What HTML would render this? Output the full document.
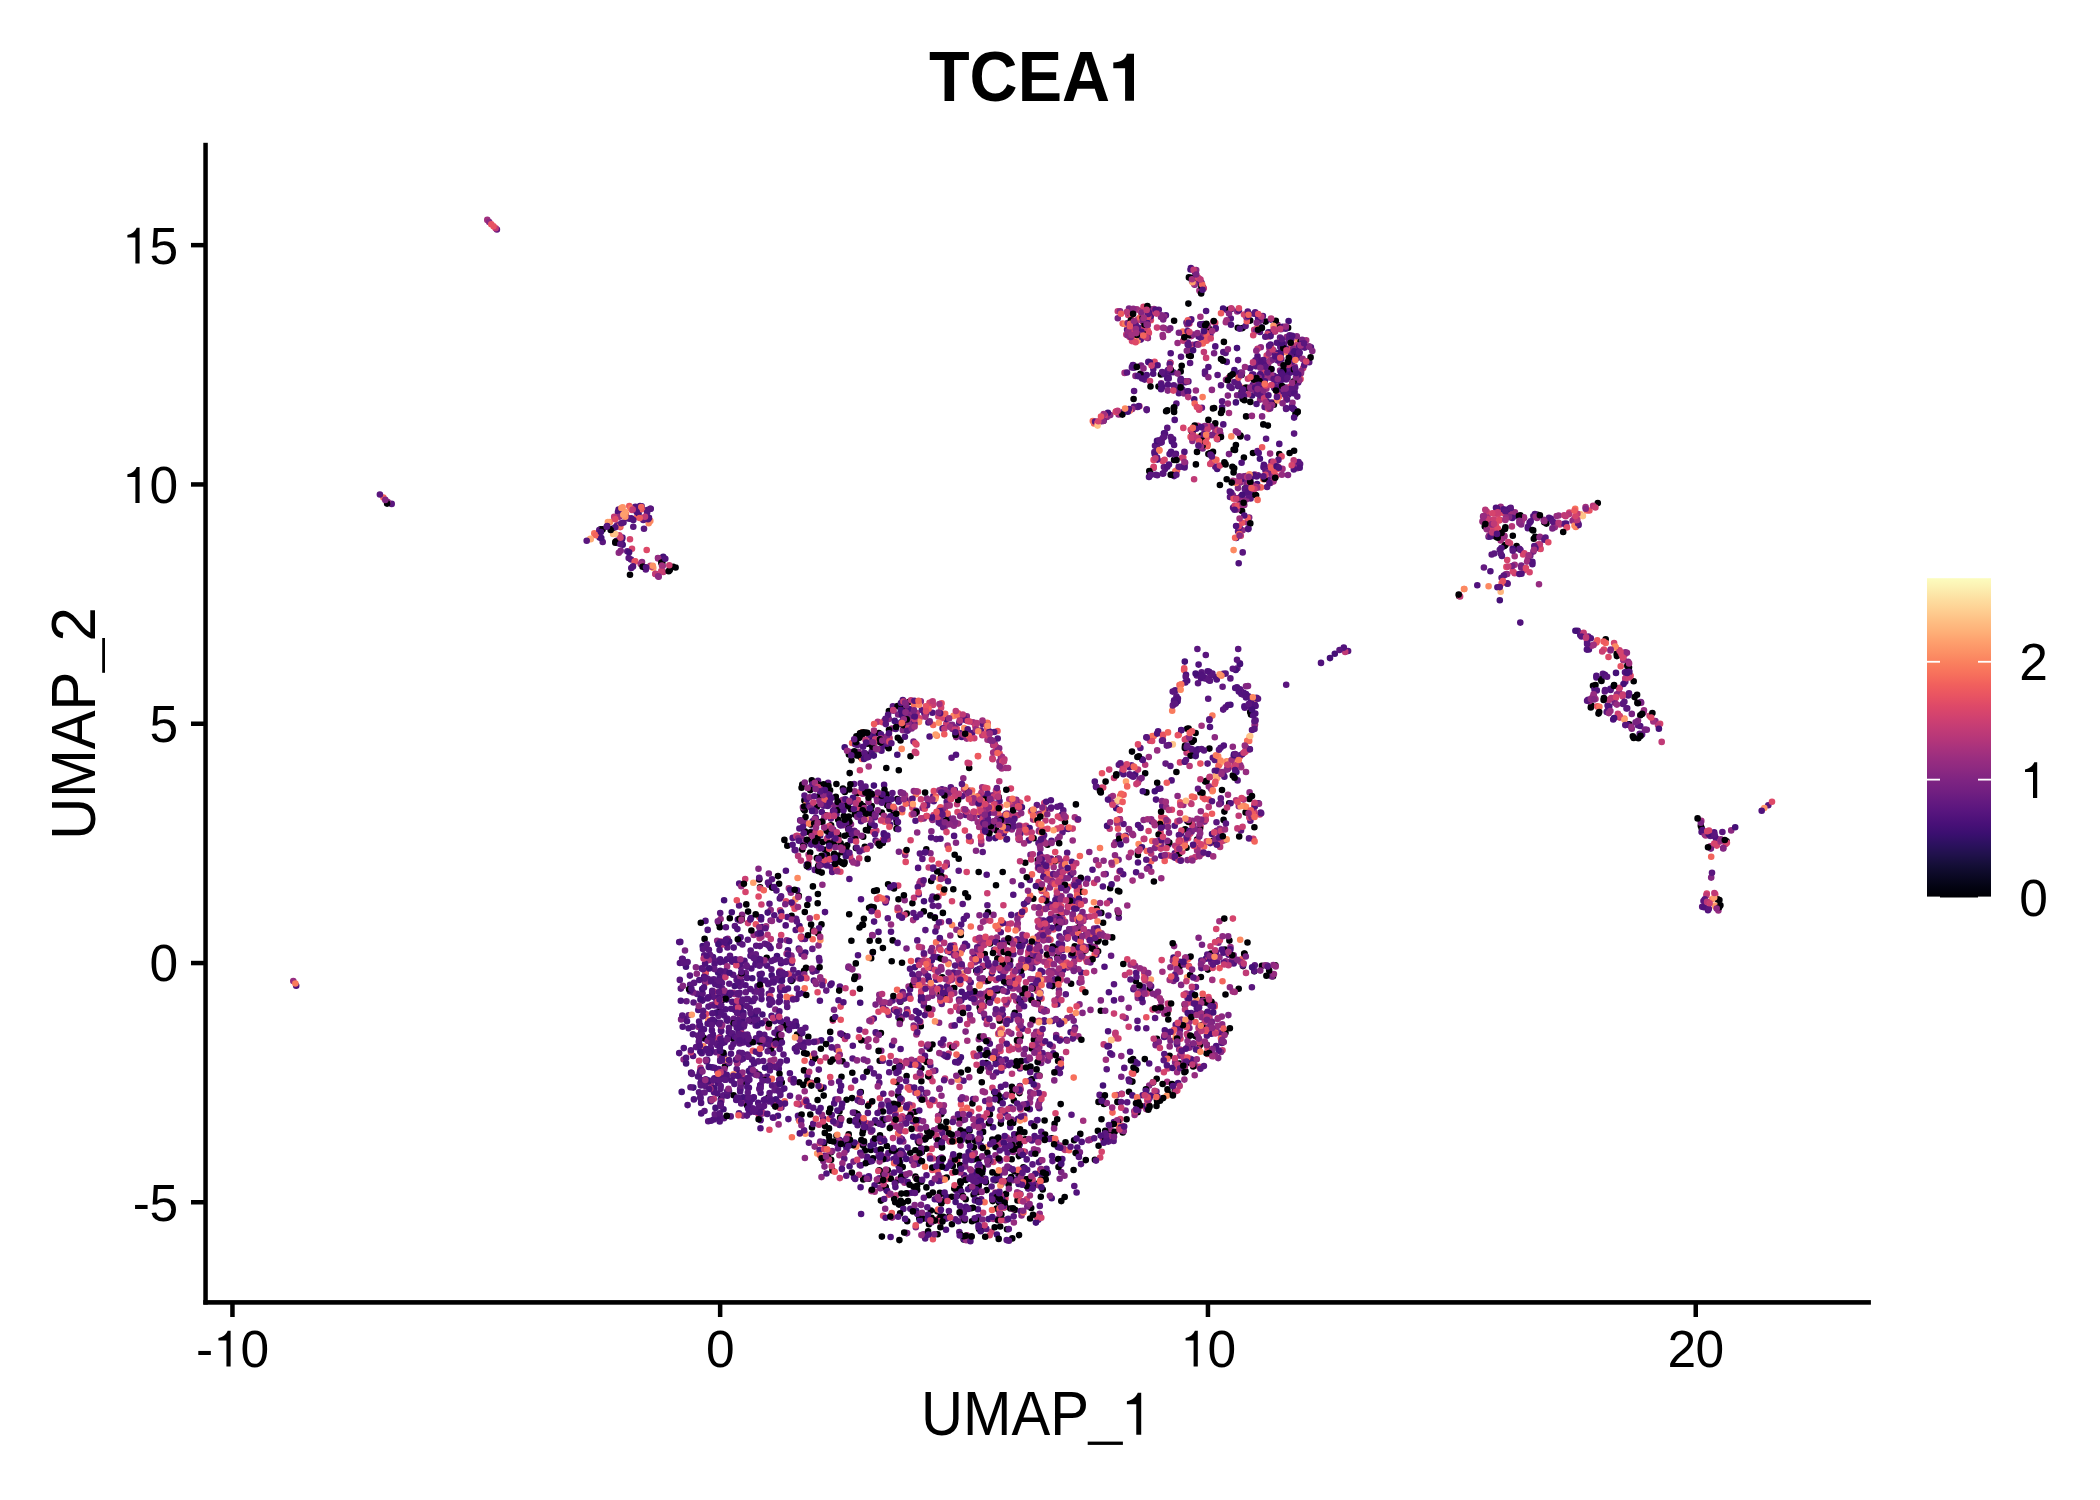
<!DOCTYPE html>
<html><head><meta charset="utf-8"><style>
html,body{margin:0;padding:0;background:#fff;width:2100px;height:1500px;overflow:hidden}
svg{display:block}
</style></head><body>
<svg width="2100" height="1500" viewBox="0 0 2100 1500" font-family='"Liberation Sans", sans-serif'>
<rect width="2100" height="1500" fill="#fff"/>
<g fill="none" stroke-width="6.60" stroke-linecap="round"><path stroke="#000004" d="M958.7 858.7h0M1018.8 1019.4h0M1174.8 1090.8h0M941.8 1147.0h0M849.3 834.0h0M1133.1 1059.1h0M886.3 737.5h0M999.1 1202.3h0M787.3 845.7h0M813.2 1059.4h0M910.5 756.3h0M1243.9 457.6h0M817.9 894.0h0M926.1 1137.5h0M1213.6 960.8h0M869.3 1161.4h0M870.1 825.2h0M897.3 799.1h0M938.6 1120.5h0M871.2 958.3h0M960.4 1166.4h0M983.0 966.9h0M1520.3 515.2h0M1208.4 419.9h0M1211.1 953.5h0M1023.4 1167.3h0M921.9 1152.1h0M973.6 1159.5h0M816.9 806.7h0M820.9 1048.8h0M760.1 887.3h0M963.7 1239.4h0M855.1 1112.9h0M747.0 1105.2h0M949.2 1216.8h0M1111.0 1132.3h0M1251.0 714.4h0M1199.8 1045.2h0M879.6 845.6h0M1094.5 938.2h0M824.8 1132.9h0M1003.3 943.1h0M992.4 1172.4h0M865.0 1150.5h0M862.9 732.4h0M880.9 741.2h0M1104.0 1103.9h0M1243.0 966.1h0M979.4 1170.2h0M1098.5 1101.9h0M867.6 858.9h0M1200.4 792.4h0M766.7 957.7h0M1002.7 872.0h0M1208.4 454.1h0M832.4 1170.4h0M1019.0 1235.1h0M915.0 1111.8h0M729.8 918.3h0M1229.2 803.2h0M612.4 528.9h0M1073.9 900.2h0M1126.6 1119.3h0M721.1 1098.9h0M719.7 1013.7h0M1184.7 1004.8h0M719.8 1001.3h0M822.4 822.1h0M978.7 872.0h0M831.1 1152.3h0M1500.4 531.7h0M971.6 1236.6h0M1261.9 965.7h0M1181.7 365.8h0M951.9 1224.2h0M887.3 805.3h0M893.7 813.0h0M1249.4 799.0h0M1504.4 546.1h0M1039.2 1182.9h0M863.0 925.0h0M1297.6 411.6h0M840.1 1117.7h0M1149.8 988.7h0M1009.9 942.1h0M1136.0 1070.1h0M1137.6 1112.2h0M926.4 1187.4h0M981.2 1068.6h0M830.5 826.1h0M986.2 1063.1h0M1250.2 320.6h0M836.5 1135.7h0M915.4 1176.6h0M1197.1 839.6h0M909.4 701.8h0M1240.4 436.4h0M1496.0 536.7h0M812.0 1127.5h0M930.3 915.4h0M1213.0 451.9h0M912.4 903.3h0M1005.4 1206.9h0M842.5 1061.2h0M938.8 1159.4h0M724.9 1066.6h0M960.8 935.0h0M1135.8 981.0h0M932.5 1044.5h0M941.3 1203.4h0M1112.2 937.4h0M804.1 970.9h0M1041.3 1179.2h0M784.4 839.9h0M863.9 918.7h0M1516.6 546.0h0M1245.6 812.4h0M1632.8 736.3h0M1726.6 841.4h0M1006.8 1001.4h0M848.7 1134.4h0M821.5 801.2h0M978.8 1124.9h0M1096.6 908.9h0M1298.3 350.2h0M802.5 1047.0h0M1132.4 1081.6h0M799.2 1082.2h0M840.6 843.2h0M768.4 1097.6h0M942.9 1201.0h0M844.8 792.0h0M860.8 1092.0h0M804.4 800.4h0M910.3 1152.7h0M865.1 812.5h0M1015.4 1065.3h0M1033.3 898.7h0M1012.4 1091.6h0M1193.8 740.2h0M880.0 742.0h0M865.5 812.3h0M1224.6 840.0h0M1273.0 976.2h0M1207.9 969.6h0M1516.6 548.2h0M1157.2 1101.7h0M1254.3 971.3h0M974.5 1181.5h0M1265.7 321.6h0M867.7 743.8h0M899.9 1168.6h0M913.7 1186.9h0M990.0 943.4h0M923.3 1218.6h0"/>
<path stroke="#451077" d="M718.2 1022.7h0M902.2 1174.7h0M811.4 831.9h0M686.0 966.7h0M782.5 976.3h0M980.2 1054.9h0M915.5 976.6h0M973.3 1155.3h0M965.8 1177.7h0M840.4 1121.6h0M769.2 946.1h0M938.4 993.8h0M1051.7 1198.3h0M693.3 1087.6h0M1236.4 772.0h0M836.4 814.3h0M731.8 912.2h0M999.8 1139.5h0M1212.0 834.1h0M961.7 737.0h0M764.1 1043.8h0M823.6 1087.6h0M1258.9 360.2h0M1252.2 395.5h0M1019.8 1174.3h0M720.8 1099.7h0M811.1 824.3h0M1137.4 320.3h0M946.1 1196.5h0M1173.5 957.6h0M1263.5 395.1h0M900.1 1161.8h0M1264.7 466.3h0M1260.8 374.0h0M738.2 1002.5h0M1057.4 1004.2h0M1249.6 749.2h0M937.7 957.3h0M778.0 1115.8h0M1616.0 672.9h0"/>
<path stroke="#51127c" d="M1047.7 1172.8h0M929.6 736.5h0M1701.6 832.0h0M1024.7 1168.0h0M1270.8 319.6h0M774.8 1021.1h0M718.7 1069.0h0M1180.1 961.9h0M693.1 1056.0h0M1596.4 677.5h0M1041.3 1010.2h0M929.8 1220.6h0M796.4 998.9h0M1039.7 1100.8h0M1310.9 347.4h0M906.0 1118.0h0M980.5 1011.0h0M1000.8 932.3h0M798.4 973.4h0M980.0 969.4h0M1078.1 892.7h0M1607.6 710.7h0M933.3 796.4h0M721.0 980.9h0M761.5 999.1h0M882.5 1118.8h0M1209.2 671.9h0M1223.4 774.6h0M781.1 963.3h0M702.5 1000.1h0M1002.6 944.5h0M1234.0 754.4h0M759.2 1116.1h0M836.6 1049.6h0M1031.9 1140.5h0M934.8 1199.2h0M891.0 931.7h0M1010.7 1107.5h0M946.0 1229.7h0M1077.3 1147.5h0M1292.0 406.4h0M882.4 1124.8h0M720.2 962.1h0M1237.0 687.3h0M1031.3 1123.3h0M861.1 821.2h0M1610.4 688.7h0M1086.0 934.6h0M938.9 1200.0h0M898.4 1017.2h0M795.6 1021.5h0M855.1 1080.6h0M812.8 809.6h0M720.2 1060.0h0M1273.5 351.6h0M1262.9 316.1h0M748.3 1037.6h0M751.4 968.5h0M920.7 1151.6h0M1180.4 385.5h0M1005.8 1059.6h0M1162.4 387.1h0M714.1 1004.6h0M1171.1 451.8h0M1016.6 969.6h0M1018.5 834.9h0M719.4 1117.4h0M1290.0 372.8h0M765.2 1041.0h0M1138.0 862.5h0M930.3 1065.3h0M985.4 1178.8h0M900.5 706.2h0M735.5 959.2h0M1030.3 1080.5h0M982.7 1063.0h0M936.3 979.8h0M1216.2 1046.1h0M1108.9 992.3h0M1062.3 1159.0h0M1219.1 940.4h0M1134.0 367.7h0M1044.9 809.3h0M720.9 1030.5h0M864.6 1177.9h0M820.1 835.5h0M849.6 1166.3h0M705.5 920.9h0M710.7 1049.1h0M854.0 1177.6h0M1260.8 379.8h0M963.5 1080.8h0M1267.1 965.5h0M740.4 1042.7h0M834.2 1103.4h0M989.1 838.4h0M1588.9 649.5h0M760.6 1037.2h0M971.1 997.9h0M926.5 1175.2h0M700.2 1070.9h0M1053.3 1053.2h0M1000.9 1086.9h0M795.7 930.0h0M1228.6 954.7h0M1010.5 1019.7h0M693.9 1099.4h0M1060.1 946.9h0M1209.4 1019.8h0M1186.5 322.6h0M1241.4 693.9h0M1200.4 291.6h0M745.5 985.2h0M1178.9 393.3h0M1270.9 481.3h0M810.7 787.3h0M1001.4 1019.8h0M924.8 1015.1h0M894.3 1110.3h0M931.1 837.5h0M752.1 1059.8h0M1288.6 394.5h0M1509.1 508.7h0M742.5 1098.6h0M980.7 1166.9h0M701.3 1080.2h0M883.8 833.3h0M724.6 1042.2h0M1051.5 840.8h0M1277.8 379.1h0M903.5 1180.0h0M1173.1 439.3h0M713.0 957.1h0M1044.3 1021.8h0M1149.0 477.0h0M896.0 819.4h0M884.1 784.9h0M1193.0 825.5h0M887.2 1158.6h0M759.7 974.4h0M1246.0 694.0h0M760.6 1092.8h0M881.5 750.7h0M701.7 1053.2h0M779.8 898.5h0M780.5 977.6h0M1091.4 946.4h0M752.1 1099.2h0M705.6 973.0h0M1165.9 315.2h0M883.9 745.8h0M719.7 1079.6h0"/>
<path stroke="#5a167e" d="M935.3 1070.6h0M1554.3 523.3h0M839.9 986.6h0M760.6 980.7h0M1211.0 675.3h0M758.2 1061.4h0M1702.2 906.7h0M777.8 1029.2h0M721.2 1043.0h0M730.7 1116.4h0M1243.6 694.8h0M1122.4 772.0h0M959.3 1232.0h0M772.1 1085.4h0M768.8 993.8h0M994.2 803.7h0M1216.1 952.5h0M923.8 1005.4h0M680.8 988.6h0M892.6 1000.6h0M1264.4 380.4h0M1268.4 377.0h0M927.8 1219.2h0M714.8 1041.5h0M833.6 857.4h0M1267.1 487.0h0M1134.1 391.0h0M1006.7 1240.1h0M1162.2 806.0h0M1040.3 951.3h0M720.2 1037.1h0M1052.4 1020.9h0M960.9 931.2h0M733.4 1044.1h0M911.0 803.8h0M1186.7 1023.5h0M1017.9 915.2h0M1219.8 1032.7h0M1018.6 1142.4h0M994.7 1143.0h0M1033.5 810.8h0M1088.5 937.3h0M1162.7 438.1h0M1268.4 332.2h0M1174.0 701.2h0M722.0 983.0h0M740.2 1053.7h0M1018.1 1048.0h0M1062.5 832.3h0M934.9 815.0h0M1254.0 313.7h0M1004.9 1112.7h0M801.5 953.9h0M1234.0 373.2h0M898.6 1166.0h0M1223.2 673.7h0M965.7 815.0h0M1507.2 583.4h0M1152.4 310.6h0M860.7 1165.4h0M957.9 1062.6h0M722.3 988.9h0M1170.4 766.0h0M1501.6 577.8h0M1036.9 942.9h0M818.0 780.9h0M835.0 808.8h0M629.3 518.7h0M949.6 1141.2h0M778.7 1002.1h0M1627.2 671.0h0M1263.2 374.8h0M859.5 1029.7h0M1161.7 442.2h0M1020.5 1153.1h0M832.2 871.9h0M840.2 823.2h0M1029.8 879.9h0M713.9 960.0h0M747.4 1034.5h0M705.1 981.9h0M1155.9 1044.2h0M1026.9 1180.9h0M1007.1 1219.5h0M1230.8 318.5h0M1196.8 675.5h0M932.9 868.7h0M1286.1 408.1h0M1163.9 467.1h0M999.5 1174.3h0M1167.3 427.9h0M1032.5 1164.4h0M707.2 1060.1h0M1142.6 1002.1h0M740.4 1088.9h0M878.6 1155.9h0M1188.4 1062.7h0M760.8 1084.9h0M746.6 1005.9h0M723.0 1041.0h0M1139.2 327.7h0M1179.7 1029.0h0M391.7 503.9h0M774.5 1032.8h0M890.1 1103.5h0M1241.1 691.6h0M994.2 949.8h0M992.6 998.3h0M1286.1 379.4h0M633.3 526.7h0M708.2 1121.2h0M1716.0 838.4h0M1220.6 747.8h0M977.6 1166.8h0M750.4 1073.8h0M1182.3 389.2h0M1136.1 1109.1h0M999.8 1171.4h0M780.5 940.6h0M773.7 1104.3h0M1157.3 475.3h0M1165.0 469.0h0M836.0 814.2h0M901.1 722.4h0M1230.0 497.0h0M1625.3 681.7h0M1121.3 1129.4h0M747.4 1054.6h0M828.1 782.9h0M1273.3 350.4h0M971.0 792.3h0M719.9 1010.7h0M697.2 993.9h0M1602.9 673.8h0M1181.0 356.7h0M701.6 968.3h0M750.7 950.6h0M696.1 1047.1h0M1191.3 319.4h0M720.5 1089.0h0M1175.3 974.4h0M1009.6 952.7h0M873.9 1073.4h0M628.7 558.0h0M793.2 976.2h0"/>
<path stroke="#641a80" d="M764.8 943.7h0M986.4 981.3h0M1198.0 788.8h0M1276.3 386.5h0M780.4 1042.5h0M1201.9 407.8h0M912.0 1161.0h0M617.1 525.4h0M716.0 1052.3h0M1269.5 975.2h0M1131.6 765.2h0M721.8 975.0h0M1025.7 964.2h0M773.1 1053.0h0M1253.4 374.5h0M1054.3 979.4h0M688.6 1015.2h0M781.4 1107.4h0"/>
<path stroke="#782281" d="M925.3 973.5h0M1220.4 434.1h0M993.0 795.3h0M1019.4 1193.5h0M1228.4 1015.1h0M1229.0 454.1h0M1042.2 840.5h0M922.3 884.1h0M770.6 920.6h0M1194.7 284.7h0M779.2 945.9h0M1119.7 1129.2h0M1030.5 854.9h0M886.3 1189.9h0M888.8 1015.0h0M1202.7 448.4h0"/>
<path stroke="#832681" d="M952.6 1157.4h0M1012.7 881.3h0M1189.6 1047.6h0M1623.5 659.8h0M1022.5 944.6h0M1500.7 508.8h0M1204.6 430.7h0M1249.2 517.6h0M698.6 1027.0h0M1140.5 310.9h0M1036.2 1031.8h0M1090.0 937.1h0M987.8 1067.1h0M1255.2 390.8h0M984.0 831.3h0M1594.0 696.6h0M1065.1 921.7h0M1125.7 1018.0h0M1270.1 408.1h0M711.7 1005.0h0M959.2 1079.3h0M1067.3 1018.1h0M1711.2 877.6h0M1248.0 686.0h0M950.1 792.3h0M993.4 994.4h0M980.7 1146.4h0M939.1 1022.8h0M1023.8 1054.3h0M1249.6 389.3h0M1165.7 1056.8h0M1184.0 393.4h0M991.1 799.7h0M1040.4 849.0h0M1238.0 488.1h0M1270.4 483.0h0M1011.3 1033.6h0M775.3 1009.5h0M872.5 1160.4h0M1163.9 328.1h0M999.4 1211.7h0M976.0 850.7h0M951.3 822.1h0M1214.9 427.4h0M981.3 844.0h0M1187.2 324.5h0M1181.1 984.9h0M1246.0 476.1h0M911.7 1017.3h0M1265.6 407.3h0M1061.9 916.1h0M658.0 558.0h0"/>
<path stroke="#8c2981" d="M1180.0 1055.8h0M953.8 1118.9h0M1011.9 829.4h0M822.4 884.8h0M941.6 1157.5h0M983.8 939.4h0M1218.4 942.8h0M1050.7 882.6h0M991.0 991.4h0M1031.4 1181.9h0M1020.7 950.0h0M1051.8 984.6h0M1013.3 1152.0h0M910.9 1113.2h0M859.7 1101.4h0M1256.7 389.5h0M1096.1 860.2h0M1036.0 962.2h0M988.1 991.8h0M1058.0 998.8h0M724.5 1069.1h0M963.3 778.3h0M1704.8 834.4h0M1080.8 936.6h0M818.5 945.4h0M387.7 502.0h0M995.4 1155.3h0M786.8 940.2h0M987.5 821.5h0M1110.3 415.1h0M1078.7 905.3h0M1037.5 1185.1h0M942.7 1045.0h0M846.1 1145.9h0M1641.2 702.7h0M886.5 1156.4h0M1162.5 823.9h0M941.0 967.1h0M1024.6 999.2h0M910.1 998.3h0M1067.5 967.6h0M903.3 1141.5h0M1051.0 858.6h0M1292.5 402.8h0M683.6 1059.5h0M1572.6 520.8h0M1112.2 802.9h0M997.2 819.0h0M802.0 939.0h0M814.7 1146.6h0M1164.3 316.6h0M1013.6 816.5h0M1057.9 982.6h0"/>
<path stroke="#962c80" d="M1500.7 506.8h0M720.6 919.1h0M1189.0 834.3h0M981.2 1199.3h0M996.8 1053.8h0M984.9 1092.3h0M994.7 825.6h0M1164.3 1013.8h0M1643.5 712.5h0M1485.4 516.5h0M1039.4 830.2h0M885.9 1009.7h0M988.2 1040.4h0M1255.0 724.6h0M1115.5 842.4h0M921.0 1098.9h0M1240.4 482.5h0M1591.6 645.7h0M906.3 1061.1h0M753.7 934.9h0M1078.4 1036.4h0M1039.0 946.4h0M970.1 1169.3h0M981.0 1227.5h0M1294.6 464.5h0M966.8 738.6h0M960.6 1145.6h0M940.4 1000.4h0M1033.6 1020.5h0M1059.7 948.1h0M1297.8 468.1h0M1047.9 1055.1h0M662.7 566.0h0M830.7 804.5h0M1241.8 373.1h0M1159.5 1007.1h0M1005.3 817.3h0M1046.8 948.1h0M799.5 1118.6h0M1086.0 917.0h0M923.3 986.4h0M1277.6 324.7h0"/>
<path stroke="#a1307e" d="M993.2 745.3h0M1705.7 835.5h0M1037.2 1040.3h0M1306.2 340.2h0M1008.5 1031.8h0M778.7 1105.8h0M871.3 1191.1h0M1232.8 991.6h0M939.7 808.9h0M1007.9 957.1h0M1219.4 921.3h0M1223.8 840.2h0M1585.6 507.0h0M970.2 993.3h0M1117.2 823.5h0M1081.5 945.1h0M1112.8 796.0h0M1490.4 534.8h0M958.0 823.6h0M1184.7 841.4h0M1212.3 979.9h0M839.4 1155.3h0M1185.7 1004.5h0M1527.8 559.1h0M982.4 997.6h0M1192.7 344.8h0M1033.1 819.6h0M1180.3 843.9h0M930.5 965.3h0M947.6 845.5h0M1539.9 536.7h0M999.8 1159.6h0M1102.4 418.8h0M1233.6 762.0h0M723.5 1060.6h0M1005.6 828.4h0M1710.4 846.4h0M988.7 991.1h0"/>
<path stroke="#b73779" d="M1006.0 1004.5h0M983.0 965.7h0M1021.0 915.1h0M800.9 860.6h0M1061.3 896.0h0M1186.6 752.8h0M767.6 934.8h0M740.6 1079.7h0M1175.2 845.7h0M1243.6 799.6h0M1145.2 764.8h0M999.3 781.2h0M1264.6 476.1h0M1144.3 838.9h0"/>
<path stroke="#c03a76" d="M1019.7 839.9h0M832.9 1020.6h0M1026.0 825.7h0M997.2 748.0h0M1200.9 852.6h0M981.1 948.1h0M1014.2 988.1h0M983.2 831.4h0M1146.5 309.0h0M946.6 824.4h0M1036.8 953.7h0M1559.8 524.5h0M896.2 1195.2h0M960.0 983.9h0M948.7 1053.5h0M1036.2 1086.9h0M1182.1 332.8h0M889.6 738.1h0M982.3 735.2h0M1008.4 999.9h0M1186.7 994.4h0M970.7 841.3h0M1014.5 1147.1h0M950.4 979.5h0M986.9 817.8h0M964.0 789.2h0M1286.0 398.9h0M770.8 939.1h0M903.8 701.4h0M1097.0 930.4h0M1725.6 844.0h0M1189.4 323.6h0M1050.0 949.9h0M1117.8 311.3h0M1186.5 1027.0h0M1126.3 334.5h0M856.7 1144.4h0"/>
<path stroke="#ca3e72" d="M1147.4 330.0h0M1028.3 951.8h0M1004.1 1207.6h0M1020.9 942.6h0M1222.5 1050.3h0M938.4 1218.8h0M933.0 704.9h0M1240.8 535.8h0M1047.3 965.5h0M987.7 723.2h0M1114.0 778.0h0M1303.2 368.1h0M932.5 1081.3h0M1228.8 377.9h0M991.5 1231.7h0M1043.9 936.4h0M1514.6 573.2h0M1168.6 1010.1h0M1253.3 838.9h0M1167.7 1068.4h0M699.1 1060.8h0M806.5 978.2h0M1540.6 548.9h0M859.6 808.8h0M1193.1 281.3h0M1200.6 826.6h0M1044.4 979.4h0M980.8 994.7h0M851.1 1087.8h0M1217.8 466.2h0M1101.4 421.0h0M938.4 716.5h0"/>
<path stroke="#d5446d" d="M934.4 1100.9h0M820.6 800.2h0M788.7 973.9h0M632.0 548.7h0M1614.1 643.0h0M1060.0 860.8h0M1060.7 949.8h0M1161.3 816.8h0M919.6 718.2h0M898.2 885.6h0M988.2 735.5h0M1041.7 891.0h0M1101.7 1151.7h0M1523.1 554.4h0M966.7 872.0h0M1212.7 968.0h0M1002.8 760.0h0M760.0 888.2h0M1716.8 845.6h0M956.7 728.6h0M1147.2 1100.6h0M1004.8 1021.0h0M1134.7 337.2h0M1038.6 882.0h0M952.0 901.3h0M925.7 713.4h0M929.1 1102.8h0M971.1 1111.8h0M1017.4 984.6h0M670.1 567.4h0M883.1 1215.8h0M1120.3 1119.1h0M781.2 935.0h0M989.9 732.6h0M1189.2 957.7h0M1068.9 871.0h0M1620.5 652.8h0M1266.7 355.6h0M1569.3 512.6h0M1180.5 1038.7h0M1069.8 906.1h0M1287.8 349.1h0M1715.2 894.4h0M878.5 1011.8h0M1199.1 1066.8h0M990.2 920.7h0M1026.7 1199.2h0"/>
<path stroke="#de4968" d="M1095.2 933.2h0M1216.4 433.6h0M792.2 918.2h0M987.0 1114.6h0M1050.5 939.7h0M1539.9 548.8h0M1168.2 855.4h0M1031.5 958.2h0M1061.2 906.3h0M1259.6 361.4h0M1177.3 1090.5h0M905.7 861.9h0M832.5 814.0h0M706.0 1014.1h0M979.1 940.9h0M1144.0 329.5h0M1041.5 998.4h0M957.2 1160.3h0M1024.6 967.4h0M997.9 929.0h0M1502.6 512.4h0"/>
<path stroke="#e75263" d="M1278.1 466.7h0M620.3 527.1h0M1219.3 764.4h0M1091.7 910.0h0M705.7 972.0h0M958.1 713.3h0M940.5 807.4h0M1082.4 989.3h0M1107.2 413.8h0M1178.3 859.8h0M1200.4 763.6h0M961.0 1104.4h0M999.6 753.6h0M1068.4 886.7h0M1177.1 470.3h0M932.9 1239.2h0M1146.3 1017.3h0"/>
<path stroke="#ed5a5f" d="M1063.1 919.2h0M629.3 506.0h0M1214.8 784.0h0M1195.5 1022.1h0M1202.8 797.2h0M987.3 728.9h0M1061.9 899.8h0M997.4 1000.6h0M906.1 727.2h0M1274.0 402.5h0M1150.9 320.2h0M1147.8 330.7h0M1002.1 816.4h0M1242.1 387.9h0"/>
<path stroke="#f2645c" d="M966.9 1107.9h0M931.8 818.8h0M1178.8 734.8h0M784.6 1101.4h0M1076.6 948.4h0M1032.0 874.4h0M958.4 982.2h0M812.7 939.3h0M852.1 743.0h0M1198.8 343.8h0M1094.1 423.5h0M1068.4 965.4h0M637.3 516.7h0M897.1 989.7h0M1112.5 1112.6h0"/>
<path stroke="#f7705c" d="M1239.8 535.8h0M925.1 1166.8h0M905.3 1122.8h0M1092.8 421.1h0M1152.2 841.0h0M861.2 732.9h0"/>
<path stroke="#f97b5d" d="M1575.8 526.9h0M1464.3 589.0h0M1235.9 482.9h0M1156.7 312.6h0M625.9 514.0h0M915.9 794.3h0"/>
<path stroke="#fc8961" d="M938.9 993.0h0M952.1 925.1h0M1226.7 761.3h0M988.1 798.9h0M1285.5 352.1h0M708.3 1020.0h0M806.4 804.1h0M948.1 1128.7h0M648.7 523.3h0M1297.5 340.5h0"/>
<path stroke="#fd9467" d="M989.1 824.0h0M935.0 1021.4h0M795.3 899.4h0M1295.6 352.0h0M1039.4 959.1h0M829.9 831.5h0M1236.7 760.3h0M1247.2 483.3h0M1119.5 810.0h0M1187.1 977.2h0M957.6 1079.8h0M812.3 1055.9h0M962.7 973.6h0"/>
<path stroke="#fe9f6d" d="M1268.8 481.5h0M1180.1 689.4h0M1220.8 762.4h0M653.3 568.0h0M1715.2 905.6h0M1229.2 761.2h0"/>
<path stroke="#feac76" d="M590.7 539.3h0"/>
<path stroke="#feb77e" d="M613.1 534.0h0"/>
<path stroke="#fec488" d="M1172.8 744.4h0"/>
<path stroke="#000004" d="M1054.6 1123.9h0M888.7 748.2h0M838.2 819.7h0M1242.5 328.1h0M945.4 1128.2h0M1039.4 1075.5h0M779.1 883.8h0M771.1 1048.5h0M1225.5 994.5h0M796.1 1048.0h0M1021.0 1181.5h0M863.3 806.1h0M1011.9 1086.7h0M940.4 1217.0h0M1203.0 288.7h0M1241.5 392.4h0M899.0 1204.6h0M1206.0 1013.9h0M1032.4 1185.5h0M1167.5 1013.5h0M1057.5 948.2h0M1180.7 371.4h0M825.9 815.2h0M882.6 1171.7h0M871.4 813.6h0M1279.3 454.1h0M1168.6 1093.9h0M821.5 924.4h0M1211.2 453.5h0M1037.8 860.3h0M881.9 1236.6h0M1034.4 1126.3h0M1197.6 1037.1h0M979.0 1229.0h0M1215.9 957.6h0M858.6 1100.2h0M995.5 1059.9h0M1032.0 1079.4h0M960.4 1234.7h0M806.0 967.9h0M830.1 790.3h0M824.1 1143.8h0M844.5 804.8h0M1057.0 902.4h0M1207.7 329.8h0M969.2 768.0h0M843.1 1035.2h0M1013.9 1100.4h0M804.1 1053.0h0M855.9 848.1h0M1616.7 653.7h0M1158.5 386.6h0M1144.8 1059.1h0M1052.8 946.5h0M819.1 796.3h0M898.8 1158.7h0M1250.2 712.0h0M848.9 754.4h0M1170.0 372.3h0M1200.7 324.8h0M1215.3 423.3h0M825.0 1125.9h0M929.6 1048.7h0M931.2 880.9h0M860.6 757.0h0M894.0 888.5h0M842.1 852.2h0M718.5 1012.2h0M895.0 1068.4h0M859.9 988.7h0M1101.3 912.9h0M896.8 822.8h0M919.3 1218.2h0M828.5 786.1h0M940.4 1227.2h0M816.8 858.1h0M847.2 845.3h0M1216.7 961.5h0M1145.2 773.2h0M846.2 848.7h0M1045.7 1179.4h0M887.7 1170.2h0M1591.5 705.5h0M968.4 1140.9h0M1190.1 975.0h0M906.6 1076.0h0M830.2 1031.9h0M883.6 1119.9h0M1288.1 327.8h0M1113.0 1134.4h0M1605.7 639.3h0M1007.0 1229.2h0M1025.3 862.7h0M994.2 1091.8h0M886.7 794.4h0M848.2 828.9h0M810.0 832.6h0M1261.5 390.3h0M1008.0 1180.8h0M1266.2 371.3h0M823.6 784.2h0M951.8 1196.8h0M929.0 1224.3h0M1179.7 966.3h0M880.9 1200.6h0M1279.8 380.0h0M1593.0 685.7h0M864.0 1143.1h0M854.8 814.4h0M704.6 938.9h0M1533.8 538.8h0M1013.2 1122.9h0M977.1 1141.3h0M875.9 749.2h0M1074.1 1140.3h0M1185.1 829.4h0M961.0 1072.5h0M1156.9 1038.7h0M1535.2 536.7h0M1300.6 341.6h0M1633.7 681.2h0M978.5 1159.0h0M836.4 784.0h0M876.8 1122.7h0M1000.2 1226.5h0M1546.4 523.6h0M825.1 849.7h0M808.6 841.2h0M1200.0 829.1h0M921.4 1081.3h0M1015.0 1209.8h0M1058.2 1070.1h0M839.5 1111.2h0M833.3 815.4h0M1057.8 858.9h0M991.2 740.2h0M1174.1 459.9h0M1033.9 1039.7h0M1244.5 953.5h0M1209.4 748.6h0M960.0 1165.0h0M814.8 819.0h0M821.7 872.6h0M926.3 849.4h0M870.9 1150.0h0M837.3 855.6h0M1196.1 279.4h0M981.7 1229.4h0M1225.5 1032.7h0M1198.6 1050.1h0M937.3 1211.2h0M921.3 1181.8h0M1019.2 940.5h0"/>
<path stroke="#451077" d="M1032.0 986.2h0M728.2 941.6h0M1070.6 1032.3h0M914.9 967.2h0M1171.9 441.6h0M885.0 838.6h0M984.6 827.1h0M1266.6 401.3h0M946.1 1167.9h0M1184.3 1064.9h0M771.7 975.4h0M1061.6 815.0h0M870.5 1145.8h0M701.2 997.7h0M1217.2 469.0h0M638.6 513.6h0M778.3 1044.0h0M897.3 754.8h0M968.6 1152.1h0M787.9 950.2h0M951.1 725.3h0M821.2 1040.4h0M686.1 1063.4h0M1081.3 972.5h0M778.8 1033.7h0M955.6 1202.0h0M993.1 1127.2h0M714.4 1021.2h0M748.5 1042.9h0M1135.2 774.4h0M706.2 1082.8h0M899.8 1016.0h0M917.6 1163.7h0M1139.8 376.2h0M729.0 1063.1h0M871.2 823.1h0M1257.1 484.1h0M663.2 556.9h0M1059.5 1024.2h0"/>
<path stroke="#51127c" d="M1181.1 833.5h0M1168.4 369.7h0M749.7 1103.1h0M599.6 537.4h0M717.4 1093.5h0M699.7 1073.3h0M1043.0 838.7h0M761.2 1109.6h0M1137.5 1028.3h0M616.7 540.7h0M903.4 1208.9h0M777.9 1036.1h0M980.3 815.2h0M922.7 961.4h0M960.6 1132.1h0M706.6 1061.5h0M795.0 906.5h0M1243.6 692.8h0M1007.0 839.0h0M976.6 970.9h0M705.2 1039.0h0M943.5 1039.6h0M1090.3 940.5h0M1070.7 875.1h0M1028.8 840.4h0M968.3 1007.9h0M1198.6 336.6h0M1167.4 371.0h0M961.3 1000.1h0M1057.0 926.4h0M860.2 736.5h0M1133.4 989.2h0M755.4 964.6h0M1137.5 337.8h0M860.6 1187.2h0M919.3 1110.5h0M1039.8 977.7h0M1141.3 374.8h0M1297.5 349.2h0M757.8 958.6h0M880.6 1141.7h0M1192.0 281.1h0M760.7 1120.2h0M902.8 700.1h0M1058.8 959.7h0M852.8 1045.7h0M838.5 1000.2h0M1519.4 574.0h0M811.6 1134.3h0M1511.0 511.5h0M900.4 1087.1h0M1039.8 1035.0h0M1185.4 682.4h0M1290.9 371.4h0M884.3 1159.0h0M1007.8 1146.4h0M1032.6 1183.0h0M768.2 984.3h0M1497.5 533.9h0M757.4 986.3h0M989.8 1043.7h0M774.3 915.3h0M715.3 984.2h0M727.4 941.0h0M798.0 1115.7h0M967.2 1157.7h0M839.3 1139.9h0M720.2 959.2h0M735.1 1010.1h0M792.7 837.9h0M703.9 1081.3h0M769.2 983.3h0M618.6 509.6h0M1158.4 788.8h0M1640.2 726.0h0M1243.5 388.8h0M1175.9 453.8h0M707.1 981.0h0M1114.0 1000.4h0M778.8 1068.7h0M877.4 842.9h0M1114.0 1122.1h0M1291.3 339.1h0M1189.5 830.8h0M808.6 867.3h0M698.0 1076.5h0M881.5 800.0h0M718.7 985.5h0M793.5 1024.3h0M647.3 510.0h0M1607.6 705.5h0M780.7 1090.8h0M1205.9 958.7h0M959.2 1060.7h0M754.1 1063.5h0M1587.1 642.0h0M736.0 1006.8h0M742.9 1058.8h0M941.2 1161.7h0M1708.0 910.3h0M740.8 984.0h0M975.8 996.3h0M1198.6 664.6h0M748.8 1044.1h0M799.4 828.5h0M1123.2 874.2h0M1321.0 662.9h0M734.4 1083.9h0M1294.1 409.4h0M1233.7 963.4h0M1029.8 1109.2h0M692.9 1034.2h0M898.7 801.7h0M1153.2 373.7h0M296.2 985.7h0M1030.6 996.0h0M784.3 1088.6h0M739.5 1055.9h0M1280.4 382.1h0M1263.9 464.7h0M732.3 961.5h0M1039.4 997.6h0M711.4 1089.1h0M940.1 1210.9h0M989.5 731.6h0M880.2 1188.2h0M770.6 948.2h0M740.5 1057.4h0M891.6 799.1h0M685.1 962.4h0M701.2 1113.4h0M785.0 1103.6h0M767.1 965.7h0M989.3 1108.9h0M1077.3 939.0h0M699.1 1021.5h0M985.5 812.7h0M1238.1 386.3h0M1200.0 427.0h0M800.2 820.2h0M1066.8 888.8h0M750.5 955.8h0M742.8 1035.3h0M1092.5 869.7h0M946.8 864.9h0M1060.5 817.5h0M719.7 1121.4h0M698.9 1041.3h0M650.7 508.7h0M1040.0 854.4h0M698.8 1076.2h0M816.6 970.8h0M769.6 1004.7h0M746.9 1082.2h0M1187.2 680.8h0M727.5 1061.3h0"/>
<path stroke="#5a167e" d="M1028.1 1188.6h0M714.2 1005.5h0M739.4 1052.7h0M753.9 1072.0h0M1019.7 1144.4h0M746.5 1078.6h0M1158.8 309.7h0M736.7 1069.0h0M1216.8 842.2h0M741.0 1101.7h0M769.9 1070.4h0M1275.0 380.8h0M1214.8 760.0h0M875.0 817.2h0M1215.3 466.7h0M1118.8 917.8h0M952.8 1122.0h0M1286.2 684.8h0M902.0 1139.2h0M781.1 990.1h0M1025.4 960.0h0M953.2 1139.9h0M1250.4 820.8h0M702.0 1080.2h0M1075.2 937.8h0M708.5 1006.6h0M901.1 1099.5h0M1282.2 349.7h0M919.7 1096.6h0M1011.3 1062.8h0M987.4 905.3h0M710.7 1047.7h0M1298.2 382.5h0M945.1 996.1h0M1154.4 452.0h0M705.7 947.0h0M1207.6 763.6h0M1005.8 983.0h0M1223.3 352.1h0M739.0 1113.2h0M1174.8 853.2h0M769.1 884.7h0M713.8 979.3h0M844.9 1140.8h0M1269.8 479.5h0M1168.3 376.2h0M720.9 1026.1h0M990.4 830.3h0M961.2 733.1h0M749.8 1008.4h0M1160.0 847.4h0M1187.8 342.6h0M635.3 506.7h0M813.2 1123.9h0M764.0 1105.9h0M742.4 999.5h0M875.9 740.4h0M1061.1 912.8h0M1119.8 819.4h0M631.0 559.5h0M1155.0 445.7h0M812.8 971.6h0M1270.9 360.5h0M754.1 1111.7h0M772.0 879.3h0M1284.0 388.2h0M729.0 1091.1h0M961.7 1140.1h0M1238.2 649.0h0M1133.4 325.3h0M1065.8 994.3h0M747.8 999.0h0M1241.7 505.5h0M1002.9 1014.8h0M1290.7 365.1h0M1249.0 838.4h0M1118.8 764.8h0M900.1 723.9h0M1041.3 1131.8h0M814.8 869.9h0M958.7 870.7h0M699.0 1042.6h0M1252.9 385.0h0M1122.9 412.4h0M1305.0 362.0h0M1208.2 698.8h0M1348.1 651.0h0M986.6 724.8h0M712.4 1021.5h0M1049.6 959.8h0M1221.0 385.3h0M682.7 959.1h0M623.5 522.6h0M749.4 1112.4h0M1250.8 707.2h0M1160.4 442.7h0M778.2 1018.2h0M757.3 1019.2h0M844.3 1158.8h0M986.3 1228.9h0M933.1 877.6h0M831.4 867.0h0M981.2 1146.1h0M1225.6 352.9h0M1285.5 387.6h0M1063.3 810.2h0M1231.5 309.0h0M1212.8 757.8h0M753.6 1097.3h0M932.6 896.5h0M1136.5 976.9h0M1105.7 874.1h0M1142.1 759.2h0M1129.6 774.4h0M707.2 978.6h0M939.6 1088.5h0M769.7 1039.9h0M706.8 1038.8h0M1195.6 755.2h0M1294.1 433.6h0M783.5 1054.5h0M690.1 984.8h0M1309.2 362.3h0M1229.5 386.2h0M779.5 974.8h0M1768.3 805.3h0M1252.0 730.0h0M1238.1 360.1h0M1189.7 1018.1h0M1146.3 1028.3h0M975.8 993.7h0M1059.5 936.4h0M1200.4 1068.7h0M1144.7 379.6h0M1017.6 1173.3h0M1210.4 334.6h0M848.5 967.6h0M747.7 1056.7h0M1214.8 770.8h0M1043.2 870.3h0M1190.1 363.0h0M622.4 537.5h0M645.8 569.4h0M942.3 1132.9h0M892.9 706.4h0M1185.4 382.2h0M727.4 947.4h0M955.4 1219.3h0M863.8 753.5h0M1095.1 421.6h0M720.8 1077.0h0M1038.5 842.9h0M1710.4 836.0h0M739.8 1043.4h0M1062.7 950.0h0M804.3 845.4h0M1045.0 864.5h0M1225.6 673.6h0"/>
<path stroke="#641a80" d="M1237.5 382.4h0M815.2 811.4h0M763.9 1041.4h0M884.4 720.7h0M617.5 543.0h0M1170.3 362.5h0M741.0 976.0h0M941.7 1003.9h0M726.9 1078.0h0M739.7 1014.7h0M1260.6 812.5h0M755.8 954.2h0M752.4 955.3h0M686.5 1001.3h0M1237.4 668.3h0M733.6 1018.7h0M873.7 794.9h0M1271.5 461.9h0M936.5 1138.1h0M778.1 1039.6h0M1239.8 663.2h0"/>
<path stroke="#782281" d="M764.9 1078.9h0M1056.2 1142.2h0M907.0 1009.2h0M1059.7 1178.7h0M1073.7 1020.7h0M1631.8 713.9h0M1047.9 1060.6h0M1094.1 928.6h0M941.1 819.6h0M1302.1 339.8h0M1101.2 421.2h0M1141.1 365.5h0M1189.4 1028.0h0M1060.3 881.2h0M1173.5 980.9h0M1006.8 1002.5h0M1183.9 964.4h0M947.3 1056.9h0M1220.6 834.4h0M693.1 992.4h0"/>
<path stroke="#832681" d="M910.0 802.4h0M979.5 915.2h0M1239.8 501.8h0M1010.4 960.3h0M899.2 1010.6h0M876.9 799.0h0M1039.4 813.7h0M824.5 1166.6h0M682.9 985.9h0M1177.5 1038.9h0M872.7 935.5h0M852.0 860.5h0M804.3 974.2h0M1154.9 847.9h0M1218.2 1058.1h0M1625.3 652.3h0M742.1 914.9h0M1022.2 959.7h0M933.9 1130.3h0M727.7 938.7h0M765.5 1020.9h0M1187.5 860.1h0M989.7 740.1h0M886.0 901.2h0M1080.8 939.8h0M932.0 948.1h0M1073.3 872.5h0M1068.3 829.0h0M1030.9 965.0h0M1036.9 1120.3h0M997.4 813.1h0M922.6 808.1h0M888.8 718.9h0M992.7 1025.9h0M788.1 954.1h0M1223.0 950.5h0M1063.5 862.4h0M935.7 1135.9h0M1003.0 962.8h0M879.8 1187.9h0M993.5 914.9h0M816.1 983.9h0M1043.6 940.2h0M1042.7 839.5h0M1507.4 515.9h0M1012.8 1180.3h0M1227.9 395.6h0M1204.6 821.6h0M915.8 1227.3h0M1147.7 981.1h0M695.9 967.3h0M966.8 970.5h0"/>
<path stroke="#8c2981" d="M1242.6 530.2h0M833.4 841.0h0M1187.6 1041.1h0M951.0 1161.3h0M926.9 798.6h0M1240.2 395.3h0M965.8 794.0h0M1009.1 816.4h0M1265.1 965.2h0M1504.3 536.8h0M850.6 752.1h0M941.5 969.4h0M1268.0 364.3h0M1222.2 1024.4h0M1030.7 1069.9h0M1229.9 987.2h0M801.4 836.0h0M1057.8 839.4h0M959.2 1010.7h0M840.3 1033.6h0M939.1 814.4h0M770.7 910.0h0M1026.6 827.6h0M1247.4 522.5h0M1088.6 932.4h0M868.5 1046.8h0M1232.9 495.2h0M933.6 987.2h0M1179.9 1064.0h0M1061.5 866.2h0M837.4 1047.1h0M939.7 994.1h0M905.2 855.0h0M978.8 1039.2h0M997.1 1139.0h0M1539.5 537.3h0M618.8 552.8h0M1272.4 352.1h0M1137.8 998.0h0M739.4 1059.0h0M1172.8 960.8h0M1054.1 1128.4h0M962.9 1218.5h0M999.4 761.5h0M1029.0 960.4h0M1194.5 1064.9h0M740.0 920.7h0M1021.5 1215.5h0M1040.0 846.3h0M858.0 976.6h0M966.8 716.3h0M871.1 741.8h0M1502.8 538.0h0M1106.9 416.9h0M1011.9 1119.5h0"/>
<path stroke="#962c80" d="M977.8 822.2h0M1232.1 957.3h0M1161.7 847.7h0M1024.9 1151.9h0M1514.9 512.2h0M826.6 804.2h0M1228.7 964.4h0M1034.0 1149.3h0M1523.9 517.4h0M892.0 728.5h0M1238.8 806.3h0M966.0 1098.6h0M1058.9 858.6h0M1554.8 527.3h0M1038.8 831.2h0M1004.7 1169.5h0M1166.2 807.0h0M1266.4 388.7h0M1036.1 1138.5h0M1183.3 804.9h0M842.4 1163.3h0M1254.7 725.2h0M801.3 936.5h0M892.1 1217.6h0M658.2 558.4h0M951.6 1025.7h0M1077.7 880.0h0M883.5 820.1h0M1030.0 1102.6h0M989.0 1072.1h0M1644.0 710.2h0M1110.4 1129.0h0M1160.9 1006.4h0M901.9 1099.7h0M1192.4 820.7h0M1539.0 584.3h0M900.8 1102.1h0M1148.8 757.0h0M1237.2 311.4h0M908.6 986.5h0M901.6 793.2h0M1190.4 1058.9h0M1007.4 980.3h0M879.0 1151.7h0M1184.4 1079.6h0M1040.9 1034.4h0M1177.6 343.0h0M1181.8 1066.4h0M799.0 927.0h0M1127.3 905.5h0M999.2 951.0h0"/>
<path stroke="#a1307e" d="M1482.5 521.4h0M924.5 1098.9h0M999.1 958.4h0M974.8 1153.1h0M968.7 795.5h0M1083.2 1120.7h0M929.7 986.6h0M983.7 822.4h0M1500.7 540.4h0M940.0 939.1h0M1034.0 1034.7h0M1521.2 522.1h0M1020.9 1021.3h0M1186.1 993.5h0M1180.9 381.6h0M986.7 1024.0h0M1701.3 820.9h0M1201.6 725.8h0M808.6 854.8h0M1006.7 1137.6h0M1200.4 316.7h0M946.7 862.7h0M974.3 817.9h0M1169.7 979.9h0M993.0 1076.4h0M1061.2 961.4h0M1210.4 426.6h0M1016.2 979.3h0M1019.4 1008.9h0M1215.2 432.1h0M1072.5 929.0h0M1720.0 841.6h0M1226.6 320.4h0M1037.6 978.2h0M1167.2 1081.7h0M891.6 1093.6h0M1005.4 966.3h0M1071.9 900.0h0M939.3 1198.8h0M1091.6 936.0h0M958.2 958.7h0"/>
<path stroke="#b73779" d="M1087.7 936.1h0M1080.0 920.8h0M1016.2 1000.6h0M1038.5 960.7h0M1176.6 854.5h0M798.1 855.9h0M1511.9 526.4h0M996.1 979.9h0M759.6 938.2h0M1210.0 776.8h0M780.1 970.9h0M1139.4 406.3h0M954.1 973.7h0M855.5 838.3h0M920.6 881.1h0M984.3 816.2h0M1216.3 841.7h0M741.8 1101.4h0M768.4 1027.2h0M1181.6 1053.3h0M1183.8 1057.6h0M1608.9 699.9h0M999.4 1144.0h0"/>
<path stroke="#c03a76" d="M961.9 719.5h0M1661.7 741.9h0M1052.2 821.2h0M1091.8 934.8h0M1128.5 327.6h0M845.0 1039.0h0M1199.1 1042.5h0M1079.0 886.5h0M936.3 1135.4h0M1109.7 828.7h0M943.6 1178.4h0M1175.6 1091.3h0M1255.6 486.9h0M854.1 830.7h0M957.0 794.2h0M928.7 867.5h0M941.3 813.5h0M911.4 799.3h0M779.9 1107.9h0M949.8 1045.0h0M1046.0 938.9h0M930.4 1077.5h0M945.0 1078.5h0M1488.6 520.8h0M1150.2 319.6h0M722.0 944.7h0M713.8 1098.7h0M933.2 952.0h0M1065.1 1149.9h0M1538.2 544.6h0M938.4 896.6h0M970.2 1018.7h0"/>
<path stroke="#ca3e72" d="M690.9 1052.3h0M1046.7 955.3h0M1114.0 1013.6h0M748.0 923.1h0M1054.8 908.5h0M1028.4 955.3h0M1282.1 371.7h0M993.9 796.6h0M1150.0 740.8h0M1137.2 320.6h0M1101.2 787.8h0M1122.1 1125.7h0M721.0 941.5h0M916.7 713.0h0M1617.9 713.9h0M1128.2 315.1h0M1268.3 336.4h0M1128.7 1026.8h0M1039.0 980.3h0M1144.3 328.4h0M933.7 815.0h0M956.2 1006.9h0M1080.5 901.1h0M1211.9 462.1h0M1619.7 687.8h0M992.4 1087.8h0"/>
<path stroke="#d5446d" d="M1057.4 828.6h0M1143.5 306.7h0M770.2 996.1h0M1007.7 1019.3h0M1005.5 1198.6h0M1061.2 827.2h0M1510.0 543.2h0M952.6 978.7h0M1171.9 809.7h0M993.4 1161.9h0M1012.3 804.7h0M804.2 823.7h0M964.8 787.6h0M1096.1 949.3h0M1022.9 1151.2h0M979.8 806.0h0M982.5 981.2h0M1000.3 806.6h0M1188.1 838.3h0M986.5 940.1h0M1186.7 738.6h0M990.9 991.7h0M1103.2 787.6h0M745.5 892.0h0M888.9 1194.8h0M1219.9 465.6h0M1291.1 343.6h0M883.0 1180.3h0M1041.6 929.5h0M1181.4 830.5h0M914.1 980.8h0M1118.4 1038.5h0"/>
<path stroke="#de4968" d="M995.6 949.8h0M1055.2 852.1h0M933.8 791.1h0M944.7 809.7h0M907.7 1012.4h0M1215.2 322.9h0M932.3 1170.0h0M1566.7 527.3h0M1053.4 929.4h0M1199.3 408.1h0M916.1 1124.0h0M758.6 896.5h0M804.7 977.8h0M1608.5 657.0h0M1005.7 967.3h0M1281.6 456.4h0M1154.6 361.9h0M1496.0 525.5h0M921.0 995.4h0M646.7 550.0h0"/>
<path stroke="#e75263" d="M1300.6 379.1h0M1133.1 1073.7h0M1596.5 642.6h0M1001.3 835.6h0M960.3 983.3h0M919.5 1137.9h0M752.8 1050.7h0M992.4 1055.7h0M1597.3 706.4h0M823.8 981.2h0"/>
<path stroke="#ed5a5f" d="M1597.3 640.2h0M1180.2 802.4h0M1175.7 959.0h0M1223.5 1028.6h0M1144.3 973.8h0M1021.4 913.3h0M978.0 756.0h0M937.4 1170.9h0M997.5 731.0h0"/>
<path stroke="#f2645c" d="M943.4 892.7h0M1172.6 856.4h0M383.4 497.5h0M1207.9 1012.1h0M998.2 1033.9h0M884.8 1176.2h0M1176.1 1066.2h0M1241.6 959.3h0M1200.3 1002.8h0M879.4 897.3h0M1151.2 861.2h0M1190.1 348.7h0M1184.1 669.9h0"/>
<path stroke="#f7705c" d="M1056.8 890.6h0M1204.1 846.5h0M594.3 533.4h0M1575.2 508.9h0M1093.0 935.9h0M1240.0 756.5h0M987.1 722.9h0M970.8 926.5h0M1172.8 1031.9h0M936.1 942.4h0"/>
<path stroke="#f97b5d" d="M1195.5 1002.5h0M1212.4 715.6h0M1180.9 851.7h0M1270.9 345.7h0"/>
<path stroke="#fc8961" d="M816.2 821.3h0M1233.6 550.1h0M1218.2 756.2h0M939.4 878.7h0M703.3 1046.4h0M1196.2 436.9h0M1488.6 586.2h0M1138.6 844.0h0M856.2 1146.8h0M610.0 522.0h0M1013.6 799.8h0M706.4 982.6h0M1624.4 718.6h0M1064.3 1021.2h0"/>
<path stroke="#fd9467" d="M1166.8 1095.7h0M1616.0 647.7h0M1764.3 808.0h0M964.2 728.0h0M820.4 940.0h0M733.5 1074.3h0"/>
<path stroke="#fe9f6d" d="M986.5 1147.2h0M817.2 1153.5h0M753.3 882.8h0"/>
<path stroke="#feac76" d="M1215.8 776.1h0M1580.5 514.4h0"/>
<path stroke="#fec488" d="M1249.4 736.8h0M1582.9 516.1h0"/>
<path stroke="#000004" d="M1191.3 277.9h0M1002.1 1219.5h0M722.3 1000.1h0M1017.5 1200.4h0M832.8 1019.0h0M994.7 1227.3h0M811.8 780.4h0M909.3 1117.1h0M1009.4 960.9h0M1248.1 492.2h0M1191.7 431.2h0M1459.1 595.9h0M1012.3 1139.6h0M1146.3 1089.9h0M973.8 1147.2h0M818.1 933.3h0M868.3 830.5h0M1075.9 804.4h0M803.6 809.3h0M1082.2 891.8h0M888.1 884.3h0M600.7 529.3h0M983.1 1131.9h0M987.9 1160.1h0M989.9 1114.4h0M711.1 1041.7h0M885.7 1187.0h0M952.2 1047.5h0M988.0 912.2h0M1275.8 320.7h0M843.9 864.1h0M1720.4 905.3h0M830.2 1108.5h0M802.3 849.4h0M900.7 1200.8h0M1184.2 1065.6h0M1028.8 1205.7h0M998.8 797.4h0M1098.6 1145.7h0M1020.6 1151.8h0M1223.6 819.9h0M1129.0 1091.7h0M1081.2 936.6h0M1637.4 702.7h0M908.0 1201.1h0M804.7 810.6h0M1031.3 1080.4h0M1634.6 697.1h0M1030.5 958.2h0M816.5 842.3h0M1195.5 1013.9h0M1296.7 353.5h0M1118.1 1121.8h0M1097.9 1130.9h0M926.7 1061.9h0M827.3 855.0h0M871.7 806.1h0M968.0 897.3h0M1226.7 479.3h0M941.4 1114.1h0M900.2 1150.7h0M1229.4 940.6h0M848.8 833.6h0M741.5 1083.5h0M946.7 1177.5h0M953.3 889.3h0M1025.8 1179.4h0M1039.5 867.7h0M1219.9 485.0h0M1057.5 917.3h0M884.5 789.8h0M1040.6 1170.6h0M870.9 811.4h0M969.6 1130.5h0M1012.4 1144.8h0M1110.2 888.3h0M787.6 1028.7h0M783.9 1025.0h0M1080.2 926.4h0M851.9 1172.5h0M1004.1 981.5h0M941.0 1193.7h0M615.5 541.8h0M1008.6 1184.5h0M806.8 866.1h0M980.0 1070.7h0M1047.5 844.7h0M1167.3 410.4h0M879.2 1170.4h0M1187.7 1062.3h0M884.4 1174.9h0M1209.9 453.2h0M1019.3 1142.9h0M1058.4 1069.8h0M979.6 946.7h0M988.3 980.7h0M801.6 787.8h0M942.9 912.9h0M732.6 1038.1h0M982.7 1147.9h0M863.2 1179.4h0M1032.4 1019.9h0M806.7 1053.7h0M1246.1 387.6h0M1014.4 1148.9h0M932.3 1167.6h0M1174.1 408.1h0M1186.5 847.8h0M1202.9 999.4h0M996.5 830.5h0M851.5 760.3h0M1129.5 327.6h0M1232.8 775.6h0M1149.1 1105.7h0M893.9 1103.8h0M748.1 911.6h0M871.2 906.9h0M979.5 1120.4h0M1042.7 1189.5h0M833.8 843.8h0M1014.2 1171.1h0M810.2 852.6h0M900.4 1001.8h0M921.4 1068.3h0M1176.4 772.0h0M941.1 994.0h0M1700.8 825.7h0M1222.0 790.0h0M857.5 1114.0h0M819.6 967.3h0M719.8 927.2h0M888.3 747.1h0M1022.5 993.3h0M861.4 736.3h0M1000.8 1123.6h0M927.3 1131.3h0M1274.8 388.6h0M1295.5 414.1h0M980.0 1036.6h0M1233.6 449.6h0M997.0 1174.1h0M881.8 812.6h0M804.8 831.4h0M804.8 912.0h0M1156.7 1078.7h0M974.5 991.2h0M852.1 1098.1h0M1616.9 656.1h0M1138.9 756.3h0M1057.1 957.1h0M853.1 1145.2h0M866.7 754.6h0M896.5 828.7h0M1105.2 942.5h0M893.4 996.1h0M1051.6 1138.4h0M1195.9 464.4h0M997.2 942.4h0M885.3 818.7h0M1717.6 899.2h0M862.4 924.5h0M1179.3 1063.5h0M863.2 1145.4h0M883.2 1159.1h0M759.6 1041.7h0M869.7 940.7h0M1603.6 700.0h0M816.5 783.8h0"/>
<path stroke="#451077" d="M1234.4 370.1h0M1230.4 704.8h0M1235.9 402.4h0M715.5 1107.9h0M988.6 1219.1h0M1107.9 412.7h0M1116.2 808.2h0M960.9 1057.3h0M1194.3 399.3h0M919.8 1220.4h0M1271.4 332.4h0M1243.6 478.7h0M964.2 1175.4h0M777.0 956.0h0M1006.5 839.5h0M1004.9 1096.7h0M961.7 991.9h0M1001.7 989.2h0M873.9 785.6h0M760.7 978.8h0M803.1 844.8h0M710.8 1101.3h0M1172.5 1067.9h0M1580.3 635.0h0M844.7 747.2h0M762.1 927.0h0M799.5 926.0h0M894.7 720.9h0M1496.8 508.3h0M823.2 1118.5h0M755.3 1014.3h0M1184.4 465.6h0"/>
<path stroke="#51127c" d="M739.6 942.8h0M1125.7 835.8h0M1158.1 731.3h0M839.6 1124.9h0M962.6 1137.8h0M874.6 1185.2h0M769.2 999.1h0M967.7 729.4h0M1150.9 1095.6h0M982.9 1169.8h0M1477.3 585.2h0M683.7 1018.5h0M990.8 812.5h0M686.1 1057.9h0M761.7 973.7h0M732.3 961.5h0M1299.4 353.1h0M1051.7 927.8h0M861.0 899.2h0M1191.9 993.2h0M970.7 982.5h0M1014.8 979.8h0M1044.7 1009.7h0M1627.2 708.3h0M1628.9 670.0h0M806.8 799.6h0M1128.7 1079.6h0M1169.6 454.1h0M705.7 1079.4h0M759.4 1054.1h0M794.7 850.1h0M702.6 1016.1h0M1496.0 507.7h0M920.6 1152.7h0M984.8 1017.8h0M879.6 797.8h0M965.1 943.8h0M1014.2 1134.3h0M785.7 925.4h0M872.7 909.9h0M1240.0 689.2h0M1532.4 561.9h0M949.0 921.2h0M717.1 1039.2h0M955.2 1062.1h0M889.6 1111.4h0M776.4 890.5h0M789.2 941.0h0M846.9 825.4h0M755.9 1051.8h0M706.5 1059.9h0M1240.0 372.9h0M1146.7 375.1h0M1041.5 1173.7h0M1520.3 622.6h0M913.3 1209.1h0M1209.1 1033.8h0M728.8 1031.8h0M1003.3 975.9h0M875.2 1120.4h0M797.1 890.4h0M1061.1 1023.4h0M1197.4 1012.5h0M1160.3 788.5h0M724.3 961.7h0M1037.5 1120.1h0M714.6 964.1h0M727.8 1037.7h0M1001.3 1070.7h0M713.8 1090.3h0M876.6 1150.3h0M1011.3 914.9h0M718.1 1083.3h0M780.4 990.2h0M835.4 1099.6h0M727.1 1018.9h0M711.5 1025.0h0M1174.7 419.9h0M902.9 716.4h0M1208.4 854.0h0M1578.6 525.1h0M1136.1 872.3h0M713.9 1119.4h0M789.9 1073.3h0M895.7 729.0h0M1206.9 1035.8h0M1192.2 1059.8h0M724.0 1055.0h0M1177.6 701.2h0M1157.6 365.2h0M1193.1 1044.3h0M1146.4 737.2h0M1142.8 760.0h0M1148.6 362.3h0M1287.5 377.1h0M963.9 1239.3h0M941.2 870.4h0M631.3 518.4h0M1152.0 821.5h0M1201.5 282.7h0M988.5 808.8h0M1263.0 477.2h0M718.3 997.2h0M725.5 1009.4h0M963.8 919.1h0M1029.7 1081.0h0M988.3 813.6h0M1136.2 972.8h0M910.0 989.4h0M1224.4 776.8h0M999.2 1218.0h0M1060.5 805.7h0M1208.4 367.0h0M704.0 1029.3h0M826.9 865.4h0M763.9 1100.1h0M1096.3 954.7h0M791.3 956.8h0M984.9 814.5h0M991.7 1108.6h0M841.9 1168.9h0M1009.5 1168.1h0M986.1 801.4h0M1205.2 678.4h0M1038.9 1162.3h0M1177.1 1044.4h0M872.7 952.4h0M1216.0 677.2h0M1190.4 748.7h0M984.5 796.5h0M779.9 996.3h0M1488.6 536.7h0M835.2 1017.0h0M1175.2 690.4h0M961.2 924.6h0M843.0 800.3h0M1196.8 1008.2h0M814.9 841.2h0"/>
<path stroke="#5a167e" d="M874.7 733.9h0M697.9 1035.6h0M1221.9 1043.0h0M1021.9 946.0h0M867.9 1112.9h0M991.2 990.9h0M1291.1 353.3h0M1152.8 1082.5h0M980.8 730.5h0M1254.4 971.1h0M1042.5 972.0h0M996.0 823.5h0M1137.6 407.0h0M939.0 1161.9h0M1081.0 1164.1h0M773.0 979.8h0M756.0 1038.3h0M1044.3 1020.4h0M723.9 993.8h0M707.6 1040.1h0M887.8 918.3h0M1134.0 336.1h0M1290.7 371.5h0M1273.7 375.7h0M982.5 724.1h0M699.0 1092.2h0M1059.3 883.4h0M1201.4 968.1h0M1722.4 832.0h0M926.8 1046.4h0M1241.0 830.5h0M992.3 1199.1h0M860.7 783.4h0M1090.2 1139.6h0M1549.0 517.8h0M627.0 517.9h0M1217.6 375.0h0M738.6 1098.0h0M1280.5 390.7h0M808.6 899.0h0M898.8 799.9h0M918.5 1092.5h0M1140.4 748.0h0M708.7 981.3h0M740.1 1089.2h0M1212.4 673.6h0M887.0 743.8h0M755.7 1025.4h0M797.0 988.6h0M1271.7 369.3h0M1000.2 1160.6h0M768.8 1044.7h0M1137.5 1020.9h0M780.4 1095.1h0M905.2 799.4h0M711.1 1042.9h0M1238.7 385.0h0M1005.5 1084.8h0M775.8 1018.5h0M1257.9 475.3h0M1233.9 756.6h0M379.9 494.5h0M936.3 839.1h0M741.5 1028.3h0M913.4 913.0h0M962.0 796.2h0M644.0 528.7h0M742.4 944.5h0M1252.2 492.3h0M1233.4 481.2h0M1017.2 939.4h0M1145.4 337.0h0M789.1 1023.7h0M743.9 1026.6h0M946.7 801.9h0M718.5 1015.9h0M1280.3 346.9h0M1201.6 672.4h0M1254.8 965.2h0M902.7 992.1h0M723.2 1095.4h0M999.4 1191.5h0M763.7 1080.0h0M830.9 818.6h0M1298.6 462.1h0M1058.2 907.4h0M1234.4 382.1h0M951.6 757.7h0M917.3 940.4h0M913.1 1160.8h0M1019.9 1194.4h0M1254.5 728.9h0M982.7 852.0h0M692.6 1026.7h0M1008.8 1229.1h0M768.0 882.5h0M1245.6 326.0h0M1114.0 984.3h0M1080.9 878.7h0M779.1 1064.2h0M1520.5 550.0h0M1178.9 835.0h0M1131.9 367.4h0M756.1 1011.1h0M1069.3 929.2h0M933.8 801.3h0M1231.3 492.9h0M953.6 972.5h0M760.0 932.1h0M870.2 1068.5h0M1138.2 1110.1h0M687.6 962.1h0M1136.3 331.9h0M764.3 1034.9h0M1217.2 961.5h0M888.3 802.7h0M963.1 1120.1h0M833.5 860.6h0M1109.8 900.8h0M984.2 1038.9h0M740.7 1009.8h0M1273.5 352.0h0M1058.0 1068.6h0M760.4 1114.1h0M1075.0 1027.5h0M808.9 1142.7h0M1176.4 696.4h0M907.0 720.0h0M812.4 784.2h0M981.0 1124.3h0M1255.6 720.4h0M772.3 1002.3h0M918.9 1159.2h0M1020.0 1068.4h0M818.9 841.6h0M807.5 1075.8h0M805.0 939.0h0M1072.8 1038.6h0M1000.6 970.5h0M691.1 1072.9h0M940.3 1180.8h0M1564.2 523.8h0M1626.5 708.5h0M1059.5 977.2h0M1020.6 1211.1h0M963.9 1212.4h0M1127.1 329.6h0M1008.0 1116.5h0M1251.9 987.2h0M1005.6 814.2h0"/>
<path stroke="#641a80" d="M745.8 973.0h0M896.2 1160.0h0M786.7 1002.2h0M1112.1 1054.7h0M1222.6 686.8h0M931.1 968.0h0M1036.9 805.1h0M740.9 967.0h0M1604.8 691.5h0M755.4 1072.0h0M1070.0 896.5h0M1280.1 337.6h0M833.2 829.7h0"/>
<path stroke="#782281" d="M1170.5 1040.8h0M995.4 1013.9h0M1163.2 319.4h0M1066.0 890.4h0M965.2 1166.4h0M918.7 984.9h0M906.5 948.5h0M887.5 1101.1h0M988.0 1164.4h0M1214.1 353.3h0M908.0 1193.4h0M835.8 805.4h0M1072.5 901.5h0M1022.5 934.7h0M1007.4 1166.6h0M1226.9 310.0h0M961.9 966.3h0M1121.3 998.9h0M1134.3 987.5h0M729.4 1061.8h0M979.6 978.6h0"/>
<path stroke="#832681" d="M1000.5 1110.1h0M1521.2 524.5h0M791.3 955.6h0M1017.4 918.9h0M1079.5 1004.4h0M1156.5 995.5h0M1049.9 1195.7h0M1000.8 1012.4h0M742.9 1115.6h0M983.4 808.5h0M823.3 1161.1h0M939.4 1089.0h0M1619.2 692.6h0M804.8 822.4h0M1179.5 1035.8h0M1193.5 1043.2h0M1260.9 382.3h0M1041.6 921.9h0M1533.4 551.6h0M970.0 794.7h0M881.0 1180.0h0M926.0 1127.1h0M969.9 1015.0h0M939.2 1129.3h0M990.5 1161.3h0M952.2 724.9h0M1137.9 995.8h0M897.9 1011.9h0M930.5 853.3h0M1067.3 934.9h0M1628.1 661.7h0M857.3 816.2h0M1187.8 1046.8h0M1301.2 371.0h0M912.2 1159.0h0M1071.7 1016.8h0M1246.0 686.2h0M1032.9 954.3h0M1175.1 1062.2h0M885.2 1208.7h0M1030.2 1092.2h0M1156.5 1091.5h0M848.6 966.5h0M999.0 1047.2h0M979.8 937.9h0M1221.0 1052.0h0M1246.7 488.1h0M942.9 810.6h0M980.7 812.7h0M891.4 1126.3h0"/>
<path stroke="#8c2981" d="M1071.9 933.3h0M1078.5 969.2h0M1203.9 329.8h0M1001.1 968.7h0M1245.7 747.1h0M953.9 825.7h0M1214.8 737.2h0M909.5 1173.3h0M1260.1 399.6h0M961.8 950.0h0M1232.8 746.8h0M921.7 1051.4h0M965.5 735.3h0M956.4 929.7h0M975.1 962.3h0M899.5 910.2h0M740.6 1003.4h0M819.3 800.7h0M913.8 791.1h0M816.7 1041.5h0M1505.8 574.3h0M1038.7 1103.7h0M1226.0 379.8h0M771.9 920.9h0M717.2 940.7h0M1592.7 697.1h0M1521.0 522.3h0M1052.0 917.5h0M819.4 848.4h0M994.8 744.0h0M1117.6 801.5h0M1017.8 923.6h0M881.2 1106.3h0M1039.7 1213.9h0M790.9 892.8h0M1263.8 394.8h0M1211.9 389.9h0M1210.4 426.5h0M901.7 1018.6h0M1072.7 918.9h0M1047.0 925.6h0M1177.6 796.0h0M1196.8 841.0h0M1129.1 829.6h0M1720.8 839.4h0M1187.8 1035.4h0M828.4 794.5h0M937.9 1128.5h0M821.5 1177.1h0M1003.7 1066.3h0M939.3 947.6h0M926.9 1009.7h0"/>
<path stroke="#962c80" d="M1268.8 353.6h0M1181.0 860.3h0M1061.3 946.4h0M1017.1 925.3h0M1294.7 366.6h0M1280.3 363.2h0M1079.3 927.3h0M1272.0 474.8h0M915.5 1092.8h0M293.3 981.1h0M1610.4 650.5h0M898.8 999.7h0M1040.0 920.2h0M1254.9 474.6h0M718.5 1076.1h0M868.5 802.0h0M1259.6 366.3h0M1537.1 518.0h0M1255.8 383.9h0M965.3 1178.5h0M1006.0 768.0h0M770.5 1060.7h0M1189.3 1021.9h0M1504.4 535.8h0M891.0 924.5h0M966.3 1240.3h0M1117.2 1120.4h0M932.4 1009.5h0M919.5 883.4h0M722.2 1024.9h0M1250.0 477.8h0M1271.3 360.1h0M1063.5 921.9h0M879.6 1161.6h0M799.5 1104.4h0M1080.8 916.1h0M1134.6 1115.0h0M732.6 992.9h0M724.5 990.8h0M1196.8 1059.2h0M1217.8 1025.8h0M1094.8 946.7h0M749.0 1111.1h0M1235.9 431.3h0M1216.4 1030.4h0M978.6 958.6h0M913.3 713.7h0M1039.9 934.7h0M734.6 993.9h0M1072.5 915.7h0"/>
<path stroke="#a1307e" d="M1514.7 556.3h0M1172.0 856.0h0M1132.6 880.6h0M1142.7 321.4h0M905.1 795.3h0M1271.2 375.1h0M972.3 1020.4h0M923.9 970.6h0M1282.5 468.9h0M926.8 816.1h0M1018.8 1049.3h0M1199.4 290.6h0M968.0 971.0h0M1060.1 1145.6h0M1017.7 928.4h0M1623.4 660.2h0M1105.9 1059.8h0M1252.4 485.0h0M1191.4 336.1h0M993.4 1219.0h0M911.5 1059.9h0M868.7 766.5h0M1266.8 377.4h0M994.8 752.0h0M894.4 808.9h0M1117.0 1095.0h0M1487.6 517.1h0M621.2 514.3h0M839.0 1141.3h0M968.9 790.5h0M1063.4 1148.6h0M807.1 1105.8h0M984.9 993.6h0M1095.2 935.5h0M1146.3 1109.1h0M1013.3 807.2h0M1180.1 971.7h0M1198.6 1027.9h0M913.1 920.1h0M763.5 1113.3h0M1124.6 372.9h0M981.8 821.0h0M987.5 739.7h0M921.9 947.5h0"/>
<path stroke="#b73779" d="M1089.7 940.4h0M1102.8 1138.3h0M655.6 573.9h0M1568.9 514.3h0M921.0 1075.3h0M1017.9 815.1h0M877.8 721.8h0M1168.8 810.0h0M916.2 713.4h0M819.0 1124.8h0M873.9 744.0h0M700.5 1067.8h0M1248.1 394.3h0M1046.7 897.7h0M1051.2 913.7h0M859.1 1174.8h0M1030.0 946.0h0"/>
<path stroke="#c03a76" d="M1037.8 987.2h0M1213.7 1056.1h0M760.5 986.7h0M1009.8 816.3h0M957.2 733.2h0M815.6 832.6h0M1195.3 857.0h0M1539.9 544.2h0M825.7 1057.5h0M996.0 790.5h0M1180.0 813.0h0M842.4 848.4h0M894.4 1122.0h0M650.4 565.7h0M1125.0 975.0h0M981.2 840.4h0M876.1 1033.5h0M1191.4 804.0h0M718.9 1037.7h0M1154.6 1090.7h0M1138.7 319.0h0M944.0 960.1h0M1345.2 651.9h0M901.7 808.8h0M1141.9 1106.0h0M992.4 758.4h0M914.0 897.8h0M1002.8 1034.6h0M663.3 572.0h0M1227.3 764.9h0M925.0 986.7h0M1296.6 345.2h0M987.7 820.0h0M1237.4 828.4h0M957.0 804.2h0M1190.8 803.2h0M777.2 1101.3h0M1586.5 638.6h0M1186.8 1034.0h0M1198.3 1049.3h0M942.6 793.0h0M911.0 700.3h0M808.4 863.4h0"/>
<path stroke="#ca3e72" d="M987.3 893.3h0M1152.6 1009.6h0M982.7 818.7h0M983.1 1212.8h0M1254.2 811.7h0M1115.3 1034.0h0M1619.5 650.4h0M912.0 721.3h0M1002.7 1110.5h0M1043.6 1094.2h0M1244.8 752.2h0M858.5 805.0h0M887.8 1179.0h0M1619.7 717.6h0M1282.5 374.6h0M758.5 1113.9h0M1206.1 357.9h0M946.1 724.3h0M1206.9 426.3h0M1583.6 632.8h0M1075.2 900.0h0M1146.7 993.5h0M661.3 571.0h0M1129.5 972.5h0M745.2 879.0h0M918.0 791.8h0M1499.8 519.9h0M1199.1 1029.7h0M1095.1 935.5h0M1168.0 821.5h0M830.3 798.4h0M951.4 977.1h0M1019.0 802.5h0M1160.8 848.6h0M967.7 762.9h0M1487.2 519.1h0M859.2 858.4h0M969.2 763.2h0M1486.7 511.5h0M619.3 535.3h0M1617.6 716.7h0M995.4 1192.6h0M1013.3 974.0h0"/>
<path stroke="#d5446d" d="M910.6 840.3h0M878.3 1171.0h0M931.9 859.5h0M1236.6 481.5h0M1195.1 272.0h0M1148.6 831.0h0M912.4 807.8h0M1459.1 595.0h0M957.5 812.1h0M1207.6 1054.0h0M646.7 515.3h0M1267.6 334.0h0M1188.5 751.0h0M1726.9 842.8h0M1069.4 902.5h0M1493.2 531.1h0M1202.5 1027.2h0M1524.3 553.3h0M1086.2 972.7h0M956.3 1043.9h0M1008.9 978.4h0M759.3 917.0h0M742.5 1077.9h0M1160.6 832.4h0M1215.1 942.1h0M1003.6 1181.2h0M632.0 510.0h0M1060.2 1039.4h0M931.7 1148.9h0M1040.0 815.2h0M990.8 978.2h0M973.6 1053.5h0M1229.1 952.9h0M1190.2 833.6h0M912.6 1105.5h0M1497.9 514.3h0M823.0 1121.5h0M1263.4 371.5h0M1619.8 716.0h0M829.5 815.9h0M1054.7 1004.8h0M1020.2 802.7h0M935.3 1178.9h0M1276.1 476.1h0"/>
<path stroke="#de4968" d="M911.7 814.6h0M1630.6 675.9h0M1141.5 338.1h0M1060.8 898.3h0M1245.1 751.6h0M1034.2 950.0h0M1208.6 956.9h0M1277.6 469.1h0M842.3 808.1h0M924.8 808.8h0M1047.6 828.8h0M786.0 901.4h0M1073.7 906.7h0M1050.4 878.7h0M877.5 912.7h0M1014.2 941.1h0M793.0 904.7h0M938.7 863.8h0M869.2 1104.0h0M1270.8 466.1h0"/>
<path stroke="#e75263" d="M829.3 1118.9h0M980.2 807.3h0M1204.7 799.1h0M1018.7 1028.3h0M980.3 1200.9h0M1205.8 815.7h0M941.6 703.3h0M840.7 1019.8h0"/>
<path stroke="#ed5a5f" d="M1202.7 993.9h0M1131.9 1073.0h0M897.6 910.3h0M1206.2 1031.0h0M1254.2 805.3h0M824.7 799.6h0M1094.7 954.3h0M1164.7 860.9h0M1069.9 1009.9h0M1024.7 909.9h0M928.2 965.3h0M1175.1 963.7h0M642.0 509.3h0M1246.8 321.3h0M1279.0 396.7h0M1122.7 323.6h0"/>
<path stroke="#f2645c" d="M1157.8 843.6h0M1162.8 736.0h0M763.8 890.3h0M1050.3 880.1h0M938.1 1209.5h0M1194.7 403.6h0M956.5 1054.6h0M1218.4 766.0h0M1062.6 966.9h0M1140.1 317.5h0M933.2 724.9h0M1222.5 981.3h0M1043.2 909.1h0M1260.9 487.4h0M1023.4 1212.4h0M1187.7 959.6h0M1039.4 867.5h0"/>
<path stroke="#f7705c" d="M1030.1 895.5h0M1135.5 337.9h0M1215.1 459.7h0M862.0 758.9h0M1586.9 510.5h0"/>
<path stroke="#f97b5d" d="M1125.3 324.1h0M1172.2 710.8h0M1202.6 397.1h0M923.9 1060.0h0M1100.0 848.0h0M1036.3 820.0h0"/>
<path stroke="#fc8961" d="M953.5 715.9h0M1212.4 791.2h0M1175.7 1037.9h0M943.0 792.4h0M1045.1 813.7h0M650.3 520.9h0M1246.0 806.8h0"/>
<path stroke="#fd9467" d="M1196.4 999.6h0M1255.0 699.4h0M1002.8 830.8h0M919.0 721.9h0M960.6 932.6h0M625.3 516.7h0"/>
<path stroke="#fe9f6d" d="M1150.9 979.6h0"/>
<path stroke="#000004" d="M807.3 1080.8h0M1200.9 977.0h0M928.6 1008.3h0M1242.1 510.9h0M982.4 1168.1h0M1012.3 1238.4h0M811.1 924.6h0M1189.0 355.6h0M805.3 832.3h0M822.8 842.0h0M1160.0 1100.8h0M858.9 737.9h0M1019.4 1175.7h0M1242.7 399.0h0M902.2 708.4h0M1601.5 681.0h0M1025.4 1139.2h0M1020.5 1036.7h0M1161.1 811.7h0M942.2 977.4h0M960.0 1118.8h0M987.4 1152.7h0M973.6 1194.7h0M1637.1 694.7h0M1242.0 499.5h0M1065.0 822.1h0M965.1 1131.7h0M1229.9 1028.3h0M995.8 1094.8h0M661.3 562.7h0M1047.2 954.6h0M840.0 861.7h0M1105.2 1130.9h0M979.7 1007.2h0M1640.3 715.3h0M1241.6 375.0h0M1201.6 435.5h0M958.1 799.9h0M871.2 908.4h0M1145.1 334.6h0M1267.9 425.6h0M808.3 1036.8h0M1026.6 1186.1h0M827.2 830.2h0M946.4 1121.9h0M1275.3 965.2h0M980.9 1179.1h0M1197.0 451.9h0M1019.4 1093.1h0M906.7 913.6h0M863.2 836.8h0M1512.8 535.8h0M1254.4 827.3h0M733.6 1095.3h0M917.2 1190.1h0M876.8 890.4h0M805.5 817.0h0M1018.7 1148.7h0M1027.0 1107.9h0M1229.5 309.5h0M1010.4 1208.5h0M808.0 935.2h0M978.6 1185.9h0M843.8 816.0h0M1140.4 373.8h0M1190.6 956.6h0M940.7 958.6h0M980.4 1138.7h0M1150.1 472.4h0M985.9 1182.3h0M984.8 954.1h0M1201.2 293.4h0M1044.6 1120.5h0M857.2 793.3h0M1092.6 948.7h0M879.7 1060.7h0M888.9 711.1h0M901.8 1155.2h0M1118.0 890.7h0M1100.8 1010.7h0M387.1 503.6h0M898.5 899.2h0M778.0 876.1h0M1020.5 1181.2h0M986.6 1190.1h0M859.5 1121.9h0M897.8 737.8h0M1280.1 327.3h0M878.9 733.1h0M813.0 930.6h0M869.0 735.1h0M842.9 788.5h0M1169.6 1055.9h0M1213.0 408.4h0M873.0 1158.3h0M846.6 1099.7h0M1701.6 828.0h0M1030.1 1218.5h0M1030.5 1066.6h0M882.9 948.0h0M960.6 1130.3h0M980.4 1178.8h0M1505.0 529.0h0M848.8 816.6h0M1544.3 522.3h0M998.7 1158.5h0M1020.1 1129.4h0M1172.0 1084.0h0M831.1 1159.8h0M817.4 838.1h0M938.1 1140.4h0M1119.3 891.5h0M852.3 1072.8h0M1080.7 877.8h0M1065.5 1142.2h0M926.2 1148.8h0M810.8 824.5h0M937.6 1234.2h0M928.9 1195.2h0M1205.2 781.6h0M797.1 1034.5h0M999.7 1020.8h0M997.6 990.5h0M1031.2 1208.0h0M872.9 952.1h0M977.7 1192.2h0M952.8 1166.0h0M1240.1 499.1h0M1214.1 408.1h0M1001.0 946.6h0M832.8 1059.6h0M965.8 1179.9h0M884.7 818.0h0M975.1 1140.7h0M864.8 846.7h0M1000.0 1100.8h0M1122.8 1132.4h0M718.9 923.5h0M850.9 809.3h0M1246.4 488.3h0M930.9 1210.5h0M889.0 729.8h0M1187.2 728.8h0M942.0 1166.8h0M1208.7 328.4h0M979.9 1180.9h0M912.6 985.0h0M980.0 1173.7h0M1206.5 1053.3h0M1142.7 317.5h0M970.3 1187.3h0M1627.3 665.7h0M1083.2 949.6h0M1627.2 724.2h0M1158.6 834.5h0M879.1 1180.8h0M1225.6 464.4h0M920.8 1026.2h0M931.3 1133.3h0M997.9 1220.3h0"/>
<path stroke="#451077" d="M1334.8 653.8h0M1168.5 844.6h0M681.7 1091.9h0M1029.6 828.1h0M724.1 900.2h0M1211.4 1033.8h0M622.0 539.3h0M1288.6 321.1h0M1188.2 391.2h0M1279.4 352.8h0M718.5 1077.1h0M888.6 1105.5h0M996.9 1234.6h0M1223.1 308.5h0M916.2 1210.9h0M742.5 1019.6h0M805.3 952.5h0M737.8 919.5h0M1257.9 393.8h0M992.3 1217.0h0M702.7 946.0h0M854.5 1142.6h0M1171.3 371.6h0M1167.3 378.5h0M748.8 1071.1h0M1146.4 1105.8h0M1201.4 960.5h0M1285.6 348.6h0M743.3 1097.2h0M1063.0 969.9h0M846.6 823.2h0M1234.0 507.0h0M873.9 1144.2h0M1142.0 847.3h0M845.7 1145.7h0M999.3 1200.4h0M1708.7 834.1h0M1208.5 1003.4h0M1019.9 1086.0h0M961.0 1000.2h0M1236.2 538.0h0M920.9 1000.4h0M1253.6 475.0h0"/>
<path stroke="#51127c" d="M771.6 1015.9h0M889.4 1062.9h0M1297.6 357.5h0M950.6 1163.2h0M712.1 1067.4h0M738.7 1098.8h0M1074.5 900.6h0M736.2 1099.9h0M1294.1 417.6h0M1226.7 361.9h0M826.5 1173.5h0M1610.6 689.9h0M975.6 1199.6h0M999.5 801.1h0M1528.0 526.9h0M1022.8 1028.7h0M701.2 1031.8h0M691.3 1072.8h0M880.9 734.4h0M935.0 1179.0h0M1704.0 907.2h0M727.3 1095.7h0M1167.3 466.7h0M885.6 1217.7h0M1138.1 825.1h0M1190.8 320.0h0M754.8 1110.0h0M965.7 720.1h0M1026.7 1159.4h0M1039.7 862.5h0M1175.0 857.8h0M761.1 919.4h0M1082.4 955.5h0M871.6 751.9h0M932.4 712.7h0M1025.0 940.9h0M786.8 1060.4h0M767.1 1076.6h0M1027.1 901.8h0M979.7 1133.3h0M1238.7 563.3h0M928.1 976.4h0M942.6 728.4h0M1260.0 332.0h0M1239.5 526.7h0M1021.2 1119.0h0M911.9 1192.7h0M946.2 719.1h0M1129.6 767.2h0M1150.8 316.3h0M714.4 1078.3h0M1282.8 326.9h0M751.2 1021.4h0M936.3 1166.2h0M1020.5 833.3h0M1171.8 440.0h0M1168.7 378.6h0M1032.7 1188.6h0M973.2 1099.0h0M1714.8 836.2h0M1222.1 407.3h0M1261.6 327.3h0M740.6 937.2h0M1177.9 698.5h0M1223.8 745.6h0M1628.2 695.4h0M1076.6 1192.5h0M1141.4 331.7h0M811.9 1063.1h0M824.8 1155.8h0M1048.4 903.7h0M1097.3 928.4h0M874.1 921.6h0M886.8 898.6h0M1216.8 679.4h0M1271.2 402.6h0M741.0 1015.8h0M1018.1 1118.8h0M739.4 963.1h0M1247.2 493.1h0M912.5 711.0h0M711.4 1051.1h0M1250.2 368.3h0M1171.6 780.4h0M1059.3 970.7h0M749.4 1111.8h0M1149.2 867.1h0M720.8 1104.3h0M830.4 985.1h0M709.8 1041.0h0M869.7 792.1h0M1132.4 1095.4h0M1174.1 476.1h0M802.9 993.0h0M739.7 964.4h0M1150.1 309.4h0M719.7 977.8h0M759.7 1112.6h0M744.5 960.9h0M1259.9 380.7h0M988.3 1064.2h0M1034.6 1136.1h0M1263.6 383.8h0M1203.5 324.0h0M1190.9 268.1h0M1202.7 335.9h0M698.3 1010.0h0M1216.8 770.7h0M1195.5 273.6h0M739.2 883.6h0M726.4 943.0h0M1071.8 861.8h0M893.5 1159.1h0M837.7 800.7h0M682.7 1026.8h0M1016.5 1179.6h0M1052.4 904.7h0M1190.5 269.5h0M900.5 1138.2h0M1046.5 1168.7h0M925.6 714.5h0M972.2 733.0h0M974.9 1172.6h0M1270.6 336.1h0M1078.9 920.3h0M1566.1 523.6h0M1220.9 803.0h0M1255.3 713.5h0M861.8 1102.0h0M1138.8 406.1h0M1022.2 911.9h0M969.9 1157.3h0M689.9 991.2h0M1229.8 491.5h0M1013.3 894.7h0M954.8 790.1h0M1040.7 970.8h0M1594.5 689.6h0M825.0 912.1h0M702.2 1000.6h0M916.0 1011.0h0M747.0 977.9h0M884.2 739.0h0M792.6 844.7h0M942.0 789.4h0M772.9 1041.1h0M720.2 942.0h0M1059.2 873.7h0M1137.5 1063.5h0M1071.1 955.1h0"/>
<path stroke="#5a167e" d="M1195.9 987.1h0M1049.6 971.2h0M774.8 959.6h0M991.6 1186.5h0M704.2 955.2h0M984.3 823.9h0M717.2 1044.9h0M990.7 1056.2h0M919.9 853.6h0M889.2 1072.2h0M829.4 794.8h0M1131.6 775.8h0M879.2 1178.2h0M1209.4 720.1h0M971.3 1159.9h0M1020.6 1061.6h0M1258.4 328.3h0M1205.8 655.0h0M922.4 858.9h0M1007.6 1152.7h0M1545.5 537.6h0M1087.5 878.9h0M767.2 944.5h0M1278.4 459.9h0M725.8 1079.8h0M1172.7 691.6h0M1059.9 1073.1h0M1117.9 841.5h0M912.7 1121.2h0M1244.8 707.8h0M1260.2 395.6h0M1642.1 734.4h0M771.5 960.9h0M1044.1 835.3h0M752.6 1108.4h0M1243.9 396.0h0M739.8 986.0h0M1588.1 699.9h0M711.8 1023.3h0M893.1 1150.9h0M1042.5 1053.1h0M787.2 1006.9h0M1544.4 539.7h0M1187.6 998.2h0M962.7 904.0h0M769.6 1093.0h0M875.5 814.7h0M1006.9 991.7h0M1225.6 707.2h0M854.1 784.1h0M750.3 919.6h0M925.4 930.1h0M945.3 1055.9h0M879.3 1082.9h0M914.0 722.4h0M1052.5 1161.1h0M734.9 926.1h0M854.5 831.1h0M741.3 1079.5h0M1134.0 406.7h0M1637.9 725.3h0M1148.4 361.7h0M853.8 808.9h0M754.1 1041.8h0M1099.6 1094.9h0M718.3 1005.7h0M899.9 1001.4h0M1201.2 337.9h0M1304.2 365.3h0M1031.4 1153.6h0M986.5 1050.1h0M1137.6 1099.9h0M1295.3 387.3h0M1519.4 548.8h0M921.0 1089.1h0M925.7 1093.0h0M819.0 928.3h0M902.5 1153.0h0M733.3 1075.9h0M643.3 518.0h0M1176.1 979.0h0M779.7 1048.9h0M838.0 1148.5h0M1106.7 1069.3h0M719.0 981.0h0M1108.3 1141.6h0M743.2 1042.4h0M705.9 1050.1h0M1001.8 818.7h0M1291.0 392.6h0M849.0 1140.9h0M1036.6 1139.2h0M1606.7 712.0h0M940.1 1158.6h0M947.7 816.0h0M769.0 1101.4h0M1003.6 1206.0h0M1128.6 329.2h0M1197.4 649.0h0M1127.0 372.5h0M1037.7 960.3h0M833.1 810.7h0M764.0 963.2h0M1157.0 457.6h0M816.5 845.3h0M808.6 1105.9h0M1292.0 358.0h0M1045.5 868.1h0M1284.0 344.4h0M804.5 795.6h0M733.1 974.8h0M978.3 1217.0h0M1146.7 410.1h0M1133.1 365.1h0M1016.1 1134.7h0M1043.4 920.6h0M1176.9 1043.4h0M936.0 816.0h0M740.9 1059.7h0M1001.3 1065.7h0M1246.9 488.2h0M679.8 979.9h0M852.6 1058.5h0M819.6 1150.1h0M965.5 1161.2h0M1304.7 347.6h0M710.0 1021.3h0M736.6 979.7h0M1199.5 279.3h0M739.6 992.8h0M856.7 847.6h0M1258.8 364.7h0M927.3 1207.2h0M1205.0 371.6h0M779.0 1017.6h0M710.4 979.7h0M1199.2 281.8h0M879.5 749.2h0M1067.2 852.8h0M893.9 1010.1h0M993.6 1055.1h0M732.3 1033.4h0M800.9 1042.6h0M753.2 1000.9h0M1101.2 934.1h0"/>
<path stroke="#641a80" d="M914.4 723.8h0M1111.1 955.7h0M921.2 1148.2h0M727.4 1018.9h0M761.4 1047.6h0M745.8 992.3h0M714.8 1114.3h0M857.5 745.0h0M1588.3 636.5h0M846.5 1064.7h0M909.7 725.9h0M932.4 1099.8h0M748.5 1056.5h0M776.8 1085.1h0M1038.3 1219.8h0"/>
<path stroke="#782281" d="M1203.1 427.0h0M975.0 1174.4h0M947.2 794.4h0M1020.0 807.9h0M1063.5 878.3h0M992.5 967.5h0M771.7 1100.3h0M1216.0 435.8h0M1121.3 1076.7h0M958.4 972.7h0M1129.0 308.6h0M1117.8 318.3h0M1061.2 1172.1h0M1024.1 1115.9h0M1307.7 361.2h0M1139.5 779.4h0M811.7 843.3h0M1640.8 702.1h0M898.1 714.5h0M1272.0 976.4h0M1700.8 822.8h0M875.6 1004.6h0M1216.7 830.9h0M1644.8 729.6h0M1212.6 1006.0h0M932.2 995.7h0M785.3 904.2h0M952.5 728.9h0M1041.2 1062.9h0M685.0 950.5h0M1521.3 565.5h0"/>
<path stroke="#832681" d="M1158.0 991.9h0M1039.3 1047.2h0M909.7 1087.1h0M923.6 1234.3h0M831.2 1082.7h0M888.1 741.8h0M1184.3 1062.4h0M852.3 969.1h0M1004.0 940.6h0M1233.7 955.3h0M1261.5 388.7h0M1074.1 967.2h0M762.3 1077.3h0M1208.3 1027.3h0M982.2 1156.4h0M1001.0 757.4h0M843.5 825.1h0M1059.7 922.1h0M1246.6 483.7h0M1723.2 848.0h0M1154.8 858.5h0M913.0 709.0h0M1211.3 962.5h0M871.0 1131.7h0M857.1 863.5h0M902.8 730.3h0M1288.0 475.0h0M867.4 1061.1h0M889.8 1175.7h0M1134.3 1111.3h0M1057.2 958.7h0M1168.0 827.0h0M858.5 751.7h0M1655.4 721.1h0M1060.9 1059.3h0M1039.8 927.2h0M883.2 1138.8h0M1281.1 329.2h0M1044.3 873.4h0M1040.4 992.6h0M1134.9 324.0h0M1044.2 890.4h0M931.6 1222.3h0M1049.2 919.8h0M982.8 978.3h0M1202.8 1000.9h0M1135.5 375.9h0M994.1 804.8h0M1158.8 1041.9h0M1023.0 1210.7h0M956.0 842.7h0M1309.1 346.4h0M1188.4 738.4h0M1064.5 1175.8h0M809.6 797.2h0M758.5 868.7h0M945.1 790.1h0M945.7 823.1h0M1260.3 970.6h0M1018.7 839.4h0"/>
<path stroke="#8c2981" d="M1196.2 270.0h0M879.3 994.7h0M780.6 1028.1h0M1141.3 875.8h0M642.0 562.0h0M985.6 820.5h0M1118.6 414.4h0M971.7 818.1h0M1039.1 1057.2h0M942.6 1179.7h0M1044.9 842.6h0M942.5 1108.7h0M1246.4 317.2h0M978.8 1126.1h0M901.9 724.4h0M1170.4 967.2h0M811.9 968.6h0M1051.9 880.8h0M1139.3 992.0h0M799.3 978.5h0M1250.1 387.5h0M1731.2 830.4h0M956.2 737.1h0M828.5 859.9h0M773.7 1117.7h0M917.2 832.5h0M986.9 825.3h0M711.4 1083.3h0M1005.9 1021.0h0M936.8 1145.0h0M1286.7 337.1h0M1028.3 899.8h0M991.6 740.8h0M916.7 1061.0h0M1260.8 347.2h0M932.6 820.0h0M1103.6 860.7h0M1059.6 836.8h0M981.3 1002.4h0M1149.2 1085.5h0M936.8 927.1h0M1215.5 329.0h0M1005.3 1220.2h0M1056.3 972.3h0M1037.9 863.6h0M880.5 1110.9h0M1222.0 772.0h0M1028.0 890.7h0M1020.2 952.2h0"/>
<path stroke="#962c80" d="M995.2 804.0h0M1145.8 336.6h0M971.0 966.1h0M968.8 979.7h0M1208.8 786.4h0M809.8 918.2h0M1128.9 857.1h0M1161.8 827.0h0M948.6 962.6h0M1110.7 797.2h0M876.9 1179.6h0M822.0 1114.8h0M949.2 798.1h0M1199.5 830.5h0M1020.8 1177.0h0M987.0 809.3h0M941.3 988.3h0M1101.5 933.2h0M843.0 799.7h0M1168.4 1008.6h0M973.8 1125.8h0M1194.7 1075.2h0M1114.1 844.9h0M996.9 937.5h0M1109.1 1136.1h0M901.8 1066.7h0M928.5 1076.3h0M986.4 832.1h0M904.5 1182.7h0M916.4 1034.5h0M928.2 801.2h0M741.3 886.2h0M1267.3 404.5h0M764.6 960.2h0M1133.1 835.1h0M928.0 1044.6h0M1176.6 969.1h0M1070.2 965.5h0M1202.5 961.2h0M969.3 1077.3h0M1270.2 377.6h0M939.4 790.3h0M760.4 1085.3h0M1489.2 535.5h0"/>
<path stroke="#a1307e" d="M1194.2 284.0h0M1197.1 850.4h0M759.2 879.5h0M1078.1 921.0h0M1013.2 944.3h0M1269.3 361.3h0M1273.9 468.0h0M1042.4 1059.1h0M1187.7 334.0h0M954.1 1046.3h0M841.3 1118.8h0M1061.9 974.7h0M1002.0 756.8h0M1042.5 857.3h0M727.1 966.4h0M805.8 1099.8h0M1514.7 564.7h0M1233.0 480.7h0M1075.1 880.1h0M960.2 1008.6h0M959.2 960.8h0M1197.6 847.7h0M1287.5 387.9h0M1507.2 514.3h0M1214.5 1004.5h0M1120.0 413.9h0M1593.6 644.9h0M1137.7 851.4h0M1012.7 988.4h0M1067.9 906.6h0M1229.0 413.0h0M896.2 1161.5h0M1019.4 1182.9h0M960.3 1172.4h0M766.1 926.3h0M1001.8 768.4h0M967.3 1040.7h0M953.3 1135.8h0M720.4 1055.9h0M820.2 936.9h0M1257.2 487.8h0M874.0 730.6h0M837.2 1141.6h0M761.5 936.8h0"/>
<path stroke="#b73779" d="M1077.7 819.7h0M1054.5 1000.6h0M972.0 802.7h0M912.3 1118.8h0M1009.3 799.4h0M818.8 860.9h0M972.4 958.6h0M1153.6 467.9h0M1185.0 1009.5h0M826.9 838.8h0M1220.1 846.9h0M986.7 805.3h0M1105.0 415.8h0"/>
<path stroke="#c03a76" d="M914.5 719.3h0M944.4 728.8h0M1058.5 905.6h0M1198.0 425.7h0M1183.2 340.7h0M1460.1 596.5h0M944.8 877.8h0M1047.8 873.5h0M960.0 966.6h0M1042.6 1043.0h0M1090.4 916.6h0M1045.5 820.5h0M1200.5 1029.3h0M655.3 574.0h0M1019.9 1086.8h0M1215.1 950.3h0M1293.7 460.4h0M1000.8 951.5h0M1246.0 972.9h0M1494.2 519.9h0M865.3 1031.7h0M985.4 920.5h0M1205.8 819.8h0M895.8 1114.4h0M958.8 978.6h0M811.5 1082.9h0M1013.6 816.9h0M1280.9 340.8h0M773.0 1065.5h0M1003.3 824.2h0M1020.0 861.3h0M1191.7 858.6h0M1103.7 1044.4h0M1167.8 1003.5h0M714.1 991.7h0"/>
<path stroke="#ca3e72" d="M1085.8 959.0h0M921.3 1043.7h0M1130.7 330.4h0M850.1 856.4h0M1174.9 1058.3h0M915.8 984.9h0M954.8 795.9h0M998.9 1018.3h0M863.0 1141.0h0M1157.0 327.6h0M1524.0 570.3h0M1013.0 974.3h0M976.6 1064.8h0M1206.8 841.4h0M1089.3 1139.9h0M1247.9 378.7h0M1094.1 882.9h0M902.2 1116.2h0M1615.6 698.0h0M939.8 1221.0h0M1097.3 423.1h0M899.7 1061.7h0M1277.5 394.0h0M920.3 1021.9h0M1178.4 859.3h0M1190.1 1002.5h0M1037.4 990.9h0M1494.6 513.2h0M877.6 794.1h0M1259.8 814.5h0M904.6 914.8h0M988.4 736.0h0M1249.3 817.6h0"/>
<path stroke="#d5446d" d="M1153.7 466.9h0M879.9 1098.2h0M916.4 744.5h0M989.7 1235.2h0M1039.1 1020.8h0M1000.5 1051.0h0M1276.4 355.5h0M1129.6 337.0h0M1217.6 430.6h0M1075.3 953.1h0M1219.9 940.2h0M1268.5 369.6h0M847.7 1136.5h0M1216.2 929.0h0M1201.8 853.8h0M1059.1 910.4h0M1039.9 1031.8h0M1290.6 386.5h0M1249.4 482.3h0M1038.3 1053.2h0M1026.8 832.5h0M952.4 1172.7h0M947.5 1201.0h0M1104.1 415.0h0M1234.0 767.2h0M929.8 1155.8h0M1218.1 1018.0h0M993.9 804.4h0M1038.7 939.0h0M1164.9 818.4h0M997.7 792.1h0M1008.9 1046.6h0"/>
<path stroke="#de4968" d="M1183.3 457.6h0M797.4 835.7h0M800.8 937.3h0M794.6 908.7h0M1497.9 528.9h0M882.6 722.3h0M1503.4 512.9h0M1062.1 912.1h0M1066.7 962.5h0M840.4 871.8h0M1488.8 527.7h0M1497.9 531.1h0M974.2 1056.0h0M1027.5 798.6h0M987.3 788.2h0M1603.9 649.5h0M877.1 898.9h0M1772.0 801.7h0M866.9 1123.2h0M1506.4 566.9h0M1197.2 841.1h0"/>
<path stroke="#e75263" d="M1242.3 522.7h0M1049.6 961.6h0M1102.0 773.2h0M1216.0 843.4h0M1214.7 1006.5h0M1190.6 436.9h0M1097.1 911.0h0M887.5 1011.6h0M1040.3 1169.7h0M1233.6 498.7h0M1077.2 919.0h0M1589.4 510.5h0M815.9 1118.8h0M928.1 967.4h0"/>
<path stroke="#ed5a5f" d="M1238.8 758.8h0M1194.4 797.2h0M997.9 812.4h0M634.7 561.6h0M1053.5 1139.1h0M1212.0 813.8h0M1207.4 446.3h0M891.8 1213.1h0"/>
<path stroke="#f2645c" d="M1207.7 444.6h0M1000.2 836.8h0M1025.6 1081.4h0M1263.3 479.3h0M1202.8 343.4h0M771.9 1078.9h0M962.2 1110.6h0M791.5 997.7h0M1086.8 961.8h0M810.0 1083.7h0M1254.6 841.4h0M968.8 735.8h0M1216.4 459.9h0M1257.4 327.8h0M1041.4 832.4h0M1221.0 1038.4h0M1046.3 894.5h0"/>
<path stroke="#f7705c" d="M1183.0 331.6h0M927.2 965.0h0M913.3 713.2h0M1215.2 1032.7h0M957.2 715.2h0M1118.8 1126.1h0M1599.4 706.8h0M1175.3 471.3h0M939.4 887.2h0M620.0 526.0h0M1120.0 796.0h0M924.7 988.2h0M786.6 996.9h0"/>
<path stroke="#f97b5d" d="M960.6 953.2h0M1160.8 822.2h0M999.9 924.5h0M1128.4 410.4h0M942.1 991.8h0M838.9 1051.2h0"/>
<path stroke="#fc8961" d="M948.4 964.1h0M1574.5 525.5h0M712.2 1040.5h0M1712.0 899.2h0M1244.1 806.0h0M944.8 1179.6h0M1240.2 939.8h0"/>
<path stroke="#fd9467" d="M976.1 726.6h0M1075.9 1013.0h0M805.4 1133.8h0"/>
<path stroke="#fe9f6d" d="M1126.0 781.6h0M691.8 1014.7h0M625.3 512.0h0M607.9 522.0h0M1192.5 282.2h0"/>
<path stroke="#feac76" d="M1217.2 778.0h0"/>
<path stroke="#fec488" d="M1117.6 800.8h0"/>
<path stroke="#fecf92" d="M1119.5 799.4h0"/>
<path stroke="#000004" d="M1045.9 1174.0h0M988.2 1160.4h0M882.9 1111.5h0M669.8 569.9h0M1263.3 424.4h0M1014.8 1012.7h0M1497.7 537.8h0M1046.1 900.7h0M1237.8 327.7h0M1221.0 359.0h0M880.0 1135.4h0M803.2 1084.9h0M932.8 1192.5h0M758.8 1074.5h0M897.6 706.1h0M1724.8 840.0h0M1233.6 472.4h0M1037.6 1062.1h0M1202.7 287.0h0M1037.7 1002.7h0M847.4 1145.2h0M992.3 1139.5h0M834.6 841.2h0M1100.8 792.4h0M1211.5 1001.7h0M752.7 1042.3h0M999.4 1060.0h0M1102.6 1099.9h0M843.5 807.5h0M1240.4 435.5h0M829.0 1136.4h0M899.4 1162.9h0M1195.6 733.0h0M817.6 1100.0h0M759.9 984.9h0M830.5 1061.8h0M791.6 915.9h0M939.9 1192.7h0M1006.0 1193.9h0M1169.3 842.6h0M823.7 1095.6h0M689.1 989.3h0M1244.2 953.8h0M1224.3 918.6h0M887.5 804.5h0M1054.4 1072.4h0M1117.4 1101.9h0M1171.9 474.8h0M896.1 727.0h0M1601.1 679.4h0M1192.0 742.0h0M1597.8 503.1h0M1071.1 983.7h0M901.4 1193.6h0M915.3 1150.2h0M860.5 803.9h0M1273.9 404.7h0M1283.3 348.1h0M1192.0 755.2h0M1010.7 1122.0h0M921.1 1161.0h0M1002.6 964.3h0M1149.3 471.1h0M1104.8 1137.7h0M1098.6 940.3h0M1012.7 1149.7h0M842.2 863.0h0M1185.5 1071.3h0M1040.8 1196.8h0M1629.3 724.3h0M1501.6 533.0h0M1059.2 843.3h0M1003.7 951.9h0M1094.9 1159.8h0M838.4 836.6h0M898.2 1095.5h0M1153.9 881.5h0M920.1 1214.7h0M1190.8 356.0h0M1013.1 810.4h0M988.6 1001.3h0M1045.1 1134.6h0M801.6 1114.5h0M1097.7 941.4h0M1590.8 707.4h0M815.3 1058.1h0M861.6 732.8h0M1018.7 1134.2h0M1137.9 854.9h0M1633.7 737.9h0M1016.6 1061.4h0M1188.4 303.6h0M920.3 1180.8h0M1190.6 755.8h0M1505.4 545.1h0M1116.4 774.4h0M803.2 845.9h0M899.3 1065.7h0M1223.9 341.9h0M1271.1 369.1h0M826.5 830.7h0M1058.1 1061.0h0M985.6 1054.9h0M943.2 996.0h0M751.4 930.5h0M903.1 711.1h0M849.7 773.1h0M963.8 1236.2h0M850.0 1139.8h0M1144.5 324.6h0M1163.2 1098.1h0M743.9 883.8h0M889.5 809.0h0M1160.9 374.5h0M1031.8 1048.4h0M1052.5 986.1h0M925.1 792.6h0M733.4 1023.3h0M1537.7 514.7h0M1054.6 861.5h0M1018.8 1156.1h0M1266.4 975.8h0M673.3 566.7h0M630.0 574.7h0M889.8 1128.1h0M831.1 825.2h0M835.8 796.7h0M703.2 1037.6h0M890.8 1178.8h0M880.9 1033.0h0M1188.6 728.6h0M855.0 838.7h0M1232.4 466.7h0M868.6 1178.7h0M749.8 1020.0h0M1192.6 431.6h0M925.1 1060.0h0M1484.8 526.4h0M844.8 822.6h0M967.9 1069.7h0M1149.2 1107.5h0M662.3 562.5h0M903.7 725.2h0M976.4 970.8h0M1011.7 1159.3h0M878.5 940.7h0M996.7 1208.5h0M1202.3 1025.0h0M929.4 1135.9h0M1595.5 685.0h0M1140.1 1105.5h0M992.8 1201.1h0M675.6 567.5h0M1032.6 988.4h0M820.8 1089.0h0M1212.8 841.1h0M969.0 791.5h0M810.2 790.1h0M1085.4 950.6h0M807.3 905.0h0M865.1 732.5h0M1205.4 1002.4h0M867.2 1161.9h0"/>
<path stroke="#451077" d="M740.7 1006.2h0M717.0 1080.3h0M775.9 1099.3h0M901.9 715.1h0M1021.9 807.2h0M708.4 1081.2h0M757.5 1025.4h0M1287.1 372.6h0M845.9 852.5h0M1330.0 658.1h0M995.3 838.1h0M1111.6 884.2h0M1195.6 756.1h0M762.4 1014.5h0M734.7 986.1h0M921.2 996.7h0M872.5 737.0h0M714.0 1088.0h0M1035.9 1222.6h0M1299.3 352.4h0M622.7 544.7h0M901.3 708.5h0M1154.8 791.2h0M1252.1 967.2h0M719.1 1005.0h0M716.4 1012.6h0M1147.0 1107.0h0M830.4 1039.2h0M1181.3 730.2h0M970.1 992.6h0M761.2 917.4h0M1019.2 946.1h0M751.6 1015.1h0M1066.3 1039.7h0M1157.4 1096.6h0M1149.8 362.2h0M739.8 1073.4h0M882.9 1006.6h0M1035.3 1173.7h0M806.9 864.5h0"/>
<path stroke="#51127c" d="M935.4 931.5h0M711.0 1120.7h0M755.8 959.7h0M1123.4 774.2h0M636.7 512.0h0M1007.6 1020.7h0M1059.2 925.3h0M1168.0 384.8h0M794.9 1048.6h0M956.0 754.8h0M1021.3 885.3h0M1153.3 369.1h0M987.4 799.3h0M885.5 902.4h0M1120.9 1127.4h0M1629.3 671.9h0M907.8 1182.0h0M902.0 917.7h0M1299.2 346.7h0M925.0 852.5h0M1184.4 451.9h0M1032.5 968.3h0M1094.8 781.6h0M1008.9 1065.1h0M1096.0 786.4h0M729.9 992.9h0M747.8 1080.7h0M788.0 988.5h0M798.8 948.6h0M948.0 881.3h0M679.9 963.0h0M1263.5 467.3h0M615.3 527.3h0M1208.9 680.2h0M863.2 1077.2h0M780.1 1020.8h0M721.8 1058.2h0M974.2 953.7h0M1256.0 366.3h0M1238.9 310.5h0M1228.3 962.4h0M747.3 1087.1h0M640.0 506.0h0M1497.4 587.3h0M631.3 568.0h0M1604.9 674.8h0M720.0 1045.9h0M971.1 1157.9h0M1613.2 719.5h0M748.1 1108.4h0M813.8 980.5h0M977.9 1209.2h0M1223.3 424.4h0M759.6 1075.6h0M992.2 1195.6h0M731.6 1080.5h0M1180.5 380.5h0M947.0 986.2h0M907.5 1147.6h0M1242.2 754.2h0M1210.0 958.7h0M873.1 1141.1h0M1254.8 806.4h0M753.8 1097.6h0M928.4 722.5h0M748.9 1087.7h0M1283.9 392.1h0M1298.8 380.6h0M875.7 1032.4h0M679.2 1053.1h0M1140.7 339.6h0M766.4 1038.7h0M1210.0 727.0h0M765.5 980.5h0M1209.3 337.9h0M1218.7 1050.6h0M974.9 1200.5h0M984.1 827.6h0M791.6 902.6h0M1534.9 514.0h0M987.5 793.9h0M931.5 899.8h0M1041.2 1137.6h0M906.3 1123.3h0M1108.9 1045.9h0M1533.4 516.1h0M1250.8 702.4h0M765.4 1099.4h0M1702.5 830.1h0M1075.1 958.7h0M883.3 1093.7h0M1252.2 374.6h0M747.4 1100.3h0M823.5 855.7h0M978.6 1186.6h0M1060.9 1066.9h0M895.4 1187.1h0M1253.2 715.6h0M707.7 998.4h0M704.1 976.9h0M898.4 1091.1h0M1078.5 882.0h0M1001.6 823.3h0M841.6 1107.4h0M906.4 1233.1h0M780.6 1039.5h0M1280.7 354.7h0M939.8 938.0h0M890.1 824.5h0M1293.8 469.4h0M648.0 519.3h0M905.7 1175.2h0M1173.2 372.3h0M1207.6 671.2h0M819.9 1000.8h0M950.3 952.3h0M918.1 960.6h0M911.8 715.5h0M924.5 1139.6h0M760.1 959.4h0M1002.7 943.3h0M804.8 1042.5h0M1211.9 1028.1h0M737.4 929.1h0M722.6 999.3h0M800.9 978.4h0M1156.0 799.6h0M1027.2 1169.7h0M1174.7 825.8h0M890.5 816.4h0M737.2 1097.5h0M1002.2 1198.7h0M875.6 840.5h0M880.0 1157.2h0M1196.0 1003.9h0M812.6 821.2h0M721.3 1031.0h0M738.5 1032.3h0M1596.8 690.4h0M1036.7 1076.0h0M1174.1 445.0h0M649.0 517.9h0"/>
<path stroke="#5a167e" d="M938.7 822.5h0M858.6 1116.2h0M1264.6 406.9h0M1207.0 339.3h0M739.1 905.5h0M1514.7 516.1h0M704.5 1111.0h0M863.7 1121.2h0M941.1 1144.0h0M986.1 915.3h0M1239.8 690.2h0M1288.1 368.5h0M943.4 826.1h0M1210.0 680.8h0M1146.3 859.8h0M650.3 508.8h0M908.4 715.5h0M747.3 1078.2h0M1256.6 697.9h0M981.0 1199.6h0M1207.3 954.5h0M755.3 1074.5h0M786.8 961.3h0M1274.2 387.8h0M818.8 1069.6h0M1051.3 859.3h0M741.2 981.2h0M978.8 960.4h0M905.6 1123.5h0M803.8 833.0h0M969.4 1178.7h0M1248.4 528.6h0M736.9 1026.5h0M986.2 958.8h0M737.5 1063.0h0M694.1 982.9h0M1039.3 1108.3h0M702.6 993.6h0M720.7 1086.1h0M1030.2 1072.2h0M1130.3 313.7h0M1161.8 826.8h0M761.4 990.7h0M1036.4 956.5h0M921.9 710.1h0M1491.7 554.5h0M771.3 1000.1h0M1058.6 1021.1h0M867.4 1159.6h0M1032.4 1180.6h0M855.2 744.2h0M904.3 998.6h0M780.3 960.0h0M798.8 1119.2h0M958.3 1221.2h0M747.1 966.8h0M995.7 1193.0h0M1261.2 813.3h0M703.1 1016.1h0M1021.8 975.3h0M1286.1 409.0h0M878.8 1076.8h0M602.7 542.0h0M1013.7 1015.2h0M1164.3 1054.0h0M1494.2 553.5h0M1277.8 360.5h0M801.8 1031.7h0M727.2 1091.2h0M1187.6 331.0h0M1273.6 379.1h0M1003.9 833.3h0M980.2 1179.8h0M978.6 1227.2h0M955.8 953.2h0M759.3 961.1h0M599.3 530.0h0M923.6 880.4h0M1577.7 630.9h0M793.3 969.7h0M781.1 896.2h0M780.5 1061.8h0M847.3 1036.3h0M1247.3 437.6h0M1191.3 1013.0h0M872.3 1130.2h0M771.7 990.0h0M703.0 969.2h0M934.9 917.2h0M813.2 1107.8h0M1281.3 359.1h0M836.9 1143.4h0M851.9 833.8h0M1237.6 780.4h0M1578.2 523.6h0M1049.4 1138.9h0M791.8 963.0h0M1205.0 374.0h0M720.3 1022.9h0M719.7 1113.4h0M780.1 987.9h0M711.9 1038.9h0M959.7 1235.5h0M1266.1 438.7h0M1130.5 979.5h0M916.1 810.8h0M1295.8 379.7h0M1233.1 507.8h0M960.8 1099.2h0M959.0 999.5h0M1175.7 1024.9h0M1018.9 1015.9h0M1186.5 837.8h0M1263.3 360.1h0M804.1 1130.4h0M1231.7 388.0h0M748.5 1097.2h0M727.4 1020.7h0M1022.0 1169.4h0M1292.1 361.5h0M1289.2 391.5h0M769.5 903.7h0M1212.9 964.6h0M1287.0 399.6h0M729.0 1027.8h0M705.3 1086.1h0M885.8 724.1h0M647.2 512.2h0M803.6 1047.0h0M927.1 805.3h0M978.9 1141.8h0M1300.1 464.0h0M956.3 1190.4h0M1020.7 1153.3h0M961.5 1215.0h0M701.2 1069.9h0M1006.4 1023.9h0M969.2 1114.7h0M1180.0 1029.7h0M1187.0 820.7h0M1250.6 498.5h0"/>
<path stroke="#641a80" d="M1060.4 882.4h0M1048.5 906.9h0M759.3 1088.9h0M774.6 1090.2h0M1220.8 798.4h0M989.9 1002.7h0M1121.9 413.8h0M710.0 954.8h0M1066.1 932.9h0M980.0 1137.0h0M496.9 229.5h0M792.8 979.4h0M875.1 814.0h0M1288.6 340.4h0M1162.7 473.6h0M1172.8 705.4h0M868.2 1127.4h0M871.4 822.0h0M961.5 1211.4h0M852.9 1112.6h0"/>
<path stroke="#782281" d="M1054.8 917.5h0M1212.7 1048.8h0M1082.5 912.1h0M1155.7 1045.3h0M1025.2 1049.1h0M863.4 1143.0h0M1237.1 395.3h0M707.8 1040.9h0M944.4 793.2h0M1079.9 1152.3h0M889.1 805.7h0M1055.9 1019.1h0M1191.7 831.4h0M1217.6 439.3h0M863.6 811.9h0M681.1 1019.4h0M969.5 988.1h0M805.4 840.2h0M1118.6 859.7h0M898.9 851.8h0M965.0 1119.5h0M1247.5 479.6h0M869.0 1178.1h0M1093.1 931.8h0M1079.6 982.6h0M768.8 873.5h0M1260.6 320.6h0M717.8 921.2h0M915.6 1027.1h0"/>
<path stroke="#832681" d="M1039.3 920.8h0M1159.3 840.2h0M973.4 813.4h0M997.3 1092.4h0M1161.2 383.2h0M1262.9 390.3h0M1056.2 1035.0h0M956.3 1075.8h0M1194.7 829.0h0M954.2 955.5h0M1072.9 914.0h0M877.7 810.3h0M1056.8 896.0h0M1262.1 416.4h0M1019.7 826.9h0M1004.8 1172.4h0M1121.9 1130.4h0M1037.6 936.5h0M1026.7 961.4h0M1181.6 1019.6h0M832.2 1151.1h0M1058.9 951.9h0M702.5 1071.5h0M1029.9 967.4h0M1161.3 843.8h0M385.3 499.9h0M889.4 1002.9h0M1042.9 898.7h0M1638.0 720.8h0M938.5 1175.0h0M913.7 1025.6h0M886.8 736.6h0M1018.0 807.3h0M909.2 1104.5h0M802.9 807.3h0M1067.3 938.6h0M1543.6 519.9h0M1244.0 476.3h0M1185.1 462.7h0M1251.5 817.0h0M848.5 829.2h0M1064.9 878.2h0M863.0 849.8h0M1041.5 1057.6h0M1045.2 876.9h0M1242.0 372.6h0M1078.6 929.7h0M1293.2 348.7h0M908.1 717.9h0"/>
<path stroke="#8c2981" d="M1123.8 1131.1h0M975.2 1120.3h0M1045.5 908.9h0M1273.7 479.9h0M911.9 712.1h0M1084.7 900.7h0M1239.8 498.2h0M1158.2 1010.5h0M1052.0 970.8h0M1050.8 808.8h0M963.8 809.4h0M987.7 939.7h0M1021.2 813.3h0M1167.8 1036.4h0M740.3 1015.2h0M1073.8 884.3h0M924.0 1001.8h0M939.3 1178.5h0M857.0 1060.4h0M1041.1 1169.0h0M1219.8 828.8h0M1192.4 440.9h0M1200.1 438.5h0M1219.5 957.3h0M1017.1 804.0h0M1179.2 1049.6h0M1483.1 516.4h0M950.3 935.5h0M1161.9 801.0h0M994.1 812.8h0M1204.7 426.1h0M1507.2 574.0h0M1037.6 1150.4h0M1121.3 1056.1h0M1301.0 373.3h0M1009.0 826.6h0M1487.7 528.0h0M979.7 1167.6h0M1143.5 368.4h0M1251.5 811.2h0M951.4 1081.8h0M1097.3 879.4h0M991.7 829.0h0M1016.3 799.8h0M1273.3 965.0h0M920.8 701.4h0M1280.1 370.5h0M1204.4 333.8h0M904.7 900.2h0M1115.0 855.3h0M851.0 824.3h0M908.6 723.7h0M804.9 1158.0h0M900.2 1099.1h0M1616.9 694.3h0M840.1 808.7h0"/>
<path stroke="#962c80" d="M1060.3 1165.1h0M1199.2 853.8h0M1544.4 521.2h0M1144.3 971.2h0M705.8 981.6h0M1593.6 694.3h0M778.6 1124.4h0M1299.5 380.1h0M920.7 962.1h0M1117.5 910.4h0M1281.9 474.8h0M1094.2 971.1h0M974.9 998.2h0M903.2 994.6h0M896.0 1061.0h0M838.3 1099.3h0M900.0 1138.2h0M1162.7 335.0h0M1037.4 1085.9h0M721.4 1026.0h0M841.9 849.9h0M913.8 1165.0h0M1164.6 1010.1h0M816.2 821.2h0M994.7 966.3h0M1273.9 974.0h0M864.6 793.1h0M916.8 812.5h0M972.5 951.9h0M1066.8 912.1h0M1207.6 325.7h0M1154.0 309.0h0M1031.8 961.5h0M1046.8 1011.0h0M1221.5 773.9h0M1275.7 966.4h0M790.8 1079.5h0M1177.1 1072.3h0M1195.9 390.5h0M1483.0 521.7h0M983.0 921.7h0M1718.4 910.4h0M1492.3 524.5h0M1072.7 840.5h0M1001.0 1139.7h0M916.4 1178.5h0M1072.4 968.1h0M1043.3 940.3h0M798.0 907.0h0M944.9 959.5h0M1219.9 430.7h0M877.2 749.0h0M1100.1 903.0h0M983.6 1036.2h0"/>
<path stroke="#a1307e" d="M981.1 995.5h0M883.9 815.8h0M1240.3 961.7h0M662.0 565.5h0M1039.6 1076.0h0M1048.6 972.2h0M1136.8 309.4h0M1241.2 767.2h0M1074.8 817.3h0M829.5 1151.9h0M1081.3 945.5h0M916.5 791.4h0M1057.8 950.7h0M1195.8 426.0h0M737.1 1063.3h0M897.7 907.9h0M874.7 1191.7h0M1225.8 322.3h0M999.2 1048.8h0M1117.1 878.4h0M1527.0 561.6h0M979.2 827.0h0M973.1 722.2h0M998.7 957.2h0M1206.1 967.7h0M1055.7 921.3h0M1050.0 1056.4h0M1231.6 760.0h0M708.7 960.3h0M1045.8 843.5h0M1185.0 1066.3h0M1019.5 1091.6h0M877.5 841.9h0M788.8 888.3h0M1165.8 801.9h0M887.7 839.2h0M1196.4 978.7h0M1201.1 1013.3h0M1020.7 1089.3h0M966.9 1235.2h0M811.7 836.1h0M963.2 734.6h0M938.1 1116.0h0M1053.7 867.2h0M864.5 808.1h0"/>
<path stroke="#b73779" d="M1213.4 321.7h0M1271.1 318.6h0M1625.6 678.0h0M1119.5 871.6h0M1189.6 766.0h0M952.8 988.0h0M1236.1 800.4h0M1020.8 965.3h0M1038.0 868.2h0M1004.4 759.2h0M1008.2 924.3h0M981.4 792.7h0"/>
<path stroke="#c03a76" d="M1247.4 477.0h0M949.7 999.9h0M1199.3 1040.0h0M1031.7 832.5h0M916.1 1076.8h0M1209.5 1016.7h0M1625.3 678.5h0M916.1 1157.2h0M1267.9 407.0h0M981.0 1010.2h0M1138.0 769.6h0M1203.8 288.2h0M1060.9 818.1h0M1177.6 1064.5h0M881.3 1139.9h0M984.1 1180.8h0M883.7 1184.2h0M895.5 1009.2h0M1020.6 1067.0h0M989.1 734.8h0M1019.1 807.3h0M796.3 836.1h0M1192.9 435.0h0M1180.6 1049.7h0M871.1 1021.4h0M966.9 811.8h0M1583.3 633.7h0M1143.7 839.0h0M814.3 931.4h0"/>
<path stroke="#ca3e72" d="M1024.6 1141.0h0M725.4 977.1h0M1159.9 1048.0h0M1182.1 457.8h0M1576.0 520.1h0M1273.3 461.8h0M1057.1 875.7h0M875.2 739.4h0M987.3 1020.5h0M1148.1 1104.0h0M1004.4 1000.1h0M1046.6 868.5h0M831.7 1166.3h0M1000.1 1213.9h0M1060.2 900.5h0M959.5 1086.9h0M1624.4 655.1h0M955.6 955.0h0M974.3 738.3h0M1068.0 937.4h0M1151.6 365.6h0M1221.0 830.9h0M883.1 1179.2h0M962.4 976.7h0M1044.3 803.0h0M1177.4 821.4h0M996.2 746.9h0M1032.5 1179.1h0M1649.6 715.8h0M931.7 702.3h0M1066.3 858.6h0M1073.6 1033.2h0M1493.6 519.5h0M1286.5 350.4h0M1170.4 363.0h0M975.3 726.0h0M1622.9 694.6h0M888.6 1118.2h0M1061.4 1000.1h0"/>
<path stroke="#d5446d" d="M1490.4 527.3h0M1183.3 427.9h0M1706.8 893.6h0M1057.9 816.5h0M1271.4 385.0h0M1205.9 332.6h0M1244.0 314.5h0M1076.8 890.8h0M950.7 975.3h0M1010.9 788.6h0M984.4 734.4h0M941.9 718.3h0M941.1 707.7h0M885.8 1175.7h0M1184.8 739.6h0M1112.6 804.7h0M792.4 960.6h0M920.3 1058.8h0M1162.7 461.0h0M1512.8 571.2h0M977.5 800.9h0M937.6 817.0h0M1214.3 832.4h0M741.7 1033.8h0M1507.2 560.0h0M975.6 939.4h0M937.9 1119.9h0M1018.5 838.2h0M929.5 702.9h0M1073.1 867.1h0M890.7 1056.0h0M859.5 1097.5h0M1180.0 762.4h0M1041.4 1098.9h0M1055.5 1113.2h0M1660.1 723.8h0"/>
<path stroke="#de4968" d="M801.0 929.5h0M829.2 848.8h0M1131.6 315.6h0M1148.9 332.9h0M1548.3 542.3h0M1186.8 1026.9h0M899.7 996.0h0M974.3 801.6h0M830.2 1077.0h0M1567.0 527.3h0M970.5 738.6h0M1138.0 744.4h0M804.4 1101.9h0M1265.9 385.5h0M1197.3 1035.4h0M913.8 1028.1h0M1217.6 437.4h0"/>
<path stroke="#e75263" d="M1184.2 668.2h0M1180.8 840.5h0M965.1 978.1h0M1021.1 961.5h0M1020.7 1200.7h0M940.5 1000.8h0M755.8 924.3h0M1018.0 806.2h0M635.3 561.3h0M969.1 840.7h0M908.8 1107.9h0M1141.2 312.5h0M1187.3 1057.6h0"/>
<path stroke="#ed5a5f" d="M1069.1 1150.2h0M1077.0 895.4h0M1122.6 801.9h0M1206.7 335.3h0M1247.6 518.1h0M1123.6 794.8h0M1187.9 320.4h0M1080.4 941.6h0M804.6 1060.8h0M1238.5 377.6h0M946.2 999.4h0M862.2 793.2h0M1147.1 317.0h0M935.7 796.6h0M1115.9 411.9h0M1250.8 810.4h0"/>
<path stroke="#f2645c" d="M1192.0 796.5h0M894.1 1163.3h0M1031.0 811.6h0M928.6 708.7h0M1018.3 1169.9h0M1235.1 537.8h0M1133.7 766.6h0M1098.5 931.5h0M820.4 833.3h0M1047.4 874.0h0M1153.8 736.0h0M898.1 1133.4h0M972.1 790.6h0M1167.4 1058.7h0M1084.6 892.1h0M1127.2 786.4h0M596.0 535.3h0M1501.6 583.4h0M1065.8 817.2h0M1063.1 965.8h0"/>
<path stroke="#f7705c" d="M799.4 1121.0h0M1114.8 1095.3h0M977.1 811.9h0M914.2 704.9h0M1073.7 1077.6h0M1152.4 736.0h0M975.8 959.3h0"/>
<path stroke="#f97b5d" d="M979.8 984.7h0M1044.4 924.4h0M1065.2 864.4h0M1042.7 889.1h0M1216.0 755.2h0"/>
<path stroke="#fc8961" d="M1615.2 646.5h0M797.6 878.0h0M1231.3 436.4h0M1221.4 675.8h0"/>
<path stroke="#fd9467" d="M1273.4 325.9h0M1185.4 1019.8h0M622.7 507.3h0M1240.6 806.2h0M1715.6 906.8h0M1137.6 340.7h0M1277.7 400.4h0M900.0 1108.9h0M935.4 798.7h0M1033.0 938.8h0"/>
<path stroke="#fe9f6d" d="M1103.3 421.0h0"/>
<path stroke="#feb77e" d="M1500.7 591.8h0"/>
<path stroke="#fec488" d="M615.3 534.0h0M1097.6 425.6h0"/>
<path stroke="#000004" d="M849.5 821.7h0M723.4 1052.8h0M1231.7 482.6h0M791.5 981.0h0M883.6 1174.2h0M1160.0 824.0h0M1174.1 411.9h0M906.7 719.4h0M1244.4 400.3h0M890.3 1216.5h0M892.7 940.4h0M1044.7 1139.9h0M978.3 1201.3h0M1225.0 949.5h0M1088.5 947.6h0M1719.2 907.2h0M916.4 811.8h0M810.3 1114.5h0M1073.6 1170.0h0M1283.3 370.4h0M847.9 806.1h0M1162.6 1084.0h0M1239.2 836.5h0M941.2 876.0h0M984.7 799.6h0M997.7 822.0h0M1232.6 374.3h0M1114.7 1131.7h0M898.8 770.2h0M976.4 1220.3h0M1245.1 488.5h0M1255.4 494.9h0M872.2 1101.4h0M971.3 1208.3h0M865.9 830.0h0M900.1 1213.4h0M923.8 911.4h0M1035.3 1153.8h0M915.0 813.4h0M1103.1 922.7h0M1113.8 1124.0h0M880.6 742.6h0M1193.2 1066.4h0M1029.1 1178.9h0M1182.9 1025.3h0M987.5 1053.1h0M919.5 1153.3h0M872.3 746.7h0M1253.0 453.0h0M954.3 1188.5h0M995.3 1180.3h0M769.1 1023.7h0M873.7 907.4h0M1189.0 335.2h0M954.7 854.7h0M828.0 1157.3h0M1122.4 414.6h0M779.5 1073.7h0M1184.8 748.0h0M935.1 1220.6h0M978.5 1184.7h0M864.0 1141.2h0M818.2 866.0h0M1031.8 941.5h0M838.3 860.9h0M1170.8 369.7h0M764.7 1080.0h0M1058.6 926.0h0M1033.6 838.3h0M869.1 907.8h0M874.9 1138.6h0M894.2 1199.0h0M989.3 833.3h0M900.0 1020.9h0M820.2 785.3h0M741.8 919.4h0M1563.2 532.0h0M1629.0 667.3h0M1058.5 1167.0h0M987.9 996.5h0M759.2 879.2h0M902.0 706.8h0M943.3 1216.8h0M758.6 1119.2h0M798.8 895.9h0M995.9 1139.5h0M936.6 897.5h0M1264.5 478.9h0M1179.4 853.6h0M861.3 1140.0h0M838.4 834.8h0M806.9 839.7h0M856.4 736.2h0M700.8 922.8h0M965.7 1235.8h0M881.8 795.7h0M1040.3 816.6h0M985.2 1236.7h0M1289.6 453.0h0M1719.4 900.1h0M812.9 886.4h0M781.8 1082.6h0M1638.4 738.2h0M841.0 845.8h0M806.3 995.0h0M862.0 735.2h0M1028.0 1179.0h0M862.6 810.4h0M1238.7 988.7h0M1293.4 381.5h0M900.5 740.4h0M1156.9 1099.8h0M1137.4 757.0h0M739.5 918.8h0M849.8 1120.8h0M1256.1 495.3h0M998.7 1238.9h0M1174.1 320.7h0M931.5 1217.7h0M886.3 768.0h0M860.0 733.4h0M942.0 1147.4h0M602.6 529.4h0M917.6 1213.8h0M1247.5 942.5h0M615.3 542.7h0M1074.7 946.2h0M871.9 794.0h0M955.0 1159.4h0M1234.6 777.7h0M910.5 1115.0h0M988.9 1123.2h0M1105.6 781.6h0M995.4 1099.1h0M1194.7 425.6h0M1042.7 1180.1h0M1019.6 1001.0h0M1098.1 951.3h0M965.7 1199.3h0M826.1 1044.1h0M1036.6 1069.4h0M804.2 806.5h0M895.2 1202.3h0M838.3 810.0h0M1058.2 1159.0h0M998.7 1095.6h0M902.7 1167.0h0M821.8 785.2h0M1201.4 286.5h0M1652.4 713.0h0M1195.7 1036.3h0"/>
<path stroke="#451077" d="M1235.8 670.0h0M1175.8 703.2h0M1213.2 1012.4h0M991.9 973.3h0M1078.9 898.7h0M1057.8 1147.1h0M1510.4 510.0h0M1237.0 348.1h0M1499.8 600.2h0M918.5 1065.6h0M752.3 978.2h0M1234.0 755.2h0M855.2 1121.8h0M918.8 1012.9h0M1295.8 351.7h0M1294.3 351.4h0M1033.7 1084.4h0M600.9 532.0h0M887.2 1191.0h0M931.9 959.9h0M702.2 989.1h0M700.3 1051.6h0M947.4 1056.2h0M969.1 1129.3h0M1258.5 803.3h0M1103.0 1085.5h0M1623.5 684.0h0M1164.0 433.4h0M860.2 1002.8h0M1187.7 1013.1h0M1281.1 372.2h0M901.6 1151.1h0M924.0 901.2h0M972.9 1172.4h0M720.2 1051.0h0M729.4 995.1h0M709.9 1053.0h0M985.2 831.1h0M1184.8 661.6h0M718.1 972.5h0M761.7 1023.3h0M1061.3 1163.7h0M1185.5 381.4h0M917.8 1141.1h0M1103.6 420.7h0M1141.7 997.9h0M944.2 1137.9h0M1193.1 350.3h0M1107.1 825.9h0M1060.2 1147.8h0"/>
<path stroke="#51127c" d="M1532.4 564.2h0M1596.4 675.8h0M1551.1 518.9h0M1258.1 318.9h0M984.9 1181.2h0M822.3 864.4h0M1276.9 342.8h0M1149.5 1098.0h0M1174.2 700.3h0M780.7 1079.3h0M970.5 1155.1h0M867.0 1156.7h0M818.6 1111.4h0M1527.8 528.3h0M705.1 963.8h0M740.1 1041.0h0M1761.7 810.7h0M1256.5 404.0h0M890.6 1237.0h0M1157.3 459.6h0M1086.0 947.6h0M1188.9 966.2h0M1293.0 408.4h0M914.1 981.6h0M940.9 1209.8h0M770.0 1066.1h0M1298.3 374.6h0M1166.9 1065.3h0M1200.2 324.3h0M1076.5 908.6h0M994.8 1091.9h0M1019.5 1089.9h0M726.7 1074.7h0M827.6 805.9h0M1257.5 356.2h0M719.0 1072.0h0M1180.8 466.8h0M1248.2 315.9h0M796.7 1051.4h0M967.1 945.7h0M886.8 799.4h0M1164.1 1036.9h0M726.6 999.6h0M1301.6 343.9h0M726.9 959.3h0M1050.2 919.5h0M1058.5 928.2h0M1028.2 960.1h0M855.2 1179.0h0M925.2 1238.5h0M1106.5 1139.3h0M841.1 1085.9h0M1146.9 322.5h0M1142.6 1095.3h0M734.6 1036.5h0M976.0 1189.3h0M1002.7 1103.4h0M1020.3 1194.0h0M1714.2 832.3h0M831.6 983.5h0M1026.5 1104.0h0M1002.9 923.1h0M1255.6 706.0h0M760.2 1085.5h0M723.3 1073.6h0M1625.0 672.3h0M1196.2 428.7h0M979.5 968.7h0M680.8 1000.8h0M724.1 1015.5h0M714.0 1092.2h0M1260.2 374.2h0M1045.2 1041.3h0M738.4 978.0h0M726.8 1019.4h0M900.6 1049.0h0M963.8 1134.5h0M877.6 1113.0h0M1215.7 328.1h0M1078.9 947.7h0M760.1 961.3h0M618.0 512.0h0M961.2 1168.8h0M925.0 1055.9h0M858.0 955.3h0M1041.1 1160.3h0M641.6 506.4h0M896.7 1012.1h0M908.6 708.8h0M1043.3 876.7h0M1586.9 649.6h0M940.5 838.8h0M1255.0 704.8h0M1264.0 364.8h0M704.0 987.4h0M1609.2 706.6h0M821.8 812.1h0M897.6 942.9h0M736.0 1059.7h0M779.9 980.4h0M1201.0 678.2h0M799.8 1133.4h0M1161.2 384.2h0M716.2 998.9h0M850.8 840.2h0M747.2 1039.5h0M965.0 997.0h0M944.6 1192.6h0M665.3 558.7h0M1046.2 801.8h0M758.2 1102.9h0M899.4 1066.5h0M1627.2 724.5h0M741.1 1013.1h0M679.2 942.1h0M779.8 1104.0h0M680.3 941.9h0M1107.5 1046.4h0M1260.3 361.8h0M931.9 817.6h0M1228.0 705.0h0M1490.5 536.4h0M999.7 1059.3h0M879.8 1138.6h0M842.2 1103.7h0M1221.8 1042.2h0M687.0 1021.3h0M978.6 1201.9h0M828.7 835.4h0M1132.8 365.2h0M718.1 1002.8h0M821.1 789.6h0M1081.7 1141.9h0M1050.9 800.2h0M940.1 987.6h0M1286.0 377.1h0M1243.2 389.8h0M1296.5 358.0h0M1121.7 1093.7h0M1010.0 986.2h0M974.7 1192.3h0M947.5 951.0h0M1251.1 477.3h0M636.7 507.6h0M808.8 805.6h0M900.6 1119.5h0M845.4 799.3h0M893.8 885.3h0M1261.3 376.0h0M894.1 1172.6h0M1078.2 901.6h0M1186.0 674.8h0M873.8 1018.6h0M708.6 1053.1h0M1110.3 1053.2h0M1264.8 381.4h0M1157.2 733.6h0M1014.5 818.7h0M1248.4 696.4h0M1188.5 322.9h0M1184.8 761.8h0M1257.6 315.3h0M1149.5 313.4h0M751.3 1001.2h0"/>
<path stroke="#5a167e" d="M940.6 823.7h0M754.8 998.3h0M1013.5 954.2h0M1255.8 365.9h0M747.8 939.7h0M1238.1 531.3h0M1175.3 455.3h0M1308.6 361.4h0M1146.7 409.3h0M1291.1 388.3h0M1265.4 366.7h0M988.5 821.4h0M896.6 1155.8h0M1639.7 733.8h0M1185.7 676.7h0M1185.8 957.5h0M795.8 1024.3h0M1035.9 1047.7h0M1278.3 389.2h0M1124.3 1067.9h0M1061.8 921.9h0M1010.3 1127.3h0M778.6 979.3h0M1163.7 1060.2h0M958.0 1114.4h0M895.2 1115.8h0M750.5 1013.0h0M1240.9 395.4h0M924.4 713.3h0M790.0 1095.7h0M643.3 520.0h0M1712.0 872.8h0M719.3 1024.0h0M752.7 1110.3h0M759.5 965.7h0M1012.9 821.6h0M704.7 978.6h0M1192.0 749.2h0M1177.7 390.1h0M1181.6 1050.9h0M1113.6 1140.9h0M763.3 1061.0h0M985.2 1101.0h0M767.9 1080.5h0M738.3 994.7h0M796.1 918.8h0M1168.3 370.0h0M725.9 927.3h0M1108.9 1125.1h0M1038.7 1092.9h0M1176.4 403.6h0M815.7 817.7h0M1074.3 1186.0h0M738.0 1019.8h0M692.0 1074.0h0M736.6 1037.6h0M903.9 1155.0h0M735.1 1023.6h0M620.4 544.0h0M879.6 1123.7h0M710.3 1037.1h0M1587.1 643.9h0M682.3 1015.5h0M1186.3 1061.6h0M1039.8 1205.9h0M779.1 1080.0h0M1043.2 927.3h0M801.2 1120.7h0M724.0 1118.3h0M898.2 829.3h0M846.1 823.4h0M757.9 933.7h0M717.4 1071.3h0M840.1 824.9h0M703.1 1010.7h0M1622.9 703.9h0M1157.0 447.3h0M754.2 1020.2h0M1294.6 391.5h0M756.1 1111.6h0M1232.8 668.8h0M1180.6 860.7h0M888.4 1153.1h0M808.7 1042.4h0M975.0 801.1h0M1151.1 986.2h0M1503.9 575.5h0M1012.7 1169.4h0M1209.4 719.2h0M1276.9 396.9h0M769.0 1065.9h0M1096.2 787.1h0M1499.8 549.8h0M1178.7 466.7h0M1013.8 826.4h0M1246.1 488.0h0M724.9 1079.7h0M712.6 1042.3h0M960.0 1206.0h0M742.0 1053.0h0M1708.8 908.8h0M978.8 1180.1h0M1063.3 957.1h0M977.4 1177.4h0M1169.7 364.1h0M839.4 823.8h0M993.4 1179.8h0M956.9 1196.2h0M738.2 1041.4h0M871.6 911.3h0M725.1 971.3h0M952.8 1140.0h0M759.2 877.7h0M1289.6 335.3h0M779.4 919.6h0M1188.4 381.4h0M1265.5 470.4h0M1127.2 1102.2h0M1142.0 337.3h0M994.2 732.0h0M719.0 1080.4h0M1703.5 901.0h0M775.8 979.0h0M771.4 969.2h0M1244.9 489.3h0M946.4 1218.6h0M730.0 955.9h0M1210.3 843.1h0M785.8 961.9h0M793.1 999.4h0M831.8 1115.1h0M769.6 1097.5h0M1240.0 755.2h0M1285.6 328.8h0M976.9 800.7h0M1038.7 1138.0h0M621.3 523.3h0M1027.8 993.8h0M761.3 994.5h0M1255.4 360.3h0M989.4 1157.7h0M1123.5 824.0h0"/>
<path stroke="#641a80" d="M997.1 988.6h0M834.3 811.3h0M1078.1 819.3h0M886.5 1119.1h0M1235.2 754.0h0M748.4 1020.4h0M1001.3 1119.4h0M812.4 948.9h0M1180.1 1068.3h0M1090.4 962.5h0M714.4 969.1h0M995.9 1009.2h0M938.4 906.1h0M870.5 845.7h0"/>
<path stroke="#782281" d="M1273.1 359.5h0M1169.0 832.7h0M1646.8 729.8h0M913.5 741.6h0M1202.0 944.7h0M940.3 997.1h0M1227.9 769.0h0M1142.8 319.8h0M1268.0 472.4h0M1240.8 375.2h0M1614.7 702.8h0M978.9 1116.8h0M1069.2 929.3h0M919.9 1072.9h0M1022.8 939.4h0M959.4 1140.1h0M1710.9 848.6h0M906.1 705.4h0M1245.8 956.5h0M982.6 1219.5h0M878.9 1034.9h0M1143.5 990.0h0"/>
<path stroke="#832681" d="M1118.9 835.5h0M944.6 827.0h0M1167.8 390.6h0M1084.8 946.8h0M1020.5 1025.5h0M740.3 976.5h0M1079.6 929.7h0M1296.0 377.5h0M1631.8 728.8h0M1223.8 1042.1h0M1105.2 1010.7h0M980.0 970.4h0M1128.7 1007.7h0M821.9 980.8h0M798.2 838.3h0M863.9 753.4h0M1023.2 1104.6h0M908.0 729.9h0M759.3 927.3h0M1282.6 403.3h0M1201.0 964.3h0M1161.7 315.3h0M1585.7 508.7h0M846.4 1138.7h0M1153.0 993.7h0M900.6 1126.1h0M1209.7 956.1h0M877.2 801.2h0M1089.3 852.0h0M1088.3 1140.3h0M1215.3 839.4h0M1197.2 1033.9h0M1229.0 313.4h0M1296.8 336.2h0M1127.7 323.1h0M1054.3 1080.4h0M1021.5 959.4h0M1221.6 1041.3h0M1300.2 345.2h0M900.4 1154.0h0M1047.3 814.2h0M810.1 807.1h0M721.3 1101.2h0M835.4 847.2h0M1039.5 924.3h0"/>
<path stroke="#8c2981" d="M1012.7 1209.1h0M1030.3 1097.4h0M1038.3 1040.6h0M1492.1 524.4h0M940.5 969.1h0M658.2 576.3h0M977.2 972.7h0M856.9 832.7h0M1716.7 908.6h0M1018.8 1021.9h0M1237.0 509.4h0M742.5 1072.5h0M1063.7 814.8h0M951.6 979.7h0M1106.8 1103.0h0M980.2 1003.0h0M1038.9 913.2h0M819.9 789.0h0M1249.6 792.4h0M879.2 999.7h0M1019.0 1006.8h0M1052.2 953.2h0M900.5 1130.8h0M1147.0 868.7h0M728.5 1088.7h0M1227.9 349.3h0M1179.7 820.6h0M941.5 1095.8h0M974.8 1002.5h0M1032.9 979.2h0M1149.6 984.6h0M1061.7 919.3h0M1174.1 946.1h0M977.0 1056.1h0M1246.1 499.5h0M984.7 810.7h0M1242.0 504.5h0M1103.2 420.9h0M901.4 1118.7h0M884.6 1174.2h0M1004.3 823.0h0M839.8 1054.7h0M875.9 748.5h0M1019.3 989.5h0M1010.5 939.4h0M1189.4 737.6h0M869.5 819.5h0M1133.3 308.8h0M1007.1 813.6h0M852.1 969.3h0M1020.3 1151.0h0M1120.1 311.4h0M739.9 1034.5h0"/>
<path stroke="#962c80" d="M847.1 750.7h0M1512.8 513.3h0M1199.5 823.9h0M820.2 977.4h0M1132.2 409.1h0M960.2 979.5h0M1292.2 382.8h0M990.3 825.8h0M814.9 819.0h0M1015.8 1089.2h0M976.4 730.1h0M1112.2 1107.6h0M1038.3 926.9h0M1240.3 765.1h0M853.3 862.4h0M1003.5 970.7h0M1211.0 788.8h0M1013.9 1222.5h0M903.8 719.2h0M1535.7 516.9h0M1029.2 1057.6h0M1245.0 367.0h0M975.8 729.4h0M1631.1 726.8h0M1592.2 699.0h0M1240.8 496.5h0M1049.5 981.1h0M998.0 797.0h0M1230.5 947.1h0M1574.4 518.9h0M866.2 1040.9h0M1132.2 833.7h0M959.5 1001.4h0M804.7 1091.2h0M1199.5 856.3h0M1270.1 453.6h0M1006.6 1094.8h0M1157.2 750.4h0M824.3 817.4h0M1486.7 529.2h0M1589.2 701.2h0M888.8 1118.6h0M896.5 1126.8h0M1032.0 810.3h0M1037.6 1048.9h0M1081.5 981.9h0M1147.8 324.9h0M840.8 847.6h0M1052.7 1046.5h0"/>
<path stroke="#a1307e" d="M1151.3 871.7h0M740.5 1034.3h0M941.0 922.2h0M1045.6 939.3h0M993.2 752.5h0M640.7 564.0h0M1522.2 519.9h0M1050.5 973.4h0M932.2 991.9h0M1510.6 515.3h0M1201.2 1003.0h0M814.9 782.8h0M973.3 1119.2h0M1061.0 882.9h0M897.8 1179.6h0M876.2 1040.1h0M975.0 802.3h0M1595.5 699.0h0M925.4 716.8h0M1017.2 1192.4h0M1169.9 368.2h0M1081.1 978.4h0M1185.2 957.9h0M1047.0 857.3h0M1021.8 966.9h0M1524.0 518.0h0M1087.4 934.0h0M979.2 795.7h0M1051.5 973.7h0M1143.7 969.9h0M989.7 733.4h0M1225.0 829.4h0M1078.5 903.2h0M1044.2 961.7h0M1015.0 800.8h0M1000.8 1195.5h0M1080.0 953.6h0M982.5 939.3h0M939.4 704.1h0M1273.4 481.4h0M1034.3 907.4h0M1186.9 381.2h0M1300.7 345.5h0"/>
<path stroke="#b73779" d="M1138.0 782.8h0M1275.2 331.6h0M1130.9 852.7h0M1076.3 863.3h0M1593.1 505.9h0M1056.3 910.4h0M1256.4 330.3h0M1019.4 1034.2h0M1041.3 1008.9h0M991.6 938.6h0M703.6 958.6h0M1007.4 950.3h0M1039.0 1057.3h0M1611.3 698.0h0M976.8 723.1h0M1151.1 853.6h0M1179.5 840.3h0"/>
<path stroke="#c03a76" d="M1115.5 1032.7h0M1200.4 779.2h0M1658.0 725.1h0M1135.0 1111.7h0M1121.8 1094.1h0M845.5 988.2h0M1492.3 532.5h0M924.1 954.7h0M1153.7 1038.8h0M938.4 812.1h0M1090.7 958.7h0M773.0 1018.1h0M1204.9 1021.6h0M1186.4 981.2h0M710.2 1088.8h0M834.1 815.9h0M955.8 711.0h0M871.4 1019.6h0M1008.3 1109.0h0M933.0 1158.5h0M780.1 910.3h0M1020.6 1109.4h0M914.6 980.9h0M828.9 1159.8h0M922.9 980.6h0M1706.4 895.2h0M1155.4 841.2h0M1288.4 364.7h0M838.6 840.0h0M978.6 951.7h0M999.2 968.1h0M645.0 516.7h0M1254.2 329.9h0M1203.9 352.1h0M1193.6 269.9h0M876.4 830.7h0M932.7 701.2h0M954.1 945.3h0M983.8 1006.2h0M885.4 900.8h0"/>
<path stroke="#ca3e72" d="M921.2 991.2h0M1150.0 381.0h0M916.2 753.0h0M984.6 1225.2h0M1060.8 979.7h0M1192.2 824.9h0M919.1 965.0h0M1192.0 437.8h0M1068.7 906.9h0M1254.4 489.0h0M1073.0 866.8h0M923.7 805.2h0M1246.6 750.6h0M1002.0 1040.7h0M1234.9 505.6h0M914.9 751.9h0M1242.6 826.7h0M989.4 1104.0h0M949.7 1141.5h0M1136.4 784.1h0M817.9 787.1h0M1595.4 507.5h0M908.2 728.1h0M1622.5 696.2h0M1031.2 859.5h0M1017.8 1044.6h0M1079.3 959.0h0M1221.4 841.5h0M1003.4 905.3h0M1119.5 1129.5h0M917.7 1128.4h0M1264.1 398.2h0M738.1 1007.6h0M935.5 976.4h0M1207.6 429.6h0"/>
<path stroke="#d5446d" d="M1041.3 1217.7h0M1166.5 848.3h0M829.2 826.1h0M1126.8 764.2h0M620.5 537.8h0M1714.3 843.5h0M1707.2 831.2h0M934.7 969.8h0M1009.1 1050.3h0M1126.0 764.8h0M937.4 989.1h0M1001.1 1220.2h0M992.8 808.5h0M1621.6 654.2h0M1060.2 876.4h0M1127.3 959.4h0M980.8 955.2h0M1620.7 652.3h0M866.9 848.9h0M1163.9 1072.3h0M969.5 721.5h0M1529.6 572.2h0M1190.7 429.8h0M630.0 539.3h0M1132.0 341.1h0M1232.9 918.6h0M1009.4 968.3h0M1210.2 464.0h0M1177.2 848.8h0M736.3 965.3h0M1201.0 844.4h0M1012.9 949.7h0M1177.9 1022.9h0M987.3 725.7h0M1164.6 459.7h0M1241.6 798.1h0M820.2 1061.3h0"/>
<path stroke="#de4968" d="M1238.8 526.3h0M1207.6 1048.2h0M1208.5 997.0h0M943.2 714.0h0M1152.1 741.0h0M824.2 860.1h0M1098.7 935.7h0M1206.4 1029.7h0M964.9 830.6h0M817.6 992.2h0M1238.9 308.3h0M954.6 1185.3h0M927.8 961.0h0M1193.9 846.0h0M882.9 839.9h0M1016.5 1195.3h0M1499.1 520.4h0"/>
<path stroke="#e75263" d="M1189.0 966.4h0M736.8 900.3h0M1207.3 437.0h0M980.7 836.8h0M1237.6 505.8h0M836.6 868.9h0M909.6 1089.7h0M1274.3 471.3h0M905.6 851.5h0M1208.8 799.6h0M1049.9 862.4h0"/>
<path stroke="#ed5a5f" d="M1041.7 900.0h0M1271.2 467.8h0M954.2 1141.2h0M947.6 813.6h0M1221.0 313.3h0M1073.7 907.2h0M921.0 819.1h0M874.1 724.0h0M978.0 756.3h0M1013.1 996.3h0M948.6 848.9h0M834.7 1171.8h0M1174.1 1029.7h0M989.0 823.5h0"/>
<path stroke="#f2645c" d="M820.0 1155.3h0M816.7 917.1h0M1239.3 534.1h0M1156.4 1097.0h0M1146.8 851.0h0M1078.2 932.7h0M945.2 713.9h0M1005.7 830.2h0M1605.7 643.0h0M1179.5 685.0h0M1125.8 837.5h0M1048.4 938.4h0M1055.2 1138.8h0M990.8 807.6h0M1257.6 499.9h0M1033.1 815.4h0"/>
<path stroke="#f7705c" d="M981.8 800.9h0M984.6 1202.3h0M630.7 508.2h0M902.1 812.2h0M1024.5 1119.1h0M993.0 1058.0h0M995.6 926.1h0M977.3 796.5h0"/>
<path stroke="#f97b5d" d="M809.1 823.6h0M295.4 983.5h0M1015.6 930.5h0"/>
<path stroke="#fc8961" d="M998.8 1170.4h0M1001.9 1028.7h0M865.6 818.6h0M1097.5 921.2h0M936.9 735.7h0"/>
<path stroke="#fd9467" d="M1226.7 839.4h0M1040.8 979.6h0M965.3 786.9h0M868.7 957.7h0M1159.3 450.7h0M1049.6 1021.2h0M1158.7 842.2h0"/>
<path stroke="#fe9f6d" d="M972.4 795.5h0M1714.2 897.5h0M935.6 734.5h0M1624.4 719.5h0M1201.5 445.6h0M1039.0 1022.2h0"/>
<path stroke="#feac76" d="M1111.1 1040.0h0"/>
<path stroke="#feb77e" d="M1186.0 800.8h0"/>
<path stroke="#000004" d="M1224.4 811.6h0M996.0 885.3h0M1001.4 1214.5h0M1118.5 913.3h0M996.8 1197.0h0M642.6 566.8h0M1080.3 1133.9h0M1221.0 437.0h0M1294.1 450.7h0M1253.8 379.6h0M1010.1 1123.0h0M829.1 1112.3h0M775.8 1041.0h0M1011.2 1177.0h0M1202.0 440.6h0M839.2 990.6h0M1246.1 416.4h0M772.1 887.6h0M1222.1 410.4h0M907.2 1221.2h0M946.4 820.2h0M1185.0 745.7h0M1202.7 445.4h0M998.2 1137.5h0M949.0 1133.4h0M848.9 828.5h0M1505.4 527.3h0M868.5 797.7h0M1539.9 515.2h0M1252.0 796.0h0M643.3 566.7h0M1261.9 327.9h0M1072.4 953.2h0M1009.0 982.6h0M1058.0 979.5h0M997.3 958.8h0M1172.7 943.2h0M1276.0 390.6h0M1153.2 1082.2h0M1188.5 821.9h0M861.3 1040.3h0M955.4 1171.9h0M1006.3 789.7h0M856.0 742.3h0M1025.1 1182.3h0M817.2 1080.4h0M1060.7 1104.1h0M837.8 802.0h0M1132.0 751.6h0M1119.3 838.9h0M896.3 813.8h0M746.3 904.4h0M1130.9 320.4h0M741.5 973.3h0M668.7 571.3h0M1205.2 325.4h0M1206.8 1044.7h0M964.6 1220.3h0M1064.9 884.8h0M1458.7 594.6h0M1021.1 970.6h0M880.8 1149.4h0M1188.9 277.4h0M960.3 1181.2h0M972.0 1221.3h0M990.9 826.2h0M892.0 1150.5h0M1031.4 1000.1h0M1040.5 887.6h0M1001.0 820.1h0M1190.3 1035.6h0M1133.5 1067.6h0M901.2 1176.7h0M1235.9 445.0h0M882.8 843.0h0M868.0 791.8h0M828.8 831.7h0M1191.4 1017.1h0M1282.1 386.1h0M982.2 1172.8h0M1000.0 1199.0h0M1004.7 1202.5h0M1221.0 413.0h0M858.7 814.1h0M886.8 1146.0h0M998.8 808.2h0M610.7 530.0h0M944.3 889.5h0M995.5 1147.0h0M1057.2 1119.2h0M878.7 843.8h0M942.8 1158.7h0M854.3 978.9h0M1294.0 369.4h0M1518.9 516.0h0M1287.8 361.9h0M1092.6 959.3h0M1017.0 1040.4h0M1269.2 970.4h0M1025.1 988.4h0M835.2 863.9h0M993.0 953.0h0M1288.8 357.7h0M814.2 823.5h0M1613.9 685.9h0M894.0 1150.6h0M1054.1 1144.3h0M737.8 939.3h0M1206.4 323.7h0M1008.2 954.1h0M840.9 1143.9h0M817.7 903.3h0M959.7 1155.7h0M1168.3 1019.5h0M841.5 1076.8h0M986.3 1041.3h0M1156.5 1106.0h0M978.6 1170.8h0M1297.6 411.9h0M959.8 1188.6h0M1171.1 1003.5h0M1195.0 995.1h0M799.1 1036.3h0M979.6 1048.7h0M1640.5 735.9h0M1150.5 386.5h0M868.1 1105.7h0M1167.5 1089.4h0M942.5 1221.6h0M725.6 998.7h0M1130.1 1081.1h0M1206.6 780.9h0M1104.9 1095.4h0M981.8 1082.2h0M1603.9 698.0h0M1070.0 900.8h0M896.6 1082.1h0M851.4 940.7h0M1136.8 366.9h0M1007.8 826.8h0M1008.3 938.4h0M959.8 1140.3h0M850.4 784.3h0M821.6 1158.2h0M802.3 784.6h0M1598.5 713.6h0M1055.8 1055.3h0M1078.6 927.6h0M897.8 1104.5h0M1147.4 306.0h0M858.7 754.9h0"/>
<path stroke="#451077" d="M892.1 1045.3h0M978.6 803.5h0M1242.3 494.8h0M1157.0 440.9h0M764.9 1067.7h0M1178.1 1083.0h0M1260.8 383.8h0M781.2 912.3h0M767.7 912.6h0M1035.9 886.0h0M845.8 856.2h0M889.4 1106.8h0M707.8 1080.3h0M729.5 972.8h0M1575.4 630.8h0M1189.2 998.2h0M977.2 970.1h0M831.3 834.6h0M1198.0 749.2h0M779.7 1084.0h0M720.5 1103.4h0M760.8 933.3h0M1512.7 548.7h0M712.2 992.8h0M700.5 1098.2h0M796.5 1025.8h0M718.4 944.2h0M1735.2 827.2h0M883.9 834.8h0M900.8 710.0h0M1204.1 331.3h0M900.5 1098.6h0M729.2 941.6h0"/>
<path stroke="#51127c" d="M880.8 1154.7h0M687.6 1105.1h0M1058.8 943.6h0M732.3 959.8h0M1279.3 443.9h0M778.3 1015.9h0M980.1 1180.1h0M968.1 1189.2h0M1165.0 433.6h0M1154.7 454.1h0M863.1 746.7h0M779.4 1011.4h0M700.6 1083.1h0M721.1 1012.3h0M1629.0 671.9h0M724.4 942.1h0M1049.4 985.5h0M1501.9 555.9h0M711.9 1030.4h0M1299.7 467.8h0M1041.7 859.5h0M840.1 1090.8h0M1137.9 376.1h0M925.4 852.1h0M896.3 1161.4h0M789.0 1030.1h0M707.6 1023.8h0M1501.4 548.1h0M916.2 917.3h0M848.3 1146.0h0M931.6 1183.0h0M736.8 1027.7h0M868.5 757.0h0M874.7 825.8h0M1277.4 356.4h0M868.8 1176.2h0M712.9 1034.6h0M709.3 1089.0h0M1223.4 952.7h0M751.0 918.1h0M1280.8 379.8h0M890.2 887.2h0M1512.3 517.9h0M735.9 960.0h0M719.6 950.0h0M1161.1 389.3h0M910.6 1064.8h0M1164.8 1030.2h0M919.0 1120.2h0M699.3 980.0h0M1270.5 344.5h0M699.9 1025.5h0M970.0 1146.0h0M1213.2 1006.6h0M1215.3 346.4h0M888.1 714.7h0M849.4 879.0h0M811.2 844.6h0M1256.6 476.5h0M780.9 1021.4h0M1052.0 1156.0h0M1238.8 691.6h0M1185.9 1048.7h0M884.1 840.1h0M917.8 887.0h0M779.3 1103.0h0M1590.8 638.3h0M759.6 1112.6h0M1343.8 647.6h0M701.1 1102.9h0M887.3 835.6h0M1018.5 998.5h0M790.1 889.7h0M837.4 1110.6h0M970.4 1241.3h0M1490.4 571.2h0M688.6 1028.2h0M1212.0 801.3h0M720.4 1039.0h0M773.7 982.4h0M901.0 703.0h0M910.0 968.8h0M938.6 1181.0h0M995.6 942.0h0M711.1 981.3h0M1250.3 481.6h0M914.7 716.4h0M767.3 1113.9h0M965.9 1206.7h0M1164.0 374.1h0M706.6 955.7h0M1200.5 1025.9h0M787.3 917.0h0M979.1 1164.2h0M1170.5 1031.9h0M1130.1 1051.7h0M1196.0 1049.5h0M864.8 1126.9h0M915.5 820.7h0M1221.9 949.6h0M1004.7 1136.0h0M999.0 1193.2h0M814.0 1041.9h0M714.5 1067.7h0M1230.4 949.4h0M912.5 798.7h0M1108.1 1031.2h0M922.9 998.1h0M1184.6 467.4h0M882.5 794.4h0M732.3 1001.9h0M1074.2 908.5h0M1181.2 730.0h0M1283.5 378.6h0M733.7 947.6h0M730.9 993.3h0M1196.4 751.2h0M1234.6 509.8h0M899.8 1141.4h0M779.2 972.4h0M996.3 1072.5h0M857.6 1125.2h0M849.1 829.1h0M790.6 979.9h0M1160.9 840.2h0M771.0 1101.1h0M835.4 838.4h0M897.9 822.0h0M719.7 1047.8h0M712.6 1019.8h0M1108.0 799.6h0M950.7 945.8h0M1277.8 377.3h0M1017.6 970.5h0M1291.9 408.1h0M942.6 1111.4h0M1055.4 900.1h0M1275.3 356.4h0M802.9 826.7h0M1029.5 948.4h0M751.0 1068.5h0M699.8 1045.8h0M1038.6 867.3h0M1161.3 855.7h0M1008.3 1218.9h0M973.6 999.0h0M1135.5 1062.1h0M1140.6 827.9h0M1529.6 522.7h0M1497.0 533.9h0M1207.6 1011.8h0M862.1 819.1h0M720.3 970.8h0M961.3 1191.5h0M706.3 1049.0h0M1200.9 674.5h0M1244.3 515.5h0M731.0 1053.8h0M1244.4 706.4h0M779.8 1001.1h0M1269.4 483.0h0"/>
<path stroke="#5a167e" d="M855.8 1119.7h0M917.3 1032.2h0M1587.1 700.8h0M881.9 802.7h0M1010.1 1179.3h0M1007.4 828.3h0M1201.6 749.0h0M767.7 1051.3h0M910.3 1208.7h0M896.4 1072.9h0M1267.4 372.5h0M703.0 949.1h0M739.6 1034.2h0M849.4 852.8h0M1017.2 1103.5h0M940.8 1043.2h0M1008.9 1240.7h0M1070.6 1146.8h0M1499.8 587.1h0M1203.6 852.6h0M1222.1 401.3h0M993.3 1142.1h0M1133.2 776.8h0M1090.0 940.1h0M864.6 753.1h0M1120.4 763.4h0M1211.9 456.4h0M917.9 978.8h0M759.4 1039.5h0M1105.8 1135.3h0M1267.8 406.1h0M1255.2 312.4h0M797.9 1046.3h0M1510.7 507.9h0M793.5 1082.5h0M1213.9 958.1h0M994.9 1099.2h0M983.4 823.1h0M706.8 944.2h0M814.3 796.2h0M699.3 1038.6h0M1258.0 698.8h0M1289.4 337.3h0M899.4 1170.1h0M746.9 1115.6h0M841.2 1033.9h0M850.1 802.1h0M737.1 1012.9h0M690.9 1050.3h0M1164.0 437.1h0M879.9 1123.7h0M720.2 1061.0h0M759.9 946.1h0M1605.1 690.0h0M1002.4 1009.5h0M754.4 991.6h0M901.1 1180.3h0M909.0 1117.8h0M989.4 1018.9h0M1008.5 820.2h0M993.8 821.2h0M1186.6 747.2h0M1231.0 963.0h0M1143.1 986.7h0M1053.2 874.1h0M1704.8 899.2h0M683.4 963.0h0M1105.3 1133.2h0M1013.7 1216.2h0M1204.0 750.4h0M915.0 1193.0h0M987.6 822.5h0M906.1 1081.1h0M757.9 1010.7h0M943.2 1054.6h0M882.7 1060.7h0M918.1 1065.0h0M1512.8 550.7h0M756.2 945.8h0M712.9 996.8h0M869.0 735.1h0M963.5 717.3h0M693.6 1002.5h0M753.7 958.1h0M1500.7 553.5h0M948.9 1211.1h0M1203.9 1066.1h0M819.5 960.7h0M857.7 1100.3h0M743.0 1039.3h0M914.4 700.7h0M1163.3 473.5h0M1225.9 823.5h0M1206.3 678.3h0M1581.5 636.5h0M909.2 995.3h0M1203.9 434.4h0M713.1 1080.1h0M731.5 1047.2h0M1247.8 311.6h0M690.5 1087.3h0M1121.1 1102.1h0M898.1 1216.8h0M919.6 1021.3h0M930.1 1158.5h0M988.1 1159.3h0M1248.8 495.5h0M1173.8 385.4h0M1071.5 1114.8h0M720.2 913.1h0M998.9 821.4h0M823.5 805.8h0M932.8 905.8h0M990.3 1120.7h0M865.5 786.5h0M959.2 722.8h0M966.8 915.8h0M627.3 551.3h0M1188.6 345.6h0M899.2 915.7h0M1242.9 965.5h0M994.7 989.1h0M759.1 1106.1h0M682.1 958.7h0M741.4 972.1h0M801.5 1030.1h0M892.4 793.1h0M1161.0 827.7h0M1230.4 678.4h0M1168.9 745.1h0M907.3 730.8h0M1625.3 725.1h0M906.8 1105.4h0M1219.0 837.5h0M1058.6 896.6h0M995.5 963.3h0"/>
<path stroke="#641a80" d="M917.4 1213.8h0M1165.6 763.6h0M996.9 788.1h0M943.2 827.2h0M757.0 991.7h0M918.8 894.3h0M1257.5 451.0h0M826.3 990.6h0M969.0 836.5h0M854.2 739.3h0M1095.4 937.8h0M704.6 1092.5h0M1019.7 1107.8h0M923.8 1197.7h0"/>
<path stroke="#782281" d="M921.0 1204.9h0M1015.6 1139.2h0M1009.7 1140.0h0M906.2 712.5h0M1199.3 836.4h0M870.9 1123.8h0M835.7 1123.3h0M993.1 1076.2h0M934.3 1234.2h0M857.5 817.0h0M980.4 993.7h0M962.2 1097.4h0M954.5 727.3h0M874.9 815.7h0M907.1 1233.1h0M853.5 1161.6h0M1073.8 970.9h0M1530.3 555.8h0M1059.0 990.1h0M1141.6 778.0h0M1219.2 804.3h0M914.0 710.4h0M1635.6 722.3h0M1211.8 435.1h0M863.7 1059.6h0M1512.3 566.0h0"/>
<path stroke="#832681" d="M920.7 1128.6h0M1067.8 878.2h0M1256.0 331.1h0M965.6 1031.6h0M957.5 1133.7h0M866.8 1178.8h0M1082.5 1012.9h0M1001.2 762.4h0M1258.9 377.8h0M1201.2 819.5h0M1044.1 1011.6h0M938.2 971.6h0M923.8 818.4h0M1035.5 1044.7h0M1193.5 334.5h0M799.5 1039.2h0M948.6 972.5h0M1161.0 317.1h0M902.4 809.1h0M1008.9 1188.8h0M914.7 1205.0h0M1519.4 523.1h0M1610.7 649.5h0M756.7 1075.1h0M944.8 822.2h0M860.9 1101.7h0M1099.9 934.5h0M1198.6 937.7h0M982.9 1005.5h0M999.2 748.3h0M620.7 550.7h0M814.1 1053.5h0M987.3 1160.9h0M911.7 728.4h0M1034.4 1052.7h0M877.9 792.5h0M1212.0 1050.4h0M1059.6 871.7h0M955.1 822.2h0M1192.1 969.6h0M1150.2 850.2h0M861.5 835.8h0M1186.8 350.8h0M1283.8 389.4h0M737.9 1057.5h0M931.4 831.3h0M852.4 753.2h0M1312.3 351.0h0M1067.1 980.5h0M984.0 1013.7h0M881.3 1050.8h0M1723.3 848.4h0M998.0 749.6h0M1048.5 939.7h0M804.8 782.5h0M1208.4 377.3h0M1061.3 897.0h0M872.9 742.3h0M1001.4 1184.1h0"/>
<path stroke="#8c2981" d="M696.8 973.8h0M988.9 965.9h0M1014.0 996.2h0M1238.0 432.8h0M1197.5 333.1h0M826.0 1156.5h0M949.7 824.3h0M1215.1 1055.3h0M1244.3 505.0h0M1128.8 829.1h0M1045.9 929.3h0M1239.7 535.6h0M799.6 949.9h0M981.7 1191.9h0M1148.3 973.1h0M1015.1 971.3h0M1626.9 652.8h0M1082.2 936.2h0M1277.8 379.1h0M1201.7 1017.3h0M893.5 710.7h0M1179.6 1033.8h0M937.7 1197.1h0M890.5 1193.8h0M1016.6 986.8h0M935.1 1178.8h0M823.2 795.1h0M1061.4 922.4h0M752.9 1070.0h0M1164.9 855.1h0M1590.8 699.0h0M839.1 1061.3h0M1038.2 1105.9h0M1147.9 338.1h0M1146.7 324.6h0M963.3 947.4h0M906.3 1174.3h0M1022.7 870.7h0M1192.4 860.5h0M1138.8 334.9h0M1519.4 520.8h0M798.8 1097.6h0M923.1 1121.2h0M869.4 1020.7h0M1103.7 935.8h0M1050.0 887.4h0M988.9 807.5h0"/>
<path stroke="#962c80" d="M973.5 798.2h0M946.6 806.1h0M1163.0 337.0h0M1036.5 948.9h0M920.1 1135.9h0M791.7 919.5h0M1042.3 1160.2h0M807.6 788.0h0M881.7 1002.5h0M818.6 859.3h0M1148.4 1099.9h0M980.4 944.8h0M1000.1 832.5h0M804.3 956.5h0M619.3 516.7h0M1201.0 446.5h0M1556.7 516.1h0M939.3 1053.1h0M1558.6 515.5h0M1086.1 883.7h0M989.3 1099.5h0M854.8 791.4h0M824.2 827.4h0M862.8 793.8h0M1616.9 704.6h0M1242.6 504.8h0M1197.3 818.7h0M781.9 986.9h0M1040.0 869.9h0M1019.8 1041.2h0M1269.5 348.7h0M1225.8 961.3h0M1224.6 1035.0h0M1200.8 811.2h0M1184.4 462.1h0M1003.4 990.7h0M1037.3 1004.2h0M963.1 1114.1h0M762.5 1039.7h0M959.3 1123.7h0M1075.6 928.5h0M1285.9 326.6h0M1030.3 979.0h0M998.8 1033.1h0M1144.6 993.7h0M1272.2 405.1h0M940.9 878.9h0M899.2 1129.6h0M943.9 1105.2h0M1259.0 803.8h0M921.4 1235.1h0M1168.4 329.9h0M972.2 1186.6h0"/>
<path stroke="#a1307e" d="M982.5 720.5h0M1083.3 921.0h0M1018.6 833.7h0M1239.6 518.5h0M868.5 1039.3h0M983.0 811.4h0M945.1 1138.0h0M1192.0 279.2h0M978.5 1138.7h0M1074.1 961.9h0M1039.8 1038.3h0M1196.7 1015.0h0M1130.6 964.7h0M487.3 219.9h0M880.7 738.2h0M1018.8 966.1h0M1046.9 879.4h0M1154.8 825.3h0M831.7 828.4h0M1058.9 968.6h0M786.6 953.7h0M798.3 896.9h0M1017.6 1019.8h0M1048.7 860.2h0M1023.3 1201.4h0M741.4 919.6h0M1107.5 936.8h0M1005.4 970.9h0M1228.0 794.8h0M1213.2 856.4h0M1031.4 1176.3h0M982.2 787.2h0M950.1 726.9h0M1033.7 1093.5h0M1528.7 555.4h0M1003.8 945.3h0M1058.9 993.4h0M1653.3 721.4h0M1120.0 819.3h0M1188.6 820.0h0M1008.0 1117.0h0"/>
<path stroke="#b73779" d="M882.1 994.0h0M1051.4 949.9h0M1047.7 963.5h0M1053.5 883.1h0M1208.7 806.9h0M1206.6 1016.8h0M651.3 566.7h0M1019.6 837.9h0M1577.3 519.9h0M984.1 945.0h0M998.2 796.6h0M1485.3 509.7h0M930.1 1062.0h0M1261.3 316.6h0M1126.8 312.0h0M944.2 942.9h0M1201.4 1031.0h0M1112.1 864.7h0"/>
<path stroke="#c03a76" d="M1565.7 516.2h0M1011.0 923.5h0M1191.9 986.9h0M1138.6 850.9h0M1027.9 1030.7h0M1238.7 815.8h0M962.8 714.5h0M1037.2 961.1h0M1257.6 348.7h0M1146.1 337.3h0M865.5 739.9h0M893.0 1138.1h0M1209.1 999.6h0M1177.9 954.1h0M1072.5 949.6h0M1239.0 480.9h0M999.9 945.6h0M948.8 981.1h0M1052.4 907.2h0M737.2 1000.8h0M893.2 710.0h0M994.3 744.8h0M1153.0 1082.2h0M974.0 811.9h0M1228.5 965.2h0M1253.0 362.4h0M836.8 832.3h0M1007.5 959.4h0M1714.4 893.0h0M1062.9 872.2h0M1231.2 308.3h0M774.4 1045.0h0M1577.4 513.7h0M1012.5 1048.9h0M1122.8 1016.5h0M1197.3 438.1h0M899.5 1118.6h0M923.5 961.4h0M1180.4 805.0h0M962.9 1007.8h0M1057.0 892.6h0M1107.0 903.2h0"/>
<path stroke="#ca3e72" d="M839.8 1178.1h0M1085.6 950.1h0M1082.8 919.5h0M983.9 1117.3h0M1272.6 349.5h0M819.9 1143.2h0M1032.2 1045.3h0M986.8 1113.3h0M669.3 565.3h0M1182.3 851.6h0M1070.2 964.1h0M954.9 729.5h0M920.9 799.2h0M1023.5 826.7h0M903.4 701.6h0M973.6 811.8h0M1019.7 1137.9h0M761.4 904.5h0M1034.4 1003.0h0M813.3 802.6h0M1037.6 921.0h0M1235.7 765.2h0M1199.1 409.8h0M1602.2 651.5h0M964.1 809.9h0M1006.6 1158.9h0M1629.0 677.5h0M1215.3 1033.5h0M1020.1 825.8h0M1072.7 828.6h0M980.5 810.9h0M1619.1 688.3h0M1044.7 932.7h0M992.7 759.2h0"/>
<path stroke="#d5446d" d="M950.9 799.3h0M1115.9 411.6h0M824.2 1149.2h0M1098.3 421.3h0M719.7 1000.1h0M1018.7 978.5h0M877.8 915.0h0M1253.2 335.3h0M1265.4 474.9h0M1161.7 960.1h0M873.3 832.0h0M1183.7 994.9h0M1052.2 963.7h0M985.2 804.0h0M950.6 978.8h0M1291.7 465.2h0M982.1 1005.6h0M860.6 791.8h0M1268.7 408.9h0M946.5 832.1h0M1575.4 516.1h0M985.1 787.8h0M717.6 1001.9h0M857.8 799.8h0M796.8 1103.7h0M1100.2 1157.5h0M1002.3 761.5h0M1040.4 1181.5h0M1000.2 1030.1h0M1036.6 1216.6h0M1018.3 980.0h0M1198.1 277.9h0M1189.4 332.1h0M1178.7 841.3h0M930.0 1105.2h0"/>
<path stroke="#de4968" d="M910.4 998.8h0M915.3 743.3h0M858.9 1037.2h0M926.6 816.0h0M1076.6 1006.4h0M979.0 1108.6h0M840.6 1006.6h0M948.2 951.0h0M1147.7 1097.2h0M1148.2 316.7h0M1216.8 438.7h0M889.4 741.4h0M1155.6 312.5h0M1651.2 717.5h0M918.5 892.4h0M1153.6 459.9h0M1081.0 904.4h0M998.5 835.7h0M1135.6 342.3h0M829.9 859.1h0M1042.2 828.7h0M1280.3 357.8h0M992.5 971.2h0"/>
<path stroke="#e75263" d="M907.7 1087.7h0M986.8 726.1h0M925.9 706.4h0M1199.2 441.4h0M1171.2 976.5h0M1015.1 983.8h0M1219.6 968.1h0M1206.0 442.1h0M883.0 1009.4h0M1163.2 734.8h0M1055.0 884.2h0M999.5 1208.9h0"/>
<path stroke="#ed5a5f" d="M1603.6 641.5h0M1023.0 1182.4h0M1252.9 813.8h0M882.7 1058.2h0M915.3 1064.8h0M1166.8 782.8h0M884.6 821.8h0M1082.9 947.8h0M639.7 518.0h0M1262.1 447.3h0M1116.9 820.0h0M1130.3 323.8h0M819.7 1086.3h0M738.5 1115.3h0M1206.6 340.7h0"/>
<path stroke="#f2645c" d="M954.7 948.4h0M1202.2 284.5h0M1001.3 920.4h0M905.7 803.7h0M1121.2 793.8h0M1043.1 808.4h0M1060.8 1063.6h0M1254.6 817.0h0M919.1 985.3h0M917.2 1093.1h0M760.0 1048.7h0M882.4 898.5h0M893.4 806.8h0M1079.9 856.0h0M1124.1 836.5h0M1192.8 427.9h0M827.1 1149.2h0M1038.6 974.9h0"/>
<path stroke="#f7705c" d="M1012.4 798.7h0M1249.2 740.9h0M1247.2 740.8h0M804.7 988.3h0M1137.1 1097.4h0"/>
<path stroke="#f97b5d" d="M1238.8 760.0h0M1212.8 790.3h0M1129.6 410.7h0M1159.4 450.1h0M1200.7 1025.7h0"/>
<path stroke="#fc8961" d="M1252.8 697.2h0M1464.0 589.0h0M978.3 731.3h0M919.0 704.7h0M1002.9 826.7h0M1220.6 760.5h0M1067.4 949.4h0"/>
<path stroke="#fd9467" d="M1020.1 1120.6h0M1000.4 1185.4h0M987.7 725.8h0M938.8 722.7h0M1039.8 993.4h0M979.3 985.7h0M621.4 508.0h0M1185.4 818.6h0M652.8 565.7h0M1116.0 861.2h0M1249.5 474.3h0M1219.6 674.2h0"/>
<path stroke="#fe9f6d" d="M1053.6 830.2h0M727.5 1059.9h0M1182.4 847.5h0"/>
<path stroke="#feac76" d="M590.3 538.8h0"/>
<path stroke="#000004" d="M794.7 889.7h0M1209.0 1053.0h0M1230.4 375.7h0M849.2 914.3h0M902.9 1202.7h0M944.4 795.6h0M1026.0 1067.5h0M1532.4 530.1h0M917.1 1185.7h0M1043.1 1172.5h0M1533.2 530.4h0M1013.0 1208.4h0M811.4 1085.6h0M815.2 841.5h0M829.0 1128.4h0M755.7 914.4h0M829.2 843.2h0M965.2 733.8h0M1232.3 955.2h0M1139.5 985.4h0M854.4 751.3h0M1136.0 1103.3h0M1148.3 1109.8h0M855.1 976.6h0M855.8 963.4h0M1642.1 713.9h0M1227.8 380.2h0M1123.3 964.0h0M1136.9 334.9h0M1485.4 524.1h0M1234.2 468.3h0M871.9 1189.8h0M857.0 755.4h0M1037.5 820.3h0M818.3 871.1h0M1180.6 387.4h0M844.8 835.7h0M1138.6 1102.5h0M1174.1 407.3h0M821.8 821.5h0M1026.7 877.3h0M821.5 855.8h0M1101.5 1119.2h0M834.2 853.9h0M952.4 1141.4h0M1243.6 502.8h0M779.4 1034.9h0M780.0 1039.2h0M909.6 1184.8h0M1172.9 1095.4h0M1614.1 685.0h0M1075.6 1153.1h0M922.1 1099.7h0M866.1 813.7h0M1637.9 703.3h0M807.8 864.8h0M1146.4 792.4h0M1184.3 337.2h0M1033.0 1214.8h0M1085.4 992.3h0M928.3 1076.3h0M883.2 1180.1h0M960.8 1182.9h0M971.4 1236.5h0M844.7 819.7h0M1183.3 1065.8h0M1235.0 449.9h0M902.0 962.7h0M1250.3 401.9h0M1064.7 1197.0h0M867.2 732.8h0M1223.0 360.8h0M1042.3 832.0h0M918.8 1142.8h0M906.6 850.1h0M1116.1 775.4h0M1202.5 792.8h0M849.3 789.4h0M899.4 1240.1h0M912.9 1211.4h0M1145.9 1089.2h0M833.3 1141.5h0M1085.8 1160.1h0M962.9 1196.0h0M972.9 1207.7h0M1256.5 378.1h0M1177.0 1038.6h0M895.3 1182.8h0M955.5 734.9h0M1173.8 407.7h0M862.5 1133.5h0M891.7 961.2h0M922.0 1161.3h0M1133.1 313.9h0M865.6 1163.3h0M844.6 862.4h0M959.6 1212.4h0M1021.3 1061.1h0M1224.4 462.2h0M1283.5 365.2h0M1149.5 1106.2h0M934.8 917.9h0M726.8 1115.9h0M1222.8 836.2h0M895.6 1119.6h0M1157.2 782.8h0M916.8 1179.0h0M1017.3 1065.6h0M1130.9 1060.5h0M878.6 1050.9h0M863.0 1130.9h0M963.0 1012.9h0M874.1 891.0h0M1061.3 1201.1h0M928.1 1231.4h0M1259.5 381.1h0M1133.6 399.0h0M915.9 1120.1h0M903.9 895.2h0M954.2 988.0h0M829.4 1140.6h0M859.5 927.5h0M1258.1 329.8h0M937.2 871.5h0M863.2 811.8h0M1100.0 790.9h0M1708.0 847.2h0M951.7 1134.5h0M904.2 1232.5h0M1697.6 818.4h0M775.3 1106.6h0M1155.0 1008.3h0M906.3 1193.4h0M965.3 893.3h0M804.0 1070.4h0M1081.4 1039.7h0M1213.8 321.1h0M940.8 1126.5h0M925.2 1139.2h0M911.6 1128.9h0M1166.1 411.3h0M865.4 792.6h0M880.0 739.3h0M972.4 1103.5h0M1275.2 477.8h0M1184.4 1072.3h0M1176.5 460.1h0M866.8 1071.8h0M1290.7 342.7h0M1160.7 1007.5h0M1250.3 523.4h0M1170.7 474.7h0M1250.3 482.0h0M1310.6 357.4h0M1024.4 1132.2h0M1599.2 712.0h0"/>
<path stroke="#451077" d="M1127.8 411.7h0M980.6 1231.2h0M864.0 758.9h0M708.8 1066.9h0M979.4 1202.2h0M1252.0 709.6h0M700.4 999.5h0M782.0 980.7h0M629.1 552.3h0M1658.9 728.8h0M1056.2 1037.7h0M994.8 1179.3h0M1022.8 1154.7h0M723.5 1109.3h0M601.3 538.0h0M743.4 1012.8h0M709.2 968.4h0M829.3 845.9h0M873.8 755.6h0M1049.7 1044.6h0M1614.1 718.1h0M906.2 1158.9h0M1120.6 844.4h0M1276.6 466.3h0M1240.0 664.0h0M1041.4 1187.3h0M1627.2 672.9h0M1183.4 961.9h0M1195.6 673.6h0M1281.8 342.9h0M928.9 980.1h0M1003.8 1142.8h0M853.0 797.8h0M869.8 808.3h0M1049.7 919.3h0M812.0 810.9h0M1142.8 791.2h0M884.3 1140.8h0M913.2 1136.8h0M1018.6 1183.9h0M1067.6 868.0h0M1259.9 458.7h0"/>
<path stroke="#51127c" d="M942.9 992.9h0M1258.7 453.0h0M1604.8 675.7h0M986.7 874.7h0M793.2 1025.9h0M988.3 964.7h0M954.1 835.9h0M1194.0 1003.6h0M1503.6 509.4h0M871.5 1161.3h0M914.3 1087.5h0M739.9 1022.7h0M739.6 1040.3h0M861.1 1214.0h0M949.8 948.0h0M928.6 1234.6h0M1239.7 328.7h0M793.7 1079.0h0M955.4 732.2h0M788.0 954.6h0M960.3 980.0h0M1104.5 966.7h0M906.2 1107.4h0M1278.8 467.8h0M1155.5 309.7h0M1247.9 491.8h0M1236.9 498.2h0M1076.6 1138.6h0M772.9 1117.6h0M731.1 1008.8h0M607.2 526.1h0M941.9 1142.2h0M1206.1 311.0h0M1298.8 355.0h0M1246.0 697.4h0M1521.5 573.7h0M940.1 713.3h0M646.0 567.3h0M831.2 798.1h0M1169.0 464.6h0M1059.8 1040.6h0M1046.2 865.9h0M904.9 736.8h0M1172.9 1086.1h0M1021.2 1003.1h0M953.3 1154.4h0M878.5 931.9h0M802.3 1033.1h0M1201.2 427.1h0M1006.7 1043.8h0M1100.7 1135.6h0M1026.7 1060.5h0M1202.8 676.0h0M823.2 1142.1h0M1103.7 1142.7h0M906.1 1014.4h0M1236.1 526.1h0M846.5 1150.1h0M740.7 1026.8h0M798.9 994.0h0M959.7 1019.9h0M726.0 939.5h0M1170.7 353.3h0M966.2 995.1h0M979.1 1121.8h0M866.2 742.6h0M997.7 738.5h0M1149.2 1063.5h0M1268.5 395.2h0M971.4 1137.1h0M759.4 1033.9h0M917.3 1019.0h0M707.7 929.9h0M738.1 1076.1h0M740.2 1091.5h0M806.4 1101.2h0M1535.4 548.2h0M917.9 1137.2h0M1292.2 335.7h0M633.0 566.4h0M859.5 814.6h0M722.3 1043.0h0M729.0 1060.0h0M1187.6 391.3h0M821.2 848.3h0M978.6 1225.4h0M1128.9 409.1h0M1530.7 521.2h0M1282.3 374.1h0M1124.2 1126.5h0M683.8 1048.1h0M1294.3 393.5h0M1101.6 1100.7h0M1067.4 828.7h0M995.7 1064.1h0M946.7 992.0h0M1248.2 529.1h0M1196.5 344.3h0M738.1 982.4h0M829.7 802.3h0M798.9 840.8h0M833.3 1121.4h0M918.1 867.9h0M1241.6 462.7h0M1041.0 839.2h0M1024.0 904.0h0M633.3 520.0h0M889.0 733.3h0M1255.2 387.6h0M1193.1 844.7h0M954.7 1025.4h0M1074.9 885.6h0M843.5 810.2h0M708.3 997.3h0M912.4 974.2h0M843.4 1002.2h0M712.3 1013.4h0M820.6 1108.1h0M859.9 1092.8h0M1235.2 688.0h0M774.0 887.1h0M691.4 988.9h0M839.1 1081.5h0M824.9 790.1h0M1102.9 886.5h0M940.2 811.1h0M898.5 1071.4h0M980.9 1120.8h0M1230.6 803.3h0M1145.9 1090.7h0M1216.9 844.8h0M834.7 857.9h0M999.0 978.2h0M1231.0 324.8h0M999.5 1179.1h0M1296.0 372.9h0M949.2 1165.6h0M760.5 1128.2h0M700.0 1025.1h0M781.9 1042.6h0M1235.1 770.1h0M784.9 990.0h0M788.4 1119.1h0M1024.1 1006.2h0M722.1 1059.7h0M785.9 870.7h0M927.8 1214.7h0M1202.5 289.7h0M894.6 1108.6h0M905.1 1218.9h0M746.4 1041.2h0M1037.7 980.6h0M1142.1 378.5h0"/>
<path stroke="#5a167e" d="M881.6 1104.5h0M1004.8 1148.4h0M1078.9 1156.9h0M889.5 818.1h0M977.2 947.2h0M1297.3 396.6h0M1057.3 806.8h0M819.0 958.1h0M1248.8 704.0h0M987.9 818.9h0M1287.3 378.1h0M1267.6 966.5h0M1136.4 1109.7h0M1258.6 384.9h0M720.8 1106.3h0M606.7 526.7h0M754.9 1109.5h0M885.5 718.9h0M711.7 1025.1h0M741.2 1103.4h0M1505.4 511.5h0M988.0 962.6h0M1263.4 476.4h0M1150.6 474.9h0M1534.3 546.0h0M744.4 1024.2h0M760.7 1088.1h0M1714.4 834.4h0M701.9 1034.7h0M1198.0 683.2h0M1051.2 807.5h0M1059.7 919.0h0M933.7 956.9h0M961.9 784.1h0M866.7 757.6h0M1219.0 749.8h0M1175.0 703.8h0M893.4 1148.1h0M944.1 1080.3h0M841.8 805.9h0M1079.3 920.1h0M971.5 1176.1h0M1223.8 962.5h0M925.5 988.7h0M1624.4 701.8h0M1281.8 339.3h0M1155.1 1018.0h0M1223.2 709.6h0M822.4 985.2h0M729.3 983.7h0M1162.1 372.1h0M1187.7 344.6h0M1062.0 944.4h0M708.9 949.8h0M775.3 1066.9h0M875.0 834.3h0M800.4 1030.8h0M746.7 999.1h0M973.1 1180.6h0M1193.3 977.5h0M721.3 1005.5h0M894.8 1183.2h0M1265.3 336.7h0M1094.2 1138.3h0M1042.6 1029.1h0M1096.0 1160.6h0M1159.3 440.4h0M785.4 974.0h0M700.9 1085.5h0M1155.9 474.7h0M778.7 1090.9h0M891.4 743.3h0M786.9 1019.5h0M1285.0 394.8h0M1176.4 474.7h0M782.5 972.5h0M1295.1 368.2h0M765.5 928.3h0M1170.7 437.0h0M1174.9 856.3h0M1199.1 1007.5h0M846.3 1175.8h0M586.7 540.7h0M1148.1 314.0h0M851.3 755.3h0M1629.0 693.4h0M843.3 790.5h0M990.2 1144.3h0M1052.1 949.5h0M938.9 922.5h0M861.8 788.0h0M748.5 1038.9h0M922.2 1179.7h0M1242.5 390.9h0M1339.5 650.0h0M1010.3 1145.6h0M1120.3 870.7h0M1180.8 378.7h0M942.5 814.4h0M1010.2 965.3h0M831.7 1047.4h0M1129.2 1081.3h0M742.1 1001.3h0M743.4 1015.6h0M1022.1 1184.7h0M976.3 1181.8h0M818.7 858.7h0M1162.0 740.8h0M923.9 953.4h0M920.3 914.4h0M818.5 1086.0h0M1210.7 1006.0h0M737.2 993.3h0M950.8 787.3h0M689.9 975.6h0M720.6 1104.9h0M712.2 990.9h0M1257.3 392.9h0M1553.0 521.7h0M750.4 989.1h0M1061.2 888.0h0M762.5 1080.5h0M1210.5 454.6h0M941.3 792.6h0M961.7 964.2h0M1146.7 737.5h0M859.6 851.5h0M1216.5 822.2h0M710.5 1099.2h0M860.3 1152.7h0M1036.3 983.1h0M805.4 1027.8h0M820.2 791.4h0M1022.5 1172.9h0M863.9 1127.0h0M1607.1 676.7h0M964.9 1156.6h0M747.8 1092.6h0M700.3 1096.9h0M884.2 1199.0h0M1186.0 760.0h0M1108.4 915.5h0M1198.4 445.6h0M968.3 1208.9h0M1043.2 935.2h0M1242.7 389.6h0M749.4 1079.7h0M1020.9 1116.6h0M955.1 965.6h0M744.2 1034.9h0M796.9 921.6h0M1237.0 659.8h0M1242.7 552.4h0M933.2 867.5h0M974.7 1218.3h0M1249.9 749.3h0M719.5 999.5h0M1099.2 913.3h0M1269.1 345.8h0M1507.6 583.8h0M1299.2 352.2h0M999.7 1150.5h0M840.9 825.5h0M1136.0 325.7h0M859.8 1165.1h0M1304.1 343.3h0M795.5 850.1h0M1254.4 721.3h0M719.0 992.0h0"/>
<path stroke="#641a80" d="M727.3 1039.5h0M965.1 1218.6h0M992.4 1199.4h0M746.4 965.2h0M740.7 1085.7h0M1483.9 567.5h0M1166.8 745.6h0M775.7 1043.6h0M990.4 1067.6h0M1162.9 740.3h0M1187.2 745.6h0"/>
<path stroke="#782281" d="M861.6 1155.5h0M820.3 1141.5h0M1027.3 1206.4h0M900.8 792.3h0M943.5 1111.2h0M1521.2 567.5h0M930.7 951.1h0M918.9 974.1h0M834.0 1009.7h0M1170.3 328.2h0M1270.1 408.4h0M1018.9 825.8h0M1125.6 1110.5h0M740.4 1081.8h0M819.4 865.7h0M994.8 1051.5h0M929.7 721.4h0M1552.4 528.4h0M1207.0 1019.7h0M1196.3 274.5h0M1212.1 1021.8h0M1007.6 967.9h0M977.4 949.2h0M1114.0 1136.8h0M968.8 1137.0h0M982.9 1125.7h0M1178.9 332.8h0"/>
<path stroke="#832681" d="M1509.1 517.1h0M984.8 814.7h0M1594.0 699.4h0M985.1 824.3h0M949.9 989.7h0M905.2 702.5h0M969.1 792.3h0M1039.3 858.9h0M1158.0 1069.3h0M899.7 1023.9h0M1228.2 936.3h0M1130.7 337.0h0M1001.7 1061.0h0M999.6 766.4h0M990.4 799.0h0M992.6 740.7h0M1061.6 938.6h0M1237.3 959.7h0M1141.6 312.5h0M815.6 789.1h0M899.8 1079.3h0M1038.9 907.3h0M989.8 799.1h0M1100.8 1000.4h0M1177.2 1041.5h0M928.0 997.8h0M938.4 712.6h0M990.4 740.1h0M800.7 820.8h0M1222.2 1039.9h0M1042.4 807.6h0M1055.9 874.5h0M1167.3 840.9h0M903.2 793.4h0M1260.3 367.8h0M1239.4 476.3h0M1210.7 1023.4h0M1001.3 1207.0h0M1048.3 931.8h0M953.1 818.5h0M1256.7 322.7h0M1198.9 1038.6h0M1285.7 388.4h0M1081.6 956.5h0"/>
<path stroke="#8c2981" d="M1067.1 1040.8h0M1206.8 1045.1h0M820.6 804.2h0M1179.4 848.7h0M781.4 1035.0h0M1166.5 820.0h0M698.8 1005.9h0M1143.6 820.0h0M1029.6 1204.1h0M705.8 1060.3h0M1031.3 988.3h0M922.0 1212.8h0M1090.5 1009.9h0M1256.3 350.7h0M927.3 1092.7h0M1060.6 899.3h0M1169.7 1046.4h0M882.3 740.6h0M1200.2 833.3h0M1257.6 389.1h0M913.5 813.9h0M1110.2 822.3h0M1151.2 819.4h0M1034.3 1003.6h0M658.7 576.7h0M954.3 993.0h0M1212.0 1028.0h0M1030.4 1024.8h0M1126.1 840.2h0M1221.8 1016.6h0M1053.9 964.2h0M801.4 1125.3h0M1222.6 936.3h0M1020.2 965.6h0M1029.9 1058.7h0M872.2 935.0h0M815.3 981.8h0M1051.6 842.9h0M1188.0 834.3h0M1080.6 926.5h0M1248.8 476.9h0M1177.6 373.6h0M1226.8 769.6h0M960.2 816.1h0M905.5 712.3h0M489.2 222.1h0M965.3 809.5h0M1127.5 335.3h0M1135.1 965.7h0"/>
<path stroke="#962c80" d="M903.9 799.3h0M1248.6 813.3h0M1029.0 1139.0h0M1198.3 344.7h0M1161.3 878.3h0M1217.6 1018.9h0M1087.4 961.8h0M1060.8 908.9h0M914.0 980.1h0M1017.2 1180.7h0M1505.9 517.7h0M837.2 871.3h0M1111.5 862.7h0M1204.9 1041.6h0M774.2 1059.6h0M1610.4 711.1h0M1244.8 745.6h0M1000.7 945.9h0M1246.0 772.0h0M1145.2 978.3h0M949.1 718.4h0M705.3 1080.0h0M844.4 1153.1h0M963.3 1197.3h0M1118.7 912.2h0M803.2 847.0h0M877.8 1086.4h0M1139.9 968.3h0M994.2 821.2h0M1133.9 321.3h0M1038.5 958.5h0M1608.8 713.1h0M1041.9 884.3h0M971.0 1170.2h0M1302.6 358.9h0M945.4 979.1h0M816.0 827.4h0M932.4 799.3h0M1135.9 329.0h0M894.0 1040.9h0M1483.9 516.1h0M1128.3 331.0h0M1065.2 817.1h0M993.1 970.1h0M1227.9 403.6h0M1161.1 1000.9h0M982.8 1091.4h0M1163.0 327.8h0M740.3 959.3h0M1251.9 415.9h0M1074.6 1029.6h0M1059.9 921.5h0M1103.8 874.3h0"/>
<path stroke="#a1307e" d="M1184.7 1004.1h0M980.4 927.7h0M969.9 817.3h0M1024.1 843.4h0M849.3 801.0h0M1000.5 1046.5h0M1153.9 822.5h0M975.6 1098.9h0M1008.1 768.0h0M1534.1 549.7h0M1009.6 982.4h0M1159.8 998.2h0M1039.2 956.5h0M1505.4 519.9h0M1143.7 317.9h0M1029.9 1195.5h0M1039.8 913.4h0M884.6 1002.2h0M1147.6 819.3h0M978.8 1127.4h0M999.3 824.7h0M1234.7 992.0h0M919.6 1141.5h0M1164.6 1035.1h0M1080.7 920.7h0M1019.3 831.0h0M1136.4 333.1h0M864.2 819.7h0M711.9 1100.1h0M1629.1 663.4h0M1228.4 951.8h0M1048.5 978.6h0M1212.3 1056.3h0M1013.0 1109.1h0M1131.6 335.0h0M978.8 938.2h0M817.6 822.9h0M886.0 1169.6h0M914.6 726.6h0M887.9 820.7h0M1162.4 971.8h0M1038.3 1142.3h0M1155.7 842.2h0M1268.3 406.8h0M949.7 805.4h0M1212.1 331.1h0M999.6 1213.6h0M1265.6 402.4h0M1103.7 414.1h0M932.8 1071.3h0"/>
<path stroke="#b73779" d="M906.3 1062.9h0M930.9 985.4h0M1179.7 1085.9h0M1188.2 397.1h0M1083.8 929.1h0M809.2 1071.7h0M959.7 720.6h0M855.8 803.3h0M1096.5 951.7h0M1098.6 865.1h0M1012.0 1073.7h0M1032.8 854.3h0M938.9 948.2h0M921.1 818.2h0M939.5 1105.1h0M1558.6 522.7h0M1707.1 901.9h0"/>
<path stroke="#c03a76" d="M1122.7 768.9h0M980.2 799.5h0M1194.1 479.3h0M1155.4 458.2h0M1066.1 900.4h0M1200.5 279.5h0M495.6 228.2h0M1003.9 761.4h0M953.9 790.4h0M1586.1 637.4h0M1156.5 313.6h0M720.6 1072.3h0M950.6 1011.3h0M1564.2 515.2h0M1243.7 963.6h0M1117.6 410.7h0M1066.1 1052.0h0M827.0 815.6h0M632.7 509.5h0M614.2 516.9h0M958.8 793.7h0M1146.7 309.9h0M1209.5 777.2h0M1026.0 982.3h0M1227.0 807.5h0M918.9 946.9h0M1494.0 523.8h0M1139.7 849.4h0M980.8 949.3h0M967.2 1024.1h0M1273.6 329.3h0M1280.1 328.9h0M930.4 1220.4h0M1192.4 1064.6h0M1058.0 881.6h0M1144.8 980.3h0M1027.6 994.4h0"/>
<path stroke="#ca3e72" d="M1133.3 962.6h0M1210.5 946.2h0M1228.0 764.8h0M837.9 1057.1h0M1094.6 915.7h0M779.2 1016.7h0M1243.6 752.8h0M1497.7 512.4h0M809.4 857.8h0M881.1 820.4h0M927.7 964.5h0M1040.4 924.5h0M859.9 770.2h0M1508.2 566.6h0M1061.7 948.9h0M1121.2 1107.7h0M1508.2 542.1h0M1224.2 964.5h0M1144.7 1095.2h0M951.2 994.6h0M1709.6 903.2h0M1254.6 802.7h0M1109.2 769.6h0M1236.4 498.7h0M1116.3 1038.2h0"/>
<path stroke="#d5446d" d="M928.9 1073.1h0M1306.2 361.5h0M1045.0 923.5h0M1055.6 905.0h0M1144.1 978.2h0M905.4 1131.2h0M1026.7 935.5h0M1622.8 657.6h0M967.8 721.0h0M1709.0 830.5h0M1616.0 697.1h0M856.1 841.5h0M972.4 1155.3h0M852.9 992.9h0M1492.3 513.3h0M950.2 1217.6h0M944.7 866.5h0M1020.2 1194.5h0M857.2 1159.8h0M1002.0 1181.4h0M922.0 1059.4h0M1210.7 338.4h0M999.8 1116.3h0M1162.9 836.8h0M1173.4 390.6h0M1123.6 769.6h0M931.0 1014.7h0M781.7 916.3h0M1137.7 994.0h0"/>
<path stroke="#de4968" d="M940.0 979.1h0M889.4 826.7h0M968.9 799.3h0M940.6 950.0h0M1196.9 407.1h0M615.3 519.3h0M1119.7 810.1h0M1258.2 314.0h0M1237.6 802.0h0M769.4 1129.7h0M970.9 964.7h0M1018.7 806.5h0M1031.7 837.8h0M926.0 711.3h0M1001.4 1067.8h0M1525.9 568.1h0M1011.9 1096.2h0M985.5 936.9h0M988.9 942.9h0"/>
<path stroke="#e75263" d="M493.5 226.3h0M1118.0 828.7h0M1038.7 823.9h0M1250.5 377.1h0M1502.9 581.0h0M1101.0 416.6h0M1620.7 666.3h0M915.7 1225.4h0M1192.0 731.2h0M936.6 811.9h0M491.3 224.2h0M1054.7 860.5h0M1129.8 326.2h0M1177.8 735.2h0M1215.4 781.9h0M1001.4 959.5h0"/>
<path stroke="#ed5a5f" d="M1251.5 488.1h0M1189.7 732.9h0M1008.0 929.2h0M1058.5 984.4h0M1121.0 313.8h0M1025.5 829.7h0M1574.5 510.5h0M911.0 961.1h0M944.3 734.3h0M990.2 992.9h0M893.5 1081.6h0"/>
<path stroke="#f2645c" d="M1711.2 856.8h0M863.6 1118.3h0M1068.8 827.5h0M1143.3 335.5h0M718.1 1073.7h0M918.5 700.9h0M1134.4 767.2h0M901.9 723.1h0M1168.0 732.4h0M1040.2 1180.8h0M1041.6 985.1h0M641.3 507.0h0M997.5 753.0h0M1248.4 314.8h0M992.0 1210.0h0M926.4 964.1h0"/>
<path stroke="#f7705c" d="M1181.2 684.4h0M791.9 1137.2h0M1295.4 360.0h0M1185.0 845.5h0M1264.7 383.9h0"/>
<path stroke="#f97b5d" d="M1006.3 814.8h0M1079.6 917.6h0M1206.1 434.7h0"/>
<path stroke="#fc8961" d="M1214.5 956.8h0M930.8 983.1h0M901.7 748.9h0M1180.6 689.8h0M1025.9 967.1h0M837.3 1134.7h0M1041.3 824.5h0M1093.9 902.2h0M1209.0 841.2h0M1200.4 1051.8h0M1033.3 809.5h0M1125.1 408.6h0"/>
<path stroke="#fe9f6d" d="M795.0 1037.4h0M912.9 804.1h0M1000.8 1033.4h0M1006.7 804.7h0M623.3 514.7h0"/>
<path stroke="#fec488" d="M1250.2 736.0h0M1111.5 1040.1h0"/></g>
<rect x="203.3" y="142.8" width="4.5" height="1161.8" fill="#000"/>
<rect x="203.3" y="1300.1" width="1667.6" height="4.6" fill="#000"/>
<rect x="230.2" y="1302" width="4.5" height="15" fill="#000"/>
<text x="195.97" y="1366.50" font-size="51.5">-</text><path d="M218.43 1337.90 C223.43 1336.90 225.73 1334.70 227.73 1330.70 L230.62 1330.70 L230.62 1366.50 L226.43 1366.50 L226.43 1340.50 L218.43 1340.50 Z" fill="#000"/><text x="240.43" y="1366.50" font-size="51.5">0</text>
<rect x="717.9" y="1302" width="4.5" height="15" fill="#000"/>
<text x="705.90" y="1366.50" font-size="51.5">0</text>
<rect x="1205.7" y="1302" width="4.5" height="15" fill="#000"/>
<path d="M1185.60 1337.90 C1190.60 1336.90 1192.90 1334.70 1194.90 1330.70 L1197.80 1330.70 L1197.80 1366.50 L1193.60 1366.50 L1193.60 1340.50 L1185.60 1340.50 Z" fill="#000"/><text x="1207.60" y="1366.50" font-size="51.5">0</text>
<rect x="1693.5" y="1302" width="4.5" height="15" fill="#000"/>
<text x="1667.60" y="1366.50" font-size="51.5">2</text><text x="1695.40" y="1366.50" font-size="51.5">0</text>
<rect x="191" y="242.9" width="14" height="4.5" fill="#000"/>
<path d="M127.40 235.00 C132.40 234.00 134.70 231.80 136.70 227.80 L139.60 227.80 L139.60 263.60 L135.40 263.60 L135.40 237.60 L127.40 237.60 Z" fill="#000"/><text x="149.40" y="263.60" font-size="51.5">5</text>
<rect x="191" y="482.2" width="14" height="4.5" fill="#000"/>
<path d="M127.40 474.30 C132.40 473.30 134.70 471.10 136.70 467.10 L139.60 467.10 L139.60 502.90 L135.40 502.90 L135.40 476.90 L127.40 476.90 Z" fill="#000"/><text x="149.40" y="502.90" font-size="51.5">0</text>
<rect x="191" y="721.5" width="14" height="4.5" fill="#000"/>
<text x="149.40" y="742.20" font-size="51.5">5</text>
<rect x="191" y="960.8" width="14" height="4.5" fill="#000"/>
<text x="149.40" y="981.40" font-size="51.5">0</text>
<rect x="191" y="1200.0" width="14" height="4.5" fill="#000"/>
<text x="132.75" y="1220.70" font-size="51.5">-</text><text x="149.40" y="1220.70" font-size="51.5">5</text>
<text x="929.0" y="100.7" font-size="70.8" font-weight="bold" textLength="181" lengthAdjust="spacingAndGlyphs">TCEA</text>
<path d="M1125.1 100.7H1134V53.7H1126.8C1125.9 59.2 1121.2 62.2 1113.3 62.4V68.2H1125.1Z" fill="#000"/>
<text x="921.0" y="1435.0" font-size="62.5" textLength="168" lengthAdjust="spacingAndGlyphs">UMAP</text>
<rect x="1087.7" y="1441.6" width="35.2" height="3.3" fill="#000"/>
<path d="M1126.90 1401.15 C1132.77 1399.98 1135.46 1397.40 1137.81 1392.71 L1141.21 1392.71 L1141.21 1434.70 L1136.28 1434.70 L1136.28 1404.20 L1126.90 1404.20 Z" fill="#000"/>
<g transform="translate(95 834.8) rotate(-90)"><text x="-5.0" y="0" font-size="62.5" textLength="168" lengthAdjust="spacingAndGlyphs">UMAP</text><rect x="162" y="7.2" width="34.8" height="2.8" fill="#000"/><text x="193.0" y="0" font-size="62.5">2</text></g>
<defs><linearGradient id="mg" x1="0" y1="0" x2="0" y2="1"><stop offset="0.000" stop-color="#fcfdbf"/><stop offset="0.033" stop-color="#fceeb0"/><stop offset="0.067" stop-color="#fddea0"/><stop offset="0.100" stop-color="#fecf92"/><stop offset="0.133" stop-color="#febf84"/><stop offset="0.167" stop-color="#feb078"/><stop offset="0.200" stop-color="#fe9f6d"/><stop offset="0.233" stop-color="#fc9065"/><stop offset="0.267" stop-color="#fa7f5e"/><stop offset="0.300" stop-color="#f7705c"/><stop offset="0.333" stop-color="#f1605d"/><stop offset="0.367" stop-color="#e95462"/><stop offset="0.400" stop-color="#de4968"/><stop offset="0.433" stop-color="#d2426f"/><stop offset="0.467" stop-color="#c43c75"/><stop offset="0.500" stop-color="#b73779"/><stop offset="0.533" stop-color="#a8327d"/><stop offset="0.567" stop-color="#992d80"/><stop offset="0.600" stop-color="#8c2981"/><stop offset="0.633" stop-color="#7e2482"/><stop offset="0.667" stop-color="#721f81"/><stop offset="0.700" stop-color="#641a80"/><stop offset="0.733" stop-color="#57157e"/><stop offset="0.767" stop-color="#491078"/><stop offset="0.800" stop-color="#3b0f70"/><stop offset="0.833" stop-color="#2c115f"/><stop offset="0.867" stop-color="#20114b"/><stop offset="0.900" stop-color="#140e36"/><stop offset="0.933" stop-color="#0b0924"/><stop offset="0.967" stop-color="#030312"/><stop offset="1.000" stop-color="#000004"/></linearGradient></defs>
<rect x="1927" y="578.2" width="64" height="319.3" fill="url(#mg)"/>
<rect x="1927" y="896.60" width="13" height="1.8" fill="#fff"/>
<rect x="1978" y="896.60" width="13" height="1.8" fill="#fff"/>
<text x="2019.20" y="915.90" font-size="51.5">0</text>
<rect x="1927" y="778.73" width="13" height="1.8" fill="#fff"/>
<rect x="1978" y="778.73" width="13" height="1.8" fill="#fff"/>
<path d="M2025.00 769.43 C2030.00 768.43 2032.30 766.23 2034.30 762.23 L2037.20 762.23 L2037.20 798.03 L2033.00 798.03 L2033.00 772.03 L2025.00 772.03 Z" fill="#000"/>
<rect x="1927" y="660.87" width="13" height="1.8" fill="#fff"/>
<rect x="1978" y="660.87" width="13" height="1.8" fill="#fff"/>
<text x="2019.20" y="680.17" font-size="51.5">2</text>
</svg></body></html>
